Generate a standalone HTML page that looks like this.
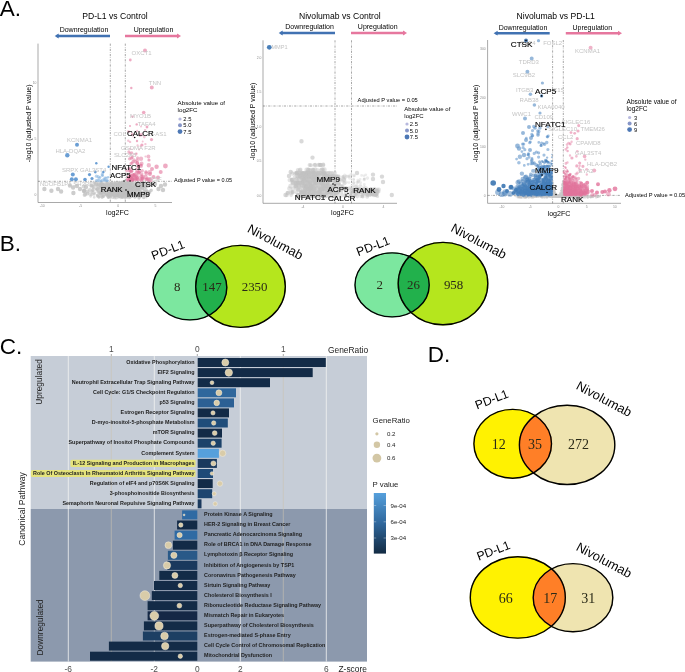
<!DOCTYPE html>
<html><head><meta charset="utf-8"><style>
html,body{margin:0;padding:0;background:#fff;}
svg{display:block;font-family:"Liberation Sans",sans-serif;}
</style></head><body>
<svg width="685" height="672" viewBox="0 0 685 672">
<rect width="685" height="672" fill="#fff"/>
<g opacity="0.999">
<text x="-0.2" y="16.0" font-size="22.5" fill="#000" text-anchor="start" font-weight="normal" font-family="Liberation Sans, sans-serif" >A.</text>
<text x="-0.2" y="251.0" font-size="22.5" fill="#000" text-anchor="start" font-weight="normal" font-family="Liberation Sans, sans-serif" >B.</text>
<text x="-0.2" y="353.6" font-size="22.5" fill="#000" text-anchor="start" font-weight="normal" font-family="Liberation Sans, sans-serif" >C.</text>
<text x="427.8" y="362.0" font-size="22.5" fill="#000" text-anchor="start" font-weight="normal" font-family="Liberation Sans, sans-serif" >D.</text>
<text x="115.0" y="19.0" font-size="8.6" fill="#000" text-anchor="middle" font-weight="normal" font-family="Liberation Sans, sans-serif" >PD-L1 vs Control</text>
<text x="84.0" y="31.9" font-size="7" fill="#000" text-anchor="middle" font-weight="normal" font-family="Liberation Sans, sans-serif" >Downregulation</text>
<text x="153.5" y="31.9" font-size="7" fill="#000" text-anchor="middle" font-weight="normal" font-family="Liberation Sans, sans-serif" >Upregulation</text>
<line x1="56.7" y1="36.0" x2="110.0" y2="36.0" stroke="#4172b2" stroke-width="2.4"/>
<polygon points="54.7,36 58.7,33.6 58.7,38.4" fill="#4172b2"/>
<line x1="125.0" y1="36.0" x2="179.0" y2="36.0" stroke="#e6779e" stroke-width="2.4"/>
<polygon points="181,36 177,33.6 177,38.4" fill="#e6779e"/>
<line x1="38.0" y1="43.6" x2="38.0" y2="202.5" stroke="#6e6e6e" stroke-width="0.6"/>
<line x1="38.0" y1="202.5" x2="172.0" y2="202.5" stroke="#6e6e6e" stroke-width="0.6"/>
<line x1="110.3" y1="43.6" x2="110.3" y2="202.5" stroke="#3c3c3c" stroke-width="0.45" stroke-dasharray="2.2 1.2 0.6 1.2"/>
<line x1="125.3" y1="43.6" x2="125.3" y2="202.5" stroke="#3c3c3c" stroke-width="0.45" stroke-dasharray="2.2 1.2 0.6 1.2"/>
<line x1="38.0" y1="181.3" x2="172.0" y2="181.3" stroke="#3c3c3c" stroke-width="0.45" stroke-dasharray="2.2 1.2 0.6 1.2"/>
<text x="117.5" y="215.0" font-size="7.1" fill="#000" text-anchor="middle" font-weight="normal" font-family="Liberation Sans, sans-serif" >log2FC</text>
<text transform="translate(30.9,123.3) rotate(-90)" font-size="7" fill="#000" text-anchor="middle" font-weight="normal" font-family="Liberation Sans, sans-serif">-log10 (adjusted P value)</text>
<text x="177.6" y="105.2" font-size="6.2" fill="#000" text-anchor="start" font-weight="normal" font-family="Liberation Sans, sans-serif" >Absolute value of</text>
<text x="177.6" y="112.4" font-size="6.2" fill="#000" text-anchor="start" font-weight="normal" font-family="Liberation Sans, sans-serif" >log2FC</text>
<path d="M180.0 119.0h0" stroke="#b7b9de" stroke-opacity="1.0" stroke-width="3.2" stroke-linecap="round" fill="none"/>
<text x="183.3" y="121.1" font-size="5.8" fill="#000" text-anchor="start" font-weight="normal" font-family="Liberation Sans, sans-serif" >2.5</text>
<path d="M180.0 125.2h0" stroke="#8796c8" stroke-opacity="1.0" stroke-width="4.0" stroke-linecap="round" fill="none"/>
<text x="183.3" y="127.3" font-size="5.8" fill="#000" text-anchor="start" font-weight="normal" font-family="Liberation Sans, sans-serif" >5.0</text>
<path d="M180.0 131.6h0" stroke="#4d78b5" stroke-opacity="1.0" stroke-width="4.8" stroke-linecap="round" fill="none"/>
<text x="183.3" y="133.7" font-size="5.8" fill="#000" text-anchor="start" font-weight="normal" font-family="Liberation Sans, sans-serif" >7.5</text>
<text x="174.0" y="182.0" font-size="5.5" fill="#000" text-anchor="start" font-weight="normal" font-family="Liberation Sans, sans-serif" >Adjusted P value = 0.05</text>
<text x="42.3" y="206.8" font-size="3.4" fill="#8c8c8c" text-anchor="middle" font-weight="normal" font-family="Liberation Sans, sans-serif" >-10</text>
<text x="80.6" y="206.8" font-size="3.4" fill="#8c8c8c" text-anchor="middle" font-weight="normal" font-family="Liberation Sans, sans-serif" >-5</text>
<text x="118.2" y="206.8" font-size="3.4" fill="#8c8c8c" text-anchor="middle" font-weight="normal" font-family="Liberation Sans, sans-serif" >0</text>
<text x="155.5" y="206.8" font-size="3.4" fill="#8c8c8c" text-anchor="middle" font-weight="normal" font-family="Liberation Sans, sans-serif" >5</text>
<text x="36.5" y="196.0" font-size="3.4" fill="#8c8c8c" text-anchor="end" font-weight="normal" font-family="Liberation Sans, sans-serif" >0</text>
<text x="36.5" y="140.4" font-size="3.4" fill="#8c8c8c" text-anchor="end" font-weight="normal" font-family="Liberation Sans, sans-serif" >5</text>
<text x="36.5" y="84.3" font-size="3.4" fill="#8c8c8c" text-anchor="end" font-weight="normal" font-family="Liberation Sans, sans-serif" >10</text>
<path d="M118.7 192.6h0M125.8 188.7h0M136.5 190.0h0M120.7 184.5h0M118.4 195.5h0M125.4 186.7h0M122.3 183.1h0M130.0 191.3h0M121.9 186.8h0M127.6 183.3h0M122.4 183.0h0M132.8 188.2h0M109.3 188.4h0M114.4 195.1h0M140.7 188.0h0M127.1 187.2h0M115.3 196.3h0M115.6 195.6h0M119.9 190.5h0M115.0 182.7h0M126.0 191.3h0M115.9 196.0h0M135.0 190.0h0M119.7 185.3h0M134.1 195.5h0M122.9 193.0h0M142.2 183.7h0M121.9 183.0h0M132.2 194.1h0M119.7 182.7h0M118.6 183.5h0M132.6 187.1h0M109.8 186.9h0M126.4 194.1h0M103.6 190.2h0M132.2 188.8h0M121.3 191.9h0M143.9 189.9h0" stroke="#c0c0c0" stroke-opacity="0.5" stroke-width="2.4" stroke-linecap="round" fill="none"/>
<path d="M128.6 190.8h0M112.4 183.4h0M107.4 182.8h0M130.1 185.0h0M141.1 194.1h0M114.4 182.8h0M99.1 188.7h0M130.3 184.1h0M132.3 190.3h0M118.1 184.9h0M122.4 184.6h0M128.0 194.0h0M136.5 189.5h0M112.8 188.3h0M132.2 187.8h0M110.5 190.6h0M116.0 191.5h0M111.3 193.0h0M150.0 192.8h0M94.2 197.3h0M112.2 191.1h0M103.9 189.5h0M128.5 193.3h0M114.1 196.2h0M111.8 194.6h0M110.6 183.1h0M139.2 192.8h0M124.7 183.1h0M132.7 195.8h0M119.6 188.9h0M126.2 188.0h0M132.6 194.0h0M127.9 189.2h0M114.0 189.5h0M115.4 183.4h0M112.3 191.2h0M122.3 189.9h0M134.2 186.6h0M113.7 195.9h0M100.7 184.1h0M135.8 195.0h0M133.4 191.8h0M137.8 196.0h0M140.2 184.7h0M142.7 184.9h0M121.6 184.0h0M106.1 193.9h0M124.0 186.2h0M137.0 186.7h0M134.1 195.9h0M102.3 184.2h0M109.2 188.5h0M139.0 196.3h0M140.7 191.4h0M144.8 191.5h0M135.2 196.1h0M124.7 186.3h0M130.6 197.2h0M109.8 184.5h0M126.5 187.2h0M117.8 193.3h0M135.3 192.9h0M117.8 184.3h0M118.2 195.3h0M122.4 189.1h0M113.2 182.9h0M134.5 185.8h0M131.9 193.0h0M147.1 191.7h0M148.3 185.3h0M114.9 195.6h0M109.6 195.8h0M124.5 188.6h0M122.3 189.8h0" stroke="#c0c0c0" stroke-opacity="0.5" stroke-width="2.8" stroke-linecap="round" fill="none"/>
<path d="M133.1 192.2h0M128.9 195.2h0M130.0 184.4h0M142.3 188.7h0M147.2 185.9h0M124.4 183.6h0M122.8 193.2h0M98.3 190.3h0M141.8 186.9h0M129.5 185.9h0M139.4 189.6h0M98.8 189.9h0M133.8 195.2h0M118.7 189.0h0M141.4 185.5h0M126.5 191.0h0M117.5 185.9h0M136.0 185.4h0M121.1 194.0h0M128.8 189.0h0M107.2 194.7h0M145.7 195.1h0M121.6 196.5h0M101.8 184.0h0M117.7 195.5h0M110.3 189.3h0M114.2 194.6h0M110.1 187.9h0M112.6 185.4h0M139.6 185.8h0M129.0 189.6h0M117.9 190.3h0M92.1 191.3h0M118.1 189.7h0M103.2 188.1h0M124.4 192.7h0M98.3 184.3h0M100.0 193.1h0M122.6 192.1h0M122.5 190.9h0M96.4 188.5h0M91.1 186.3h0M136.9 183.9h0" stroke="#c0c0c0" stroke-opacity="0.5" stroke-width="3.6" stroke-linecap="round" fill="none"/>
<path d="M126.0 187.3h0M111.4 189.0h0M138.8 189.8h0M126.9 196.1h0M130.1 195.7h0M109.5 183.8h0M132.3 189.6h0M112.9 186.8h0M131.7 183.6h0M124.0 193.9h0M143.5 196.0h0M130.9 194.1h0M104.9 192.2h0M129.8 185.8h0M102.4 197.1h0M127.2 196.3h0M126.8 197.1h0M131.4 194.0h0M120.2 188.0h0M116.6 188.1h0M122.2 196.2h0M120.6 191.0h0M127.6 190.1h0M131.3 186.3h0M107.5 183.1h0M110.2 185.1h0M141.2 186.4h0M111.8 187.9h0M121.7 195.6h0M148.2 186.2h0M111.6 195.2h0M106.5 183.9h0M121.9 189.6h0M124.8 196.1h0M114.7 192.4h0M123.5 195.4h0M127.2 190.2h0M120.2 183.0h0M145.5 186.7h0M127.8 183.1h0M120.2 184.3h0M101.7 183.8h0M129.3 188.1h0M126.4 187.6h0M125.7 183.9h0M129.9 188.1h0M110.9 195.4h0M122.5 184.4h0M139.5 191.4h0M112.8 189.2h0M132.2 187.2h0M128.2 189.6h0M115.7 193.0h0M94.1 182.6h0M116.9 188.0h0M118.7 196.4h0M98.0 192.0h0M120.0 183.0h0M125.5 187.5h0M143.5 193.9h0M117.6 194.1h0M112.1 192.4h0M108.2 185.4h0M129.4 188.2h0M146.9 195.8h0M114.1 187.1h0M120.1 186.0h0M118.4 196.3h0M118.2 191.0h0M129.3 196.0h0M131.6 187.3h0M151.3 190.2h0M143.8 184.4h0M140.2 195.8h0M128.1 193.6h0M91.8 194.4h0M143.5 195.7h0M143.6 197.4h0M121.3 186.7h0M144.2 193.5h0M113.5 193.5h0M112.7 190.8h0M139.1 192.2h0M113.1 192.8h0" stroke="#c0c0c0" stroke-opacity="0.5" stroke-width="3.2" stroke-linecap="round" fill="none"/>
<path d="M122.7 196.9h0M102.4 191.9h0M124.4 186.0h0M118.1 191.6h0M111.9 190.4h0M102.3 185.1h0M113.9 191.6h0" stroke="#c0c0c0" stroke-opacity="0.5" stroke-width="4.0" stroke-linecap="round" fill="none"/>
<path d="M84.5 190.6h0M85.2 194.2h0" stroke="#c0c0c0" stroke-opacity="0.6" stroke-width="4.0" stroke-linecap="round" fill="none"/>
<path d="M44.4 189.0h0M69.9 185.5h0M80.0 189.0h0M165.0 184.5h0" stroke="#c0c0c0" stroke-opacity="0.8" stroke-width="4.4" stroke-linecap="round" fill="none"/>
<path d="M128.9 178.4h0M130.7 177.6h0" stroke="#e2739b" stroke-opacity="0.5" stroke-width="2.4" stroke-linecap="round" fill="none"/>
<path d="M146.0 179.6h0M134.2 175.7h0M135.9 178.8h0M133.8 177.6h0M131.4 171.5h0M132.9 178.9h0M135.4 161.7h0" stroke="#e2739b" stroke-opacity="0.5" stroke-width="3.6" stroke-linecap="round" fill="none"/>
<path d="M126.9 170.8h0M138.2 177.2h0M129.5 158.8h0M134.0 159.9h0M129.7 179.9h0M130.7 174.8h0M131.7 152.9h0M142.3 170.7h0M130.9 163.7h0M130.4 168.8h0" stroke="#e2739b" stroke-opacity="0.5" stroke-width="3.2" stroke-linecap="round" fill="none"/>
<path d="M140.8 180.0h0M138.5 172.8h0M141.4 176.3h0" stroke="#e2739b" stroke-opacity="0.5" stroke-width="4.0" stroke-linecap="round" fill="none"/>
<path d="M128.4 177.3h0M131.2 180.1h0M132.2 178.6h0M130.8 178.3h0" stroke="#e2739b" stroke-opacity="0.5" stroke-width="2.8" stroke-linecap="round" fill="none"/>
<path d="M150.3 180.1h0" stroke="#e2739b" stroke-opacity="0.5" stroke-width="4.8" stroke-linecap="round" fill="none"/>
<path d="M141.0 158.7h0M148.8 165.3h0" stroke="#e2739b" stroke-opacity="0.5" stroke-width="4.4" stroke-linecap="round" fill="none"/>
<path d="M139.9 134.5h0" stroke="#e2739b" stroke-opacity="0.4" stroke-width="2.8" stroke-linecap="round" fill="none"/>
<path d="M140.5 146.3h0M132.9 155.9h0M129.9 148.8h0" stroke="#e2739b" stroke-opacity="0.4" stroke-width="2.0" stroke-linecap="round" fill="none"/>
<path d="M130.1 141.9h0M139.9 135.7h0" stroke="#e2739b" stroke-opacity="0.4" stroke-width="2.4" stroke-linecap="round" fill="none"/>
<path d="M142.1 133.2h0" stroke="#e2739b" stroke-opacity="0.4" stroke-width="1.6" stroke-linecap="round" fill="none"/>
<path d="M145.0 50.4h0M152.0 169.0h0" stroke="#e2739b" stroke-opacity="0.6" stroke-width="4.0" stroke-linecap="round" fill="none"/>
<path d="M130.3 60.0h0" stroke="#e2739b" stroke-opacity="0.6" stroke-width="2.8" stroke-linecap="round" fill="none"/>
<path d="M131.3 88.0h0" stroke="#e2739b" stroke-opacity="0.6" stroke-width="2.4" stroke-linecap="round" fill="none"/>
<path d="M143.7 112.5h0" stroke="#e2739b" stroke-opacity="0.6" stroke-width="3.6" stroke-linecap="round" fill="none"/>
<path d="M130.0 126.0h0" stroke="#e2739b" stroke-opacity="0.6" stroke-width="2.0" stroke-linecap="round" fill="none"/>
<path d="M151.5 139.6h0" stroke="#e2739b" stroke-opacity="0.6" stroke-width="3.2" stroke-linecap="round" fill="none"/>
<path d="M156.6 166.8h0" stroke="#e2739b" stroke-opacity="0.6" stroke-width="4.4" stroke-linecap="round" fill="none"/>
<path d="M165.4 166.0h0" stroke="#e2739b" stroke-opacity="0.6" stroke-width="4.8" stroke-linecap="round" fill="none"/>
<path d="M106.2 179.5h0M105.5 180.4h0M104.2 179.9h0M105.9 178.2h0" stroke="#86b4e0" stroke-opacity="0.55" stroke-width="2.8" stroke-linecap="round" fill="none"/>
<path d="M98.0 180.3h0M98.1 176.7h0" stroke="#86b4e0" stroke-opacity="0.55" stroke-width="3.2" stroke-linecap="round" fill="none"/>
<path d="M107.7 180.8h0" stroke="#86b4e0" stroke-opacity="0.55" stroke-width="2.4" stroke-linecap="round" fill="none"/>
<path d="M77.0 144.7h0" stroke="#5a94cf" stroke-opacity="0.9" stroke-width="4.0" stroke-linecap="round" fill="none"/>
<path d="M67.3 155.3h0" stroke="#5a94cf" stroke-opacity="0.9" stroke-width="4.4" stroke-linecap="round" fill="none"/>
<path d="M85.0 179.5h0" stroke="#5a94cf" stroke-opacity="0.9" stroke-width="3.6" stroke-linecap="round" fill="none"/>
<path d="M89.5 174.6h0" stroke="#5a94cf" stroke-opacity="0.9" stroke-width="3.2" stroke-linecap="round" fill="none"/>
<path d="M96.3 163.3h0" stroke="#5a94cf" stroke-opacity="0.9" stroke-width="2.4" stroke-linecap="round" fill="none"/>
<path d="M95.3 172.0h0" stroke="#5a94cf" stroke-opacity="0.9" stroke-width="2.8" stroke-linecap="round" fill="none"/>
<path d="M127.5 183.6h0M109.6 192.3h0M119.7 185.0h0M114.2 196.5h0M94.9 192.7h0M112.5 184.2h0M115.4 190.1h0M107.5 189.7h0M129.0 187.7h0M134.0 194.1h0M119.6 186.8h0M131.6 185.7h0M115.2 189.3h0M120.3 182.5h0M123.1 184.8h0M118.8 192.2h0M100.7 185.7h0M101.7 192.4h0M126.1 185.8h0M140.1 186.4h0M96.1 189.4h0M124.3 185.4h0M103.0 187.9h0M127.2 197.2h0M102.1 183.4h0M117.0 185.9h0M128.5 185.6h0M124.0 193.4h0M113.7 190.7h0M146.1 190.4h0M131.4 187.8h0M141.0 183.1h0M132.3 196.2h0M114.5 191.2h0M107.9 195.1h0M131.6 194.2h0M131.0 184.3h0" stroke="#c0c0c0" stroke-opacity="0.5" stroke-width="2.4" stroke-linecap="round" fill="none"/>
<path d="M136.5 183.1h0M109.6 189.5h0M142.7 184.5h0M127.9 187.9h0M138.8 192.7h0M122.5 194.9h0M146.5 185.0h0M125.8 193.2h0M135.7 195.2h0M119.2 187.3h0M121.2 183.7h0M125.8 193.0h0M137.1 189.5h0M139.3 188.1h0M141.0 188.6h0M104.2 185.8h0M124.9 182.7h0M141.3 183.0h0M130.3 186.8h0M101.3 182.9h0M101.6 189.4h0M135.8 192.1h0M126.2 186.9h0M135.0 185.3h0M129.2 183.5h0M147.0 192.3h0M105.0 194.6h0M100.9 190.6h0M127.8 185.7h0M119.8 194.5h0M145.3 182.9h0M118.8 186.2h0M125.5 183.0h0M133.0 186.4h0M120.3 189.0h0M106.5 195.2h0M116.3 184.7h0M110.9 184.7h0M123.2 189.2h0M121.4 189.0h0M128.5 191.4h0M121.7 195.9h0M101.4 192.9h0M132.0 189.5h0M128.3 185.1h0M125.6 193.8h0M121.2 195.1h0M114.1 186.4h0M126.9 187.1h0M122.9 191.1h0M108.9 197.4h0M107.9 185.4h0M131.0 185.4h0M127.2 184.1h0M138.5 189.5h0M124.6 185.2h0M116.5 184.5h0M112.3 188.2h0M141.3 192.8h0M129.4 183.1h0M137.8 195.0h0M93.3 187.9h0M108.5 189.8h0M130.6 196.5h0M113.8 189.0h0M108.2 191.3h0M111.7 184.4h0M111.3 183.7h0M149.7 191.9h0M136.9 184.8h0M103.4 191.5h0M101.1 193.1h0M98.9 197.5h0" stroke="#c0c0c0" stroke-opacity="0.5" stroke-width="2.8" stroke-linecap="round" fill="none"/>
<path d="M102.6 190.6h0M119.6 188.1h0M119.1 190.7h0M115.4 182.7h0M123.3 183.5h0M106.5 183.8h0M135.9 186.6h0M130.2 191.6h0M113.6 188.3h0M132.8 195.7h0M100.7 186.3h0M118.3 190.1h0M120.2 185.4h0M144.2 183.3h0M121.6 185.0h0M131.0 192.5h0M104.2 188.6h0M116.0 188.5h0M139.4 188.0h0M137.4 190.0h0M118.5 189.1h0M136.0 193.1h0M126.6 192.5h0M112.1 187.4h0M128.5 191.7h0M131.6 195.1h0M132.5 194.7h0M109.9 188.0h0M120.4 186.7h0M123.3 190.4h0M115.4 187.8h0M103.4 196.0h0M144.1 194.3h0M108.7 187.8h0M130.2 189.2h0M134.1 194.2h0M150.9 190.5h0M132.7 192.6h0M110.0 192.3h0M104.8 185.9h0M114.5 197.5h0M93.6 186.0h0" stroke="#c0c0c0" stroke-opacity="0.5" stroke-width="3.6" stroke-linecap="round" fill="none"/>
<path d="M127.1 185.3h0M130.7 183.1h0M95.6 183.4h0M121.2 195.9h0M130.9 186.0h0M109.8 185.3h0M135.3 190.7h0M118.4 190.4h0M127.9 184.9h0M97.4 188.6h0M134.7 189.9h0M103.6 196.3h0M128.4 190.3h0M134.3 195.2h0M100.9 183.3h0M116.1 184.5h0M113.0 186.4h0M131.6 187.3h0M133.6 188.9h0M122.2 189.0h0M137.5 186.1h0M134.4 185.6h0M100.5 192.1h0M125.0 191.2h0M127.5 183.8h0M97.0 184.3h0M132.6 189.2h0M127.4 191.9h0M120.6 189.7h0M137.3 193.2h0M146.6 195.1h0M122.3 185.6h0M106.0 189.3h0M102.1 193.6h0M109.7 194.5h0M135.8 194.6h0M120.9 191.2h0M113.6 189.9h0M110.0 192.0h0M138.3 188.2h0M108.7 188.5h0M123.7 187.3h0M112.7 188.5h0M132.2 189.0h0M97.7 196.2h0M117.9 197.2h0M112.4 192.0h0M132.6 187.5h0M106.9 190.2h0M122.9 192.3h0M118.7 184.4h0M118.4 185.9h0M132.4 195.7h0M122.0 184.7h0M107.8 188.7h0M128.0 190.4h0M131.2 189.3h0M119.3 196.4h0M134.9 188.1h0M116.7 195.5h0M134.9 196.9h0M137.4 186.2h0M125.9 185.4h0M140.0 191.3h0M108.7 189.3h0M115.9 183.8h0M97.9 191.0h0M108.8 196.0h0M107.4 184.2h0M92.7 185.9h0M129.3 188.6h0M105.1 186.8h0M145.7 187.4h0M110.9 184.3h0M110.5 193.9h0M111.3 194.7h0M136.6 195.0h0M135.6 184.9h0M120.2 185.4h0M114.0 188.9h0M103.8 192.1h0M113.0 188.3h0M92.7 189.7h0M94.4 194.1h0" stroke="#c0c0c0" stroke-opacity="0.5" stroke-width="3.2" stroke-linecap="round" fill="none"/>
<path d="M139.3 195.7h0M144.3 192.5h0M125.0 189.2h0M91.5 185.1h0M111.7 186.5h0M124.0 187.9h0M122.6 190.5h0" stroke="#c0c0c0" stroke-opacity="0.5" stroke-width="4.0" stroke-linecap="round" fill="none"/>
<path d="M89.8 190.1h0M87.4 193.4h0" stroke="#c0c0c0" stroke-opacity="0.6" stroke-width="4.0" stroke-linecap="round" fill="none"/>
<path d="M51.4 190.7h0M73.1 187.5h0M84.0 191.0h0M158.5 189.0h0" stroke="#c0c0c0" stroke-opacity="0.8" stroke-width="4.4" stroke-linecap="round" fill="none"/>
<path d="M129.6 179.1h0" stroke="#e2739b" stroke-opacity="0.5" stroke-width="2.4" stroke-linecap="round" fill="none"/>
<path d="M137.3 163.4h0M141.7 174.1h0M139.3 172.8h0M142.1 178.4h0M136.6 172.8h0M131.3 158.1h0" stroke="#e2739b" stroke-opacity="0.5" stroke-width="3.6" stroke-linecap="round" fill="none"/>
<path d="M133.5 177.0h0M131.0 177.6h0M138.3 165.0h0M132.5 180.2h0M136.8 179.4h0M135.3 180.0h0M135.3 178.2h0M132.9 161.7h0M131.0 171.3h0" stroke="#e2739b" stroke-opacity="0.5" stroke-width="3.2" stroke-linecap="round" fill="none"/>
<path d="M141.0 166.1h0M148.4 156.5h0M137.2 170.7h0" stroke="#e2739b" stroke-opacity="0.5" stroke-width="4.0" stroke-linecap="round" fill="none"/>
<path d="M136.1 175.9h0M133.8 174.4h0M129.3 170.6h0M130.1 153.6h0" stroke="#e2739b" stroke-opacity="0.5" stroke-width="2.8" stroke-linecap="round" fill="none"/>
<path d="M149.1 179.5h0" stroke="#e2739b" stroke-opacity="0.5" stroke-width="4.8" stroke-linecap="round" fill="none"/>
<path d="M142.6 176.9h0" stroke="#e2739b" stroke-opacity="0.5" stroke-width="4.4" stroke-linecap="round" fill="none"/>
<path d="M144.3 137.1h0" stroke="#e2739b" stroke-opacity="0.4" stroke-width="2.8" stroke-linecap="round" fill="none"/>
<path d="M141.0 126.5h0M131.9 135.0h0M142.7 141.5h0" stroke="#e2739b" stroke-opacity="0.4" stroke-width="2.0" stroke-linecap="round" fill="none"/>
<path d="M137.6 145.5h0M129.1 131.7h0" stroke="#e2739b" stroke-opacity="0.4" stroke-width="2.4" stroke-linecap="round" fill="none"/>
<path d="M136.8 153.3h0" stroke="#e2739b" stroke-opacity="0.4" stroke-width="1.6" stroke-linecap="round" fill="none"/>
<path d="M151.8 87.6h0M158.0 177.5h0" stroke="#e2739b" stroke-opacity="0.6" stroke-width="4.0" stroke-linecap="round" fill="none"/>
<path d="M147.0 127.0h0" stroke="#e2739b" stroke-opacity="0.6" stroke-width="2.8" stroke-linecap="round" fill="none"/>
<path d="M132.5 116.7h0" stroke="#e2739b" stroke-opacity="0.6" stroke-width="2.4" stroke-linecap="round" fill="none"/>
<path d="M146.0 172.0h0" stroke="#e2739b" stroke-opacity="0.6" stroke-width="3.6" stroke-linecap="round" fill="none"/>
<path d="M141.9 145.0h0" stroke="#e2739b" stroke-opacity="0.6" stroke-width="3.2" stroke-linecap="round" fill="none"/>
<path d="M100.2 177.1h0M102.7 173.0h0M102.5 175.3h0M105.0 180.1h0" stroke="#86b4e0" stroke-opacity="0.55" stroke-width="2.8" stroke-linecap="round" fill="none"/>
<path d="M99.2 178.3h0M99.8 181.0h0" stroke="#86b4e0" stroke-opacity="0.55" stroke-width="3.2" stroke-linecap="round" fill="none"/>
<path d="M108.5 177.1h0" stroke="#86b4e0" stroke-opacity="0.55" stroke-width="2.4" stroke-linecap="round" fill="none"/>
<path d="M72.8 174.6h0" stroke="#5a94cf" stroke-opacity="0.9" stroke-width="4.0" stroke-linecap="round" fill="none"/>
<path d="M92.0 178.5h0" stroke="#5a94cf" stroke-opacity="0.9" stroke-width="3.2" stroke-linecap="round" fill="none"/>
<path d="M103.4 172.0h0" stroke="#5a94cf" stroke-opacity="0.9" stroke-width="2.4" stroke-linecap="round" fill="none"/>
<path d="M113.9 191.0h0M125.7 183.3h0M146.3 197.2h0M131.3 189.0h0M125.8 193.7h0M120.6 186.4h0M101.4 192.7h0M108.8 190.0h0M123.3 191.0h0M113.8 185.1h0M122.2 183.5h0M121.7 185.7h0M128.3 184.2h0M136.5 196.4h0M101.9 186.6h0M123.0 184.7h0M115.7 192.4h0M103.6 189.7h0M121.7 185.4h0M106.2 194.7h0M137.0 185.8h0M108.0 197.4h0M109.2 184.8h0M96.8 189.4h0M110.1 186.5h0M126.2 184.7h0M131.6 188.2h0M136.1 183.2h0M117.7 190.8h0M109.1 192.4h0M119.7 189.5h0M103.9 187.9h0M106.8 195.4h0M107.6 186.3h0M111.6 186.4h0M138.2 194.5h0M137.2 188.4h0" stroke="#c0c0c0" stroke-opacity="0.5" stroke-width="2.4" stroke-linecap="round" fill="none"/>
<path d="M100.3 184.4h0M114.0 191.5h0M126.2 186.1h0M121.4 184.1h0M116.4 185.8h0M117.0 190.8h0M120.4 190.5h0M120.4 183.3h0M142.5 188.8h0M132.2 183.9h0M112.1 193.8h0M120.5 196.4h0M122.3 184.7h0M136.7 186.4h0M136.2 184.7h0M103.2 186.4h0M105.4 189.9h0M123.1 194.3h0M128.0 183.3h0M134.3 186.4h0M138.2 185.6h0M112.9 185.4h0M132.8 191.3h0M133.9 187.2h0M122.3 196.4h0M125.0 197.9h0M112.2 190.7h0M127.5 182.7h0M119.6 186.5h0M106.9 194.8h0M109.3 196.2h0M141.2 184.9h0M121.9 191.9h0M109.3 188.5h0M123.3 193.3h0M139.4 186.6h0M110.2 194.8h0M135.6 184.7h0M140.7 194.8h0M108.1 189.9h0M106.7 189.7h0M112.8 194.6h0M123.0 193.0h0M106.7 195.3h0M145.7 192.9h0M131.5 193.5h0M122.1 196.0h0M119.6 196.8h0M126.8 187.0h0M124.6 196.0h0M112.1 189.5h0M114.9 184.0h0M134.1 182.6h0M123.5 193.6h0M122.0 196.9h0M138.2 188.5h0M134.1 185.0h0M144.2 191.3h0M118.9 195.6h0M115.8 193.6h0M122.0 188.0h0M117.5 194.3h0M110.8 197.0h0M138.3 185.0h0M134.9 185.0h0M130.0 184.3h0M144.5 193.0h0M151.2 184.1h0M125.0 197.3h0M135.7 196.4h0M90.6 196.3h0M135.8 190.5h0M138.6 196.2h0" stroke="#c0c0c0" stroke-opacity="0.5" stroke-width="2.8" stroke-linecap="round" fill="none"/>
<path d="M130.0 188.6h0M107.6 183.3h0M117.6 195.1h0M108.6 197.1h0M127.6 189.0h0M104.5 183.5h0M138.1 186.3h0M125.2 184.1h0M128.6 183.3h0M125.3 193.5h0M109.6 188.3h0M102.8 184.4h0M128.3 191.5h0M119.7 183.1h0M112.7 191.5h0M142.2 187.6h0M136.0 186.6h0M142.6 193.4h0M144.7 195.3h0M112.5 193.7h0M107.9 191.8h0M119.4 183.0h0M120.2 183.1h0M149.2 183.4h0M135.5 195.3h0M129.1 197.5h0M119.3 195.6h0M120.1 190.7h0M117.8 185.2h0M124.5 182.7h0M134.6 184.2h0M111.9 183.6h0M132.2 187.8h0M130.2 186.3h0M137.6 184.8h0M118.1 187.4h0M135.5 184.4h0M133.0 188.0h0M146.3 190.1h0M118.5 192.5h0M117.9 190.2h0M141.7 184.8h0" stroke="#c0c0c0" stroke-opacity="0.5" stroke-width="3.6" stroke-linecap="round" fill="none"/>
<path d="M116.2 187.4h0M134.3 194.4h0M135.5 188.2h0M121.1 185.1h0M132.4 186.5h0M119.9 192.6h0M123.1 189.8h0M123.8 189.4h0M133.6 192.2h0M108.5 193.5h0M122.1 185.6h0M119.6 184.7h0M102.4 194.4h0M112.0 182.5h0M120.8 187.2h0M122.5 189.8h0M120.0 183.6h0M125.5 189.0h0M131.6 193.9h0M112.1 195.6h0M124.8 191.8h0M123.2 191.0h0M140.2 185.0h0M135.0 191.0h0M124.7 183.3h0M114.0 196.0h0M116.2 191.5h0M128.8 192.4h0M122.0 195.6h0M105.0 193.7h0M127.4 195.3h0M113.2 185.8h0M134.4 194.8h0M104.6 188.8h0M103.6 187.1h0M110.8 196.4h0M111.4 183.7h0M113.1 191.1h0M108.0 191.7h0M112.2 194.7h0M142.6 186.3h0M144.3 188.2h0M112.2 197.1h0M100.1 185.6h0M108.7 189.9h0M114.4 186.5h0M144.6 188.3h0M98.2 188.4h0M111.6 195.5h0M142.2 183.0h0M135.9 195.5h0M131.0 188.4h0M100.8 194.0h0M108.0 196.8h0M110.0 189.3h0M102.6 187.3h0M125.9 196.4h0M116.4 190.5h0M118.5 184.5h0M129.8 195.4h0M117.5 195.4h0M111.2 195.1h0M138.8 185.1h0M116.7 183.7h0M97.0 189.4h0M109.2 188.3h0M142.8 184.1h0M144.8 185.1h0M128.5 187.0h0M119.0 191.6h0M111.7 191.2h0M124.2 196.6h0M91.4 185.8h0M92.8 192.3h0M112.5 197.4h0M148.6 192.3h0M103.0 195.9h0M132.3 184.8h0M144.8 193.7h0M127.7 196.5h0M122.4 190.2h0M107.0 188.0h0M134.2 187.6h0" stroke="#c0c0c0" stroke-opacity="0.5" stroke-width="3.2" stroke-linecap="round" fill="none"/>
<path d="M98.4 183.6h0M118.7 183.7h0M129.8 187.7h0M146.9 193.5h0M124.0 193.2h0M90.1 193.9h0" stroke="#c0c0c0" stroke-opacity="0.5" stroke-width="4.0" stroke-linecap="round" fill="none"/>
<path d="M84.6 194.9h0M83.6 186.4h0" stroke="#c0c0c0" stroke-opacity="0.6" stroke-width="4.0" stroke-linecap="round" fill="none"/>
<path d="M58.0 189.0h0M73.4 193.0h0M86.0 187.0h0M163.0 190.0h0" stroke="#c0c0c0" stroke-opacity="0.8" stroke-width="4.4" stroke-linecap="round" fill="none"/>
<path d="M128.5 176.9h0" stroke="#e2739b" stroke-opacity="0.5" stroke-width="2.4" stroke-linecap="round" fill="none"/>
<path d="M141.8 180.0h0M131.1 177.8h0M137.4 162.9h0M133.1 174.7h0M135.9 176.8h0M130.4 175.5h0" stroke="#e2739b" stroke-opacity="0.5" stroke-width="3.6" stroke-linecap="round" fill="none"/>
<path d="M131.9 180.0h0M132.2 157.3h0M132.7 175.9h0M132.6 179.7h0M134.8 174.0h0M138.1 167.4h0M129.9 175.9h0M135.9 154.0h0M127.5 179.2h0" stroke="#e2739b" stroke-opacity="0.5" stroke-width="3.2" stroke-linecap="round" fill="none"/>
<path d="M137.2 178.6h0M142.4 178.6h0M146.3 173.6h0" stroke="#e2739b" stroke-opacity="0.5" stroke-width="4.0" stroke-linecap="round" fill="none"/>
<path d="M133.0 180.1h0M131.4 176.8h0M127.3 180.2h0M128.8 168.3h0" stroke="#e2739b" stroke-opacity="0.5" stroke-width="2.8" stroke-linecap="round" fill="none"/>
<path d="M149.8 172.3h0" stroke="#e2739b" stroke-opacity="0.5" stroke-width="4.4" stroke-linecap="round" fill="none"/>
<path d="M132.2 133.8h0" stroke="#e2739b" stroke-opacity="0.4" stroke-width="2.8" stroke-linecap="round" fill="none"/>
<path d="M128.0 131.3h0M145.3 130.1h0M144.9 130.1h0" stroke="#e2739b" stroke-opacity="0.4" stroke-width="2.0" stroke-linecap="round" fill="none"/>
<path d="M137.1 131.0h0M145.4 144.1h0" stroke="#e2739b" stroke-opacity="0.4" stroke-width="2.4" stroke-linecap="round" fill="none"/>
<path d="M133.1 136.7h0" stroke="#e2739b" stroke-opacity="0.4" stroke-width="1.6" stroke-linecap="round" fill="none"/>
<path d="M160.7 172.0h0M150.0 174.0h0" stroke="#e2739b" stroke-opacity="0.6" stroke-width="4.0" stroke-linecap="round" fill="none"/>
<path d="M136.7 124.4h0" stroke="#e2739b" stroke-opacity="0.6" stroke-width="2.4" stroke-linecap="round" fill="none"/>
<path d="M147.0 179.0h0" stroke="#e2739b" stroke-opacity="0.6" stroke-width="3.6" stroke-linecap="round" fill="none"/>
<path d="M141.0 165.0h0" stroke="#e2739b" stroke-opacity="0.6" stroke-width="3.2" stroke-linecap="round" fill="none"/>
<path d="M103.9 179.2h0M103.3 180.5h0M102.0 174.6h0M102.4 180.2h0" stroke="#86b4e0" stroke-opacity="0.55" stroke-width="2.8" stroke-linecap="round" fill="none"/>
<path d="M96.4 180.5h0" stroke="#86b4e0" stroke-opacity="0.55" stroke-width="3.2" stroke-linecap="round" fill="none"/>
<path d="M107.5 180.6h0" stroke="#86b4e0" stroke-opacity="0.55" stroke-width="2.4" stroke-linecap="round" fill="none"/>
<path d="M71.8 179.3h0" stroke="#5a94cf" stroke-opacity="0.9" stroke-width="4.0" stroke-linecap="round" fill="none"/>
<path d="M108.6 166.8h0" stroke="#5a94cf" stroke-opacity="0.9" stroke-width="2.4" stroke-linecap="round" fill="none"/>
<path d="M134.7 185.1h0M125.5 188.1h0M102.6 188.0h0M118.0 194.7h0M143.9 186.7h0M124.3 186.5h0M124.6 192.5h0M144.8 195.5h0M138.4 187.2h0M126.3 196.4h0M118.7 183.8h0M113.0 190.3h0M135.3 189.2h0M124.7 182.8h0M122.3 194.6h0M127.2 193.9h0M100.3 187.6h0M105.2 192.2h0M102.6 195.7h0M118.0 187.2h0M133.2 182.7h0M140.8 195.2h0M136.5 194.7h0M113.4 185.9h0M114.2 186.2h0M134.8 191.4h0M121.4 185.3h0M120.8 188.8h0M129.8 197.4h0M127.5 194.3h0M115.0 196.0h0M136.8 194.1h0M119.0 185.7h0M105.3 186.2h0M133.8 191.6h0M117.8 194.5h0M128.2 194.9h0" stroke="#c0c0c0" stroke-opacity="0.5" stroke-width="2.4" stroke-linecap="round" fill="none"/>
<path d="M115.9 195.8h0M97.3 195.2h0M130.4 191.6h0M123.7 185.5h0M119.4 191.6h0M132.1 183.6h0M132.7 191.1h0M117.8 194.3h0M134.6 186.9h0M116.3 188.5h0M119.7 190.2h0M117.8 182.8h0M140.4 196.5h0M101.3 192.5h0M121.7 183.9h0M107.7 194.6h0M118.9 182.8h0M139.3 198.0h0M121.5 187.8h0M132.1 183.7h0M129.5 187.6h0M117.5 184.1h0M133.1 195.2h0M110.1 192.7h0M121.6 185.7h0M112.3 194.4h0M113.1 184.1h0M114.7 187.6h0M123.2 193.6h0M122.9 190.2h0M122.6 192.5h0M114.7 185.0h0M93.6 194.1h0M120.2 193.1h0M131.2 190.7h0M135.7 193.7h0M114.7 194.0h0M123.0 195.5h0M119.0 187.4h0M146.3 191.8h0M108.1 194.5h0M131.7 183.1h0M103.6 184.1h0M138.2 186.6h0M111.4 186.5h0M110.2 186.7h0M146.0 193.3h0M138.1 190.6h0M141.5 192.0h0M126.1 183.5h0M114.1 193.7h0M121.7 185.1h0M131.5 192.9h0M110.6 185.1h0M106.1 185.9h0M128.1 195.3h0M101.9 193.7h0M130.6 186.9h0M112.7 192.2h0M125.8 183.2h0M126.5 185.6h0M133.9 186.9h0M144.1 195.5h0M127.5 183.1h0M117.0 183.8h0M120.8 188.6h0M141.3 185.5h0M108.7 185.9h0M95.8 185.7h0M110.1 196.1h0M139.1 193.2h0M101.0 187.2h0M145.4 195.6h0" stroke="#c0c0c0" stroke-opacity="0.5" stroke-width="2.8" stroke-linecap="round" fill="none"/>
<path d="M134.4 191.0h0M108.9 194.6h0M131.2 192.2h0M131.4 191.2h0M126.2 184.8h0M110.7 191.1h0M119.0 183.2h0M137.4 186.1h0M132.5 194.0h0M135.0 196.9h0M110.9 194.2h0M121.3 192.6h0M140.8 194.6h0M106.7 188.4h0M108.8 189.4h0M107.6 190.3h0M116.1 189.7h0M114.6 194.6h0M124.0 184.9h0M120.8 185.4h0M122.1 195.1h0M111.3 184.4h0M113.6 185.9h0M123.5 188.1h0M130.7 188.6h0M114.6 184.5h0M130.5 189.1h0M147.7 191.5h0M140.9 196.2h0M123.0 182.6h0M100.0 193.9h0M121.0 187.2h0M135.9 190.6h0M98.5 186.1h0M116.2 191.0h0M119.5 192.7h0M104.3 186.3h0M104.5 192.3h0M98.8 196.5h0M113.6 195.1h0M137.0 185.6h0M101.9 197.1h0" stroke="#c0c0c0" stroke-opacity="0.5" stroke-width="3.6" stroke-linecap="round" fill="none"/>
<path d="M127.5 186.3h0M130.0 193.3h0M122.3 197.3h0M134.4 190.8h0M130.0 192.6h0M134.7 196.0h0M111.2 190.5h0M93.4 190.3h0M112.9 191.3h0M128.5 183.6h0M118.8 191.6h0M99.1 193.1h0M131.5 192.9h0M121.4 196.2h0M130.1 186.5h0M127.8 190.6h0M104.7 185.6h0M100.2 196.2h0M143.4 194.5h0M117.4 188.3h0M139.3 185.7h0M113.3 186.9h0M124.3 195.6h0M110.9 186.1h0M138.8 197.9h0M131.5 183.2h0M129.2 185.7h0M132.0 196.3h0M102.0 186.6h0M141.3 192.3h0M120.6 184.0h0M122.1 194.7h0M120.4 189.2h0M107.5 193.6h0M133.0 192.4h0M126.6 193.2h0M119.9 191.9h0M115.5 188.8h0M107.6 185.8h0M133.0 189.2h0M125.1 195.8h0M103.9 184.7h0M120.8 197.6h0M109.8 186.4h0M125.2 185.3h0M116.8 193.6h0M137.7 189.4h0M131.9 190.5h0M94.9 183.3h0M104.1 186.6h0M130.6 191.3h0M113.6 187.1h0M119.6 189.9h0M116.0 198.0h0M133.9 190.7h0M107.5 190.2h0M117.8 184.3h0M119.1 188.5h0M125.6 188.9h0M121.1 195.7h0M137.3 183.2h0M113.2 189.6h0M97.5 195.4h0M120.9 185.5h0M143.9 197.6h0M112.3 190.1h0M123.0 182.7h0M109.0 187.8h0M133.5 193.2h0M110.7 183.8h0M93.7 188.2h0M112.1 194.3h0M133.7 186.6h0M120.7 191.9h0M112.7 185.6h0M105.6 187.2h0M138.3 195.6h0M150.7 184.0h0M92.7 190.6h0M127.9 188.8h0M97.6 185.7h0M143.3 186.3h0M130.2 194.9h0" stroke="#c0c0c0" stroke-opacity="0.5" stroke-width="3.2" stroke-linecap="round" fill="none"/>
<path d="M101.1 191.6h0M109.2 194.3h0M110.6 190.3h0M96.5 183.8h0M109.7 189.4h0M121.6 191.8h0" stroke="#c0c0c0" stroke-opacity="0.5" stroke-width="4.0" stroke-linecap="round" fill="none"/>
<path d="M84.2 190.9h0M87.5 191.5h0" stroke="#c0c0c0" stroke-opacity="0.6" stroke-width="4.0" stroke-linecap="round" fill="none"/>
<path d="M61.1 191.5h0M76.9 186.0h0M161.0 186.0h0M155.0 184.0h0" stroke="#c0c0c0" stroke-opacity="0.8" stroke-width="4.4" stroke-linecap="round" fill="none"/>
<path d="M128.2 180.4h0" stroke="#e2739b" stroke-opacity="0.5" stroke-width="2.4" stroke-linecap="round" fill="none"/>
<path d="M132.7 179.6h0M130.1 178.3h0M130.2 179.7h0M136.6 175.6h0M135.7 178.7h0M137.2 160.3h0" stroke="#e2739b" stroke-opacity="0.5" stroke-width="3.6" stroke-linecap="round" fill="none"/>
<path d="M133.7 175.2h0M131.1 179.9h0M130.2 177.2h0M137.6 157.9h0M132.1 163.1h0M128.9 151.8h0M129.9 171.3h0M138.3 166.4h0M131.8 179.2h0" stroke="#e2739b" stroke-opacity="0.5" stroke-width="3.2" stroke-linecap="round" fill="none"/>
<path d="M141.6 163.5h0M137.8 179.3h0M139.5 171.6h0" stroke="#e2739b" stroke-opacity="0.5" stroke-width="4.0" stroke-linecap="round" fill="none"/>
<path d="M132.2 170.9h0M132.7 179.0h0M133.1 179.7h0" stroke="#e2739b" stroke-opacity="0.5" stroke-width="2.8" stroke-linecap="round" fill="none"/>
<path d="M145.6 176.9h0" stroke="#e2739b" stroke-opacity="0.5" stroke-width="4.4" stroke-linecap="round" fill="none"/>
<path d="M141.7 135.0h0" stroke="#e2739b" stroke-opacity="0.4" stroke-width="2.8" stroke-linecap="round" fill="none"/>
<path d="M145.4 156.6h0M139.1 149.6h0" stroke="#e2739b" stroke-opacity="0.4" stroke-width="2.0" stroke-linecap="round" fill="none"/>
<path d="M128.3 140.8h0" stroke="#e2739b" stroke-opacity="0.4" stroke-width="2.4" stroke-linecap="round" fill="none"/>
<path d="M131.9 149.3h0" stroke="#e2739b" stroke-opacity="0.4" stroke-width="1.6" stroke-linecap="round" fill="none"/>
<path d="M153.5 177.0h0" stroke="#e2739b" stroke-opacity="0.6" stroke-width="4.0" stroke-linecap="round" fill="none"/>
<path d="M137.0 141.0h0" stroke="#e2739b" stroke-opacity="0.6" stroke-width="2.4" stroke-linecap="round" fill="none"/>
<path d="M149.0 160.0h0" stroke="#e2739b" stroke-opacity="0.6" stroke-width="3.2" stroke-linecap="round" fill="none"/>
<path d="M102.6 175.6h0M105.0 177.8h0M106.4 180.8h0M101.2 180.9h0" stroke="#86b4e0" stroke-opacity="0.55" stroke-width="2.8" stroke-linecap="round" fill="none"/>
<path d="M96.4 176.2h0" stroke="#86b4e0" stroke-opacity="0.55" stroke-width="3.2" stroke-linecap="round" fill="none"/>
<path d="M107.4 177.5h0" stroke="#86b4e0" stroke-opacity="0.55" stroke-width="2.4" stroke-linecap="round" fill="none"/>
<path d="M75.9 179.3h0" stroke="#5a94cf" stroke-opacity="0.9" stroke-width="4.0" stroke-linecap="round" fill="none"/>
<text x="131.6" y="55.0" font-size="6" fill="#c4c4c4" text-anchor="start" font-weight="normal" font-family="Liberation Sans, sans-serif" >OXCT1</text>
<text x="148.8" y="85.0" font-size="6" fill="#c4c4c4" text-anchor="start" font-weight="normal" font-family="Liberation Sans, sans-serif" >TNN</text>
<text x="130.0" y="117.8" font-size="6" fill="#c4c4c4" text-anchor="start" font-weight="normal" font-family="Liberation Sans, sans-serif" >MYO1B</text>
<text x="137.7" y="126.2" font-size="6" fill="#c4c4c4" text-anchor="start" font-weight="normal" font-family="Liberation Sans, sans-serif" >TAFA4</text>
<text x="113.5" y="135.6" font-size="6" fill="#c4c4c4" text-anchor="start" font-weight="normal" font-family="Liberation Sans, sans-serif" >COL</text>
<text x="150.0" y="135.6" font-size="6" fill="#c4c4c4" text-anchor="start" font-weight="normal" font-family="Liberation Sans, sans-serif" >1-AS1</text>
<text x="121.0" y="149.8" font-size="6" fill="#c4c4c4" text-anchor="start" font-weight="normal" font-family="Liberation Sans, sans-serif" >GSDMA F2R</text>
<text x="114.0" y="156.5" font-size="6" fill="#c4c4c4" text-anchor="start" font-weight="normal" font-family="Liberation Sans, sans-serif" >SLC2A5</text>
<text x="67.0" y="142.4" font-size="6" fill="#c4c4c4" text-anchor="start" font-weight="normal" font-family="Liberation Sans, sans-serif" >KCNMA1</text>
<text x="55.4" y="152.8" font-size="6" fill="#c4c4c4" text-anchor="start" font-weight="normal" font-family="Liberation Sans, sans-serif" >HLA-DQA2</text>
<text x="62.0" y="172.2" font-size="6" fill="#c4c4c4" text-anchor="start" font-weight="normal" font-family="Liberation Sans, sans-serif" >SRPX  GAL3ST4</text>
<text x="40.0" y="186.0" font-size="6" fill="#c4c4c4" text-anchor="start" font-weight="normal" font-family="Liberation Sans, sans-serif" >NDOFB1P1  SH3RF2</text>
<text x="150.0" y="181.0" font-size="6" fill="#c4c4c4" text-anchor="start" font-weight="normal" font-family="Liberation Sans, sans-serif" >PSF</text>
<text x="127.0" y="136.0" font-size="7.9" fill="#000" text-anchor="start" font-weight="normal" font-family="Liberation Sans, sans-serif" stroke="#000" stroke-width="0.15">CALCR</text>
<text x="111.5" y="169.7" font-size="7.9" fill="#000" text-anchor="start" font-weight="normal" font-family="Liberation Sans, sans-serif" stroke="#000" stroke-width="0.15">NFATC1</text>
<text x="110.0" y="178.0" font-size="7.9" fill="#000" text-anchor="start" font-weight="normal" font-family="Liberation Sans, sans-serif" stroke="#000" stroke-width="0.15">ACP5</text>
<text x="135.0" y="187.4" font-size="7.9" fill="#000" text-anchor="start" font-weight="normal" font-family="Liberation Sans, sans-serif" stroke="#000" stroke-width="0.15">CTSK</text>
<text x="100.7" y="192.4" font-size="7.9" fill="#000" text-anchor="start" font-weight="normal" font-family="Liberation Sans, sans-serif" stroke="#000" stroke-width="0.15">RANK</text>
<text x="127.0" y="196.5" font-size="7.9" fill="#000" text-anchor="start" font-weight="normal" font-family="Liberation Sans, sans-serif" stroke="#000" stroke-width="0.15">MMP9</text>
<path d="M134.7 137.5h0M128.0 191.5h0" stroke="#000" stroke-opacity="1.0" stroke-width="1.6" stroke-linecap="round" fill="none"/>
<path d="M124.0 181.0h0" stroke="#000" stroke-opacity="1.0" stroke-width="1.6" stroke-linecap="round" fill="none"/>
<path d="M130.0 181.0h0" stroke="#000" stroke-opacity="1.0" stroke-width="1.6" stroke-linecap="round" fill="none"/>
<path d="M126.0 190.0h0" stroke="#000" stroke-opacity="1.0" stroke-width="1.6" stroke-linecap="round" fill="none"/>
<text x="339.8" y="18.8" font-size="8.6" fill="#000" text-anchor="middle" font-weight="normal" font-family="Liberation Sans, sans-serif" >Nivolumab vs Control</text>
<text x="309.6" y="28.6" font-size="7" fill="#000" text-anchor="middle" font-weight="normal" font-family="Liberation Sans, sans-serif" >Downregulation</text>
<text x="377.7" y="28.6" font-size="7" fill="#000" text-anchor="middle" font-weight="normal" font-family="Liberation Sans, sans-serif" >Upregulation</text>
<line x1="280.7" y1="33.0" x2="335.0" y2="33.0" stroke="#4172b2" stroke-width="2.4"/>
<polygon points="278.7,33 282.7,30.6 282.7,35.4" fill="#4172b2"/>
<line x1="351.0" y1="33.0" x2="405.0" y2="33.0" stroke="#e6779e" stroke-width="2.4"/>
<polygon points="407,33 403,30.6 403,35.4" fill="#e6779e"/>
<line x1="263.0" y1="40.3" x2="263.0" y2="203.3" stroke="#6e6e6e" stroke-width="0.6"/>
<line x1="263.0" y1="203.3" x2="397.0" y2="203.3" stroke="#6e6e6e" stroke-width="0.6"/>
<line x1="335.0" y1="40.3" x2="335.0" y2="203.3" stroke="#3c3c3c" stroke-width="0.45" stroke-dasharray="2.2 1.2 0.6 1.2"/>
<line x1="351.5" y1="40.3" x2="351.5" y2="203.3" stroke="#3c3c3c" stroke-width="0.45" stroke-dasharray="2.2 1.2 0.6 1.2"/>
<line x1="263.0" y1="106.0" x2="397.0" y2="106.0" stroke="#3c3c3c" stroke-width="0.45" stroke-dasharray="2.2 1.2 0.6 1.2"/>
<text x="342.5" y="214.5" font-size="7.1" fill="#000" text-anchor="middle" font-weight="normal" font-family="Liberation Sans, sans-serif" >log2FC</text>
<text transform="translate(255.2,121.5) rotate(-90)" font-size="7" fill="#000" text-anchor="middle" font-weight="normal" font-family="Liberation Sans, sans-serif">-log10 (adjusted P value)</text>
<text x="404.3" y="111.1" font-size="6.0" fill="#000" text-anchor="start" font-weight="normal" font-family="Liberation Sans, sans-serif" >Absolute value of</text>
<text x="404.3" y="118.3" font-size="6.0" fill="#000" text-anchor="start" font-weight="normal" font-family="Liberation Sans, sans-serif" >log2FC</text>
<path d="M407.0 124.0h0" stroke="#b7b9de" stroke-opacity="1.0" stroke-width="3.2" stroke-linecap="round" fill="none"/>
<text x="409.8" y="126.1" font-size="5.8" fill="#000" text-anchor="start" font-weight="normal" font-family="Liberation Sans, sans-serif" >2.5</text>
<path d="M407.0 130.6h0" stroke="#8796c8" stroke-opacity="1.0" stroke-width="4.0" stroke-linecap="round" fill="none"/>
<text x="409.8" y="132.7" font-size="5.8" fill="#000" text-anchor="start" font-weight="normal" font-family="Liberation Sans, sans-serif" >5.0</text>
<path d="M407.0 137.0h0" stroke="#4d78b5" stroke-opacity="1.0" stroke-width="4.8" stroke-linecap="round" fill="none"/>
<text x="409.8" y="139.1" font-size="5.8" fill="#000" text-anchor="start" font-weight="normal" font-family="Liberation Sans, sans-serif" >7.5</text>
<text x="357.6" y="101.6" font-size="5.7" fill="#000" text-anchor="start" font-weight="normal" font-family="Liberation Sans, sans-serif" >Adjusted P value = 0.05</text>
<text x="303.0" y="207.5" font-size="3.4" fill="#8c8c8c" text-anchor="middle" font-weight="normal" font-family="Liberation Sans, sans-serif" >-4</text>
<text x="343.0" y="207.5" font-size="3.4" fill="#8c8c8c" text-anchor="middle" font-weight="normal" font-family="Liberation Sans, sans-serif" >0</text>
<text x="383.5" y="207.5" font-size="3.4" fill="#8c8c8c" text-anchor="middle" font-weight="normal" font-family="Liberation Sans, sans-serif" >4</text>
<text x="261.5" y="58.8" font-size="3.4" fill="#8c8c8c" text-anchor="end" font-weight="normal" font-family="Liberation Sans, sans-serif" >2.0</text>
<text x="261.5" y="93.3" font-size="3.4" fill="#8c8c8c" text-anchor="end" font-weight="normal" font-family="Liberation Sans, sans-serif" >1.5</text>
<text x="261.5" y="128.0" font-size="3.4" fill="#8c8c8c" text-anchor="end" font-weight="normal" font-family="Liberation Sans, sans-serif" >1.0</text>
<text x="261.5" y="162.0" font-size="3.4" fill="#8c8c8c" text-anchor="end" font-weight="normal" font-family="Liberation Sans, sans-serif" >0.5</text>
<text x="261.5" y="196.8" font-size="3.4" fill="#8c8c8c" text-anchor="end" font-weight="normal" font-family="Liberation Sans, sans-serif" >0.0</text>
<path d="M269.3 47.3h0" stroke="#3f78b5" stroke-opacity="0.95" stroke-width="4.8" stroke-linecap="round" fill="none"/>
<text x="271.4" y="49.3" font-size="5.6" fill="#c4c4c4" text-anchor="start" font-weight="normal" font-family="Liberation Sans, sans-serif" >MMP1</text>
<path d="M326.7 173.2h0M331.9 189.4h0M294.7 176.9h0M305.9 176.2h0M317.8 185.6h0M304.7 176.1h0M314.2 195.7h0M321.0 192.9h0M326.1 172.9h0M299.3 196.2h0M321.1 185.6h0M323.5 196.0h0M308.4 173.5h0M316.0 180.0h0M311.1 192.9h0M340.3 196.0h0M313.1 186.6h0M342.5 186.0h0M337.3 189.0h0M342.8 195.2h0M324.1 180.1h0M300.6 182.8h0M329.9 176.9h0M324.8 189.2h0M298.5 182.8h0M315.2 182.6h0M332.2 182.7h0M318.4 182.3h0M308.9 186.1h0M329.7 186.3h0M329.8 179.8h0M309.5 191.9h0M304.6 192.3h0M305.9 173.2h0M315.3 177.0h0M300.6 192.3h0M301.6 185.7h0M286.8 195.3h0M331.0 192.5h0M320.4 192.1h0M344.6 183.3h0M307.0 188.9h0M292.2 192.8h0M375.8 190.5h0M366.3 190.1h0M378.6 191.6h0M371.2 189.5h0M377.3 189.5h0M369.6 192.0h0M354.2 192.8h0M372.0 191.0h0M359.4 189.0h0M369.3 192.4h0M376.2 192.0h0" stroke="#c0c0c0" stroke-opacity="0.45" stroke-width="4.0" stroke-linecap="round" fill="none"/>
<path d="M295.9 186.3h0M298.9 173.5h0M313.2 170.5h0M331.1 186.4h0M315.2 182.7h0M323.5 195.2h0M309.7 172.7h0M323.3 172.7h0M300.8 176.7h0M301.3 173.2h0M324.7 186.0h0M302.5 182.2h0M314.2 176.9h0M304.6 179.6h0M324.4 180.0h0M304.5 193.0h0M331.0 189.0h0M310.6 180.1h0M327.8 183.0h0M336.4 195.5h0M299.9 176.6h0M300.9 172.8h0M307.8 180.1h0M309.3 189.0h0M313.9 188.9h0M335.5 179.7h0M309.7 179.2h0M302.4 182.6h0M330.7 176.8h0M319.8 182.7h0M308.1 173.7h0M318.2 179.2h0M297.3 172.8h0M303.1 182.5h0M324.7 185.9h0M318.3 196.0h0M334.1 176.0h0M298.6 189.6h0M304.8 189.2h0M307.0 192.6h0M329.6 176.7h0" stroke="#c0c0c0" stroke-opacity="0.45" stroke-width="4.4" stroke-linecap="round" fill="none"/>
<path d="M332.2 196.0h0M346.0 195.6h0M296.5 179.7h0M321.4 195.8h0M316.2 179.1h0M326.3 192.9h0M322.1 189.5h0M327.7 179.5h0M316.9 193.0h0M320.5 173.6h0M305.1 182.8h0M323.2 185.6h0M301.8 180.2h0M320.0 189.3h0M296.5 173.2h0M313.4 195.2h0M325.5 176.9h0M309.6 176.7h0M303.8 186.3h0M306.3 189.5h0M321.5 195.4h0M310.2 176.9h0M320.4 173.2h0M314.5 179.2h0M312.5 173.7h0M333.2 185.8h0M295.5 182.5h0M308.4 170.1h0M324.3 176.1h0M326.4 179.1h0M327.7 192.1h0M324.4 169.7h0M327.7 180.1h0M314.7 192.0h0M316.4 188.7h0M313.6 173.1h0M320.3 192.3h0M328.8 185.6h0M305.4 189.5h0M330.9 173.5h0M306.8 196.0h0M328.1 176.5h0M326.1 189.4h0M313.7 195.2h0" stroke="#c0c0c0" stroke-opacity="0.45" stroke-width="4.8" stroke-linecap="round" fill="none"/>
<path d="M323.7 172.8h0M328.3 176.4h0M306.7 176.3h0M302.5 176.3h0M306.3 189.8h0M315.6 188.7h0M310.8 173.8h0M330.6 192.9h0M309.8 195.2h0M301.4 192.5h0M301.4 179.9h0M311.1 195.6h0M316.5 176.4h0M296.4 173.0h0M343.1 176.8h0M306.6 173.0h0M297.9 182.5h0M291.1 195.2h0M310.8 182.7h0M328.0 182.5h0M308.6 195.4h0M341.5 192.5h0M287.2 192.8h0M325.3 173.4h0M377.2 193.4h0M369.5 192.9h0M369.3 194.8h0M362.9 191.0h0M374.2 191.4h0M377.0 191.3h0M370.4 194.5h0M353.8 195.8h0M356.0 193.1h0M376.7 193.9h0M350.5 194.5h0M356.6 191.3h0M355.0 191.0h0" stroke="#c0c0c0" stroke-opacity="0.45" stroke-width="3.6" stroke-linecap="round" fill="none"/>
<path d="M368.4 191.5h0M373.8 191.0h0M362.9 190.4h0M363.7 188.5h0M370.2 193.2h0M374.2 191.1h0M375.7 193.5h0M355.1 195.1h0M358.7 193.0h0M371.5 190.2h0M353.4 190.2h0M363.3 189.7h0M355.3 194.5h0M353.8 190.3h0" stroke="#c0c0c0" stroke-opacity="0.45" stroke-width="3.2" stroke-linecap="round" fill="none"/>
<path d="M357.8 180.1h0M358.7 180.9h0M337.4 176.6h0M356.6 184.9h0M336.6 179.1h0M361.6 175.4h0M364.2 179.1h0M364.3 186.8h0" stroke="#c0c0c0" stroke-opacity="0.3" stroke-width="2.8" stroke-linecap="round" fill="none"/>
<path d="M358.4 181.4h0M343.7 182.2h0M353.6 182.8h0M364.2 179.7h0M339.3 176.2h0" stroke="#c0c0c0" stroke-opacity="0.3" stroke-width="3.2" stroke-linecap="round" fill="none"/>
<path d="M344.3 177.4h0M344.7 175.4h0M365.9 187.8h0" stroke="#c0c0c0" stroke-opacity="0.3" stroke-width="3.6" stroke-linecap="round" fill="none"/>
<path d="M311.0 165.3h0M319.7 164.9h0M319.4 165.0h0M320.7 165.0h0" stroke="#c0c0c0" stroke-opacity="0.5" stroke-width="4.0" stroke-linecap="round" fill="none"/>
<path d="M301.5 141.2h0M292.0 180.0h0M382.0 176.6h0M383.0 182.0h0" stroke="#c0c0c0" stroke-opacity="0.6" stroke-width="4.4" stroke-linecap="round" fill="none"/>
<path d="M311.0 182.9h0M307.8 169.6h0M298.7 195.9h0M305.0 192.9h0M331.2 177.0h0M294.9 186.4h0M304.8 195.4h0M335.9 175.8h0M306.4 169.6h0M308.9 182.6h0M317.6 173.4h0M297.8 170.0h0M329.0 179.4h0M332.4 185.9h0M310.4 189.7h0M314.9 195.7h0M326.1 176.0h0M322.8 195.5h0M318.7 192.1h0M301.7 192.4h0M300.6 191.9h0M344.0 180.2h0M343.9 179.3h0M334.9 172.9h0M321.3 183.2h0M314.9 185.7h0M306.9 196.0h0M313.7 195.1h0M320.7 182.6h0M322.2 183.2h0M304.7 176.9h0M319.4 173.5h0M326.1 186.0h0M325.5 183.3h0M312.2 177.0h0M314.8 183.1h0M298.6 173.5h0M322.5 186.4h0M316.1 179.6h0M339.7 179.5h0M305.6 186.4h0M317.0 192.1h0M297.8 195.3h0M351.2 189.0h0M375.2 195.0h0M365.8 191.7h0M364.9 190.7h0M369.9 191.9h0M351.2 189.6h0M368.8 193.2h0M373.9 195.2h0M361.2 190.4h0M359.4 192.1h0" stroke="#c0c0c0" stroke-opacity="0.45" stroke-width="4.0" stroke-linecap="round" fill="none"/>
<path d="M308.7 195.1h0M300.1 173.3h0M335.2 182.3h0M328.6 182.3h0M302.7 195.5h0M305.7 175.8h0M303.2 192.0h0M313.8 172.6h0M330.0 177.0h0M315.6 192.8h0M327.9 173.2h0M330.1 189.4h0M298.1 185.6h0M335.0 186.5h0M298.9 186.4h0M319.6 192.3h0M331.1 192.5h0M299.9 170.2h0M327.2 193.0h0M345.4 188.8h0M339.4 189.6h0M328.0 176.4h0M330.8 188.8h0M297.9 189.6h0M320.7 189.4h0M308.4 169.8h0M321.9 189.2h0M307.9 189.3h0M335.1 193.0h0M305.9 192.5h0M311.3 186.1h0M307.2 192.2h0M298.3 195.5h0M331.9 176.1h0M306.4 179.0h0M308.8 189.7h0M308.8 196.2h0M325.6 173.7h0M322.0 189.6h0M310.3 196.1h0" stroke="#c0c0c0" stroke-opacity="0.45" stroke-width="4.4" stroke-linecap="round" fill="none"/>
<path d="M306.4 186.2h0M304.1 175.8h0M322.4 182.4h0M306.3 172.6h0M320.4 195.9h0M319.5 179.6h0M311.3 189.1h0M309.9 186.0h0M306.3 195.6h0M324.7 192.2h0M300.7 175.9h0M327.1 176.3h0M329.2 186.4h0M301.7 176.7h0M309.0 172.9h0M303.1 180.0h0M319.7 192.4h0M335.5 186.3h0M323.3 188.9h0M339.1 185.5h0M327.4 185.9h0M311.9 195.1h0M328.4 189.1h0M313.6 192.1h0M301.9 192.2h0M311.2 188.7h0M313.7 179.4h0M303.0 182.5h0M340.9 186.6h0M318.8 176.0h0M304.9 186.3h0M298.9 185.4h0M324.3 175.9h0M304.4 182.2h0M307.6 182.6h0M317.3 176.5h0M332.7 179.5h0M322.1 169.6h0M329.9 192.1h0M327.5 185.6h0M337.2 186.1h0M314.2 195.2h0M321.5 173.5h0M320.0 192.3h0" stroke="#c0c0c0" stroke-opacity="0.45" stroke-width="4.8" stroke-linecap="round" fill="none"/>
<path d="M334.6 192.3h0M327.2 192.9h0M307.8 172.7h0M302.3 192.1h0M313.7 175.9h0M312.9 185.7h0M307.2 188.8h0M338.2 192.6h0M336.9 176.3h0M322.3 169.6h0M331.6 195.7h0M325.1 173.4h0M346.4 188.6h0M312.0 172.7h0M306.8 195.5h0M291.6 179.5h0M297.5 195.4h0M332.4 172.9h0M336.0 179.9h0M320.4 192.5h0M313.1 189.0h0M310.5 176.5h0M306.7 176.5h0M330.3 192.3h0M362.8 193.0h0M374.5 188.6h0M356.0 192.9h0M372.4 194.5h0M369.3 190.1h0M375.8 190.2h0M350.5 196.2h0M357.7 190.5h0M372.5 189.9h0M366.6 189.6h0M363.0 193.4h0M367.6 189.4h0M354.5 190.7h0" stroke="#c0c0c0" stroke-opacity="0.45" stroke-width="3.6" stroke-linecap="round" fill="none"/>
<path d="M360.2 192.0h0M366.0 193.9h0M352.9 191.3h0M371.1 190.1h0M377.5 196.4h0M376.1 190.8h0M376.8 195.9h0M368.1 195.6h0M377.5 196.4h0M350.1 192.0h0M360.8 196.6h0M377.0 193.6h0M377.4 196.4h0" stroke="#c0c0c0" stroke-opacity="0.45" stroke-width="3.2" stroke-linecap="round" fill="none"/>
<path d="M340.3 188.2h0M353.6 179.2h0M360.1 179.5h0M337.4 183.8h0M355.3 186.5h0M354.3 175.9h0M360.4 185.1h0M365.8 174.8h0" stroke="#c0c0c0" stroke-opacity="0.3" stroke-width="2.8" stroke-linecap="round" fill="none"/>
<path d="M361.3 186.6h0M345.4 187.6h0M360.5 182.6h0M348.9 187.8h0M356.5 186.9h0" stroke="#c0c0c0" stroke-opacity="0.3" stroke-width="3.2" stroke-linecap="round" fill="none"/>
<path d="M349.8 177.9h0M342.0 181.0h0M347.0 176.5h0" stroke="#c0c0c0" stroke-opacity="0.3" stroke-width="3.6" stroke-linecap="round" fill="none"/>
<path d="M309.6 165.0h0M315.1 164.8h0M320.6 164.9h0M323.3 164.5h0" stroke="#c0c0c0" stroke-opacity="0.5" stroke-width="4.0" stroke-linecap="round" fill="none"/>
<path d="M312.5 157.6h0M285.5 195.0h0M373.0 174.6h0" stroke="#c0c0c0" stroke-opacity="0.6" stroke-width="4.4" stroke-linecap="round" fill="none"/>
<path d="M312.9 179.2h0M313.9 185.6h0M295.2 185.7h0M315.7 173.6h0M323.8 173.5h0M299.1 195.6h0M309.1 188.6h0M307.2 196.0h0M341.5 179.4h0M306.3 192.7h0M292.9 188.9h0M302.2 173.5h0M309.5 179.1h0M326.9 192.8h0M307.7 179.9h0M313.4 172.6h0M311.4 185.8h0M311.9 179.8h0M306.7 180.0h0M336.7 176.7h0M329.3 196.1h0M316.3 179.0h0M316.4 180.1h0M308.9 176.6h0M309.5 193.0h0M322.9 189.2h0M331.1 192.3h0M344.0 179.6h0M321.1 182.7h0M334.6 182.2h0M324.9 192.2h0M312.3 189.7h0M326.8 179.9h0M320.8 169.9h0M306.8 173.2h0M334.1 196.1h0M330.9 180.0h0M316.0 176.3h0M305.6 185.9h0M308.7 172.8h0M312.7 169.8h0M298.7 183.1h0M364.3 192.2h0M370.0 191.7h0M358.7 190.4h0M359.1 190.2h0M377.2 190.9h0M373.3 192.4h0M353.8 191.9h0M364.8 192.8h0M367.1 192.6h0M367.2 196.7h0M367.0 190.8h0" stroke="#c0c0c0" stroke-opacity="0.45" stroke-width="4.0" stroke-linecap="round" fill="none"/>
<path d="M300.4 183.0h0M323.2 196.2h0M300.0 176.3h0M307.7 188.8h0M298.2 183.4h0M304.1 177.0h0M298.3 195.5h0M315.9 176.4h0M301.9 191.8h0M315.0 172.9h0M305.0 189.0h0M317.9 175.8h0M308.2 188.7h0M317.3 170.3h0M313.9 180.1h0M306.1 176.3h0M292.5 179.6h0M299.2 172.8h0M308.3 188.9h0M321.9 188.9h0M311.9 195.4h0M304.6 189.6h0M337.7 192.0h0M335.4 192.8h0M310.1 189.0h0M298.1 173.0h0M303.6 173.4h0M326.8 185.7h0M322.7 183.1h0M302.9 185.6h0M313.4 173.0h0M306.9 172.7h0M331.9 175.9h0M320.9 173.2h0M292.2 173.5h0M321.0 195.9h0M307.8 182.7h0M325.8 185.8h0M331.7 192.1h0M319.9 189.7h0" stroke="#c0c0c0" stroke-opacity="0.45" stroke-width="4.4" stroke-linecap="round" fill="none"/>
<path d="M325.1 196.1h0M324.3 180.0h0M318.3 172.9h0M289.5 188.6h0M321.8 192.3h0M338.1 183.0h0M298.2 195.4h0M296.3 179.6h0M321.0 179.1h0M302.8 176.5h0M317.8 182.7h0M304.0 180.2h0M323.5 176.8h0M314.7 182.6h0M299.5 176.7h0M334.6 195.4h0M304.0 179.4h0M314.6 192.9h0M307.6 186.2h0M312.2 176.7h0M318.4 179.5h0M298.7 175.9h0M313.7 173.6h0M304.6 195.7h0M309.7 185.8h0M309.8 186.5h0M303.6 173.4h0M307.3 179.9h0M304.9 179.1h0M308.0 179.4h0M306.1 189.1h0M291.0 192.3h0M303.5 195.3h0M331.9 192.6h0M308.7 173.4h0M297.2 180.1h0M305.4 191.9h0M315.1 176.9h0M313.6 179.4h0M314.7 179.7h0M292.7 182.9h0M322.8 185.5h0M307.9 172.9h0M311.4 176.8h0" stroke="#c0c0c0" stroke-opacity="0.45" stroke-width="4.8" stroke-linecap="round" fill="none"/>
<path d="M319.9 189.1h0M319.2 186.4h0M328.1 188.9h0M309.9 183.0h0M328.1 192.1h0M313.3 185.8h0M300.2 176.9h0M292.4 192.1h0M296.4 192.6h0M328.2 176.1h0M302.5 179.8h0M310.2 176.8h0M316.8 179.7h0M295.5 182.6h0M301.6 192.7h0M305.5 185.9h0M300.5 182.9h0M323.8 172.9h0M323.5 169.9h0M303.4 183.1h0M302.5 173.1h0M332.8 176.7h0M313.3 192.0h0M352.0 192.8h0M355.3 195.3h0M358.7 194.5h0M359.9 189.3h0M376.6 195.1h0M353.4 189.7h0M372.5 194.7h0M376.0 194.0h0M359.1 189.5h0M371.0 194.7h0M362.2 192.1h0M377.2 190.9h0M368.1 193.8h0M361.5 194.8h0" stroke="#c0c0c0" stroke-opacity="0.45" stroke-width="3.6" stroke-linecap="round" fill="none"/>
<path d="M362.3 190.6h0M351.3 192.5h0M350.3 195.8h0M371.2 193.3h0M359.6 191.2h0M353.4 191.5h0M362.3 196.7h0M352.9 196.5h0M367.3 195.3h0M374.4 194.6h0M374.3 190.5h0M367.1 192.0h0M376.1 192.8h0" stroke="#c0c0c0" stroke-opacity="0.45" stroke-width="3.2" stroke-linecap="round" fill="none"/>
<path d="M342.6 176.8h0M345.3 178.5h0M339.8 184.4h0M357.0 182.2h0M346.2 176.1h0M339.1 188.0h0M350.7 187.0h0" stroke="#c0c0c0" stroke-opacity="0.3" stroke-width="2.8" stroke-linecap="round" fill="none"/>
<path d="M352.9 187.2h0M339.5 185.0h0M358.6 186.7h0M337.3 187.0h0" stroke="#c0c0c0" stroke-opacity="0.3" stroke-width="3.2" stroke-linecap="round" fill="none"/>
<path d="M367.4 178.1h0M353.7 185.6h0M338.7 177.1h0" stroke="#c0c0c0" stroke-opacity="0.3" stroke-width="3.6" stroke-linecap="round" fill="none"/>
<path d="M320.1 164.7h0M323.3 165.3h0M322.0 165.2h0M322.3 165.2h0" stroke="#c0c0c0" stroke-opacity="0.5" stroke-width="4.0" stroke-linecap="round" fill="none"/>
<path d="M290.7 172.0h0M288.0 193.0h0M357.0 173.0h0" stroke="#c0c0c0" stroke-opacity="0.6" stroke-width="4.4" stroke-linecap="round" fill="none"/>
<path d="M312.3 176.6h0M323.9 173.2h0M331.0 191.9h0M326.2 175.9h0M309.9 182.3h0M296.8 182.6h0M333.6 176.1h0M302.8 188.9h0M302.4 188.6h0M294.9 173.4h0M303.9 179.8h0M328.7 179.3h0M346.0 192.8h0M309.0 175.9h0M316.2 183.0h0M323.5 188.9h0M304.5 172.8h0M309.0 195.7h0M312.2 179.3h0M304.3 185.7h0M322.0 185.9h0M329.4 172.8h0M314.6 195.7h0M311.0 189.1h0M342.0 189.3h0M324.5 182.6h0M312.4 179.7h0M331.8 180.1h0M327.3 183.2h0M316.5 186.4h0M309.3 189.4h0M298.5 179.6h0M296.1 186.2h0M338.0 176.2h0M313.5 169.6h0M330.5 192.6h0M310.3 170.4h0M313.8 180.1h0M323.0 195.0h0M304.4 196.0h0M322.7 173.1h0M312.1 195.6h0M354.6 191.4h0M370.7 191.4h0M372.1 193.3h0M362.9 194.6h0M377.8 191.4h0M364.2 189.2h0M378.9 189.4h0M375.5 194.3h0M356.9 188.6h0M371.2 189.1h0M363.8 191.8h0" stroke="#c0c0c0" stroke-opacity="0.45" stroke-width="4.0" stroke-linecap="round" fill="none"/>
<path d="M307.0 176.7h0M300.4 169.7h0M321.5 188.9h0M296.8 173.4h0M301.9 183.0h0M318.0 186.1h0M292.8 182.3h0M297.3 175.8h0M306.1 182.9h0M303.3 173.7h0M317.4 179.8h0M301.9 173.3h0M310.6 182.5h0M296.3 188.8h0M318.0 183.1h0M314.7 176.4h0M309.8 192.2h0M315.6 188.6h0M325.8 186.5h0M309.9 186.3h0M289.7 180.1h0M320.4 182.6h0M300.1 189.4h0M314.6 182.7h0M319.4 175.8h0M314.8 176.6h0M306.1 185.6h0M312.7 196.0h0M315.4 173.7h0M317.3 185.8h0M324.1 176.6h0M316.8 179.0h0M317.8 188.9h0M310.7 182.6h0M323.1 186.3h0M319.2 192.1h0M295.3 183.2h0M341.9 189.4h0M327.3 189.5h0M307.9 182.5h0" stroke="#c0c0c0" stroke-opacity="0.45" stroke-width="4.4" stroke-linecap="round" fill="none"/>
<path d="M309.5 173.4h0M310.3 170.4h0M304.9 179.9h0M304.0 182.3h0M337.6 193.0h0M297.8 176.1h0M292.9 192.1h0M316.6 172.9h0M315.0 170.0h0M338.3 182.2h0M317.8 192.9h0M311.7 173.3h0M306.1 182.8h0M326.3 179.5h0M307.2 183.1h0M335.5 183.0h0M298.0 183.2h0M315.1 173.3h0M302.9 173.7h0M310.5 173.6h0M324.1 183.4h0M312.4 188.9h0M293.3 182.8h0M326.3 186.0h0M330.1 189.4h0M346.9 188.8h0M296.5 183.4h0M309.6 179.4h0M314.0 189.7h0M299.5 195.3h0M330.7 179.5h0M301.8 176.1h0M314.9 182.2h0M315.9 182.8h0M312.4 183.1h0M290.6 186.2h0M311.4 192.1h0M326.6 195.6h0M314.6 176.1h0M299.4 186.4h0M308.5 186.5h0M314.8 173.6h0M313.4 196.1h0M311.5 186.5h0" stroke="#c0c0c0" stroke-opacity="0.45" stroke-width="4.8" stroke-linecap="round" fill="none"/>
<path d="M319.8 188.6h0M335.8 192.7h0M317.1 175.9h0M324.0 175.9h0M337.5 192.0h0M325.2 189.1h0M320.7 180.0h0M322.5 173.7h0M318.0 172.8h0M318.2 195.0h0M328.0 192.4h0M305.5 195.1h0M305.4 192.1h0M321.3 183.0h0M310.4 188.6h0M316.3 180.0h0M296.2 173.3h0M328.4 176.7h0M307.6 176.6h0M310.1 196.1h0M303.8 179.0h0M310.9 186.5h0M309.3 192.0h0M363.0 196.7h0M367.3 193.9h0M366.0 194.8h0M355.2 190.6h0M370.3 190.5h0M356.3 194.8h0M351.3 196.2h0M370.2 192.6h0M351.0 196.1h0M372.6 192.8h0M360.5 191.7h0M370.2 195.1h0M351.0 189.5h0M357.3 196.6h0" stroke="#c0c0c0" stroke-opacity="0.45" stroke-width="3.6" stroke-linecap="round" fill="none"/>
<path d="M366.3 190.2h0M371.4 193.7h0M351.1 194.9h0M354.3 189.3h0M362.5 196.0h0M363.8 191.2h0M370.6 188.8h0M372.7 194.5h0M350.8 196.2h0M356.2 188.6h0M375.0 195.6h0M376.9 194.6h0M376.3 189.9h0" stroke="#c0c0c0" stroke-opacity="0.45" stroke-width="3.2" stroke-linecap="round" fill="none"/>
<path d="M357.8 182.7h0M364.3 184.5h0M364.4 178.8h0M364.0 175.8h0M348.9 176.0h0M349.0 182.6h0M353.8 179.8h0" stroke="#c0c0c0" stroke-opacity="0.3" stroke-width="2.8" stroke-linecap="round" fill="none"/>
<path d="M343.9 176.6h0M349.1 176.5h0M346.3 182.2h0M353.7 182.6h0" stroke="#c0c0c0" stroke-opacity="0.3" stroke-width="3.2" stroke-linecap="round" fill="none"/>
<path d="M342.4 186.9h0M351.0 174.7h0M353.8 175.4h0" stroke="#c0c0c0" stroke-opacity="0.3" stroke-width="3.6" stroke-linecap="round" fill="none"/>
<path d="M316.0 165.4h0M318.6 164.8h0M314.7 165.1h0M315.3 165.3h0" stroke="#c0c0c0" stroke-opacity="0.5" stroke-width="4.0" stroke-linecap="round" fill="none"/>
<path d="M289.0 176.0h0M391.8 195.0h0M373.0 179.0h0" stroke="#c0c0c0" stroke-opacity="0.6" stroke-width="4.4" stroke-linecap="round" fill="none"/>
<text x="316.6" y="182.0" font-size="8.1" fill="#000" text-anchor="start" font-weight="normal" font-family="Liberation Sans, sans-serif" stroke="#000" stroke-width="0.15">MMP9</text>
<text x="327.4" y="191.7" font-size="8.1" fill="#000" text-anchor="start" font-weight="normal" font-family="Liberation Sans, sans-serif" stroke="#000" stroke-width="0.15">ACP5</text>
<text x="353.2" y="193.0" font-size="8.1" fill="#000" text-anchor="start" font-weight="normal" font-family="Liberation Sans, sans-serif" stroke="#000" stroke-width="0.15">RANK</text>
<text x="294.8" y="200.2" font-size="8.1" fill="#000" text-anchor="start" font-weight="normal" font-family="Liberation Sans, sans-serif" stroke="#000" stroke-width="0.15">NFATC1</text>
<text x="328.0" y="201.4" font-size="8.1" fill="#000" text-anchor="start" font-weight="normal" font-family="Liberation Sans, sans-serif" stroke="#000" stroke-width="0.15">CALCR</text>
<path d="M333.0 184.0h0M325.0 196.0h0" stroke="#000" stroke-opacity="1.0" stroke-width="1.6" stroke-linecap="round" fill="none"/>
<path d="M335.0 185.0h0" stroke="#000" stroke-opacity="1.0" stroke-width="1.6" stroke-linecap="round" fill="none"/>
<path d="M348.0 193.5h0" stroke="#000" stroke-opacity="1.0" stroke-width="1.6" stroke-linecap="round" fill="none"/>
<path d="M346.0 195.0h0" stroke="#000" stroke-opacity="1.0" stroke-width="1.6" stroke-linecap="round" fill="none"/>
<text x="555.7" y="18.8" font-size="8.6" fill="#000" text-anchor="middle" font-weight="normal" font-family="Liberation Sans, sans-serif" >Nivolumab vs PD-L1</text>
<text x="523.0" y="29.6" font-size="7" fill="#000" text-anchor="middle" font-weight="normal" font-family="Liberation Sans, sans-serif" >Downregulation</text>
<text x="592.3" y="29.6" font-size="7" fill="#000" text-anchor="middle" font-weight="normal" font-family="Liberation Sans, sans-serif" >Upregulation</text>
<line x1="495.6" y1="33.2" x2="549.7" y2="33.2" stroke="#4172b2" stroke-width="2.4"/>
<polygon points="493.6,33.2 497.6,30.800000000000004 497.6,35.6" fill="#4172b2"/>
<line x1="565.8" y1="33.2" x2="620.0" y2="33.2" stroke="#e6779e" stroke-width="2.4"/>
<polygon points="622,33.2 618,30.800000000000004 618,35.6" fill="#e6779e"/>
<line x1="487.6" y1="40.0" x2="487.6" y2="203.3" stroke="#6e6e6e" stroke-width="0.6"/>
<line x1="487.6" y1="203.3" x2="621.0" y2="203.3" stroke="#6e6e6e" stroke-width="0.6"/>
<line x1="552.6" y1="40.0" x2="552.6" y2="203.3" stroke="#3c3c3c" stroke-width="0.45" stroke-dasharray="2.2 1.2 0.6 1.2"/>
<line x1="563.3" y1="40.0" x2="563.3" y2="203.3" stroke="#3c3c3c" stroke-width="0.45" stroke-dasharray="2.2 1.2 0.6 1.2"/>
<line x1="487.6" y1="195.4" x2="621.0" y2="195.4" stroke="#3c3c3c" stroke-width="0.45" stroke-dasharray="2.2 1.2 0.6 1.2"/>
<text x="559.0" y="216.0" font-size="7.1" fill="#000" text-anchor="middle" font-weight="normal" font-family="Liberation Sans, sans-serif" >log2FC</text>
<text transform="translate(478.1,123.4) rotate(-90)" font-size="7" fill="#000" text-anchor="middle" font-weight="normal" font-family="Liberation Sans, sans-serif">-log10 (adjusted P value)</text>
<text x="626.6" y="103.8" font-size="6.5" fill="#000" text-anchor="start" font-weight="normal" font-family="Liberation Sans, sans-serif" >Absolute value of</text>
<text x="626.6" y="111.0" font-size="6.5" fill="#000" text-anchor="start" font-weight="normal" font-family="Liberation Sans, sans-serif" >log2FC</text>
<path d="M629.6 117.5h0" stroke="#b7b9de" stroke-opacity="1.0" stroke-width="3.2" stroke-linecap="round" fill="none"/>
<text x="634.0" y="119.6" font-size="5.8" fill="#000" text-anchor="start" font-weight="normal" font-family="Liberation Sans, sans-serif" >3</text>
<path d="M629.6 123.6h0" stroke="#8796c8" stroke-opacity="1.0" stroke-width="4.0" stroke-linecap="round" fill="none"/>
<text x="634.0" y="125.7" font-size="5.8" fill="#000" text-anchor="start" font-weight="normal" font-family="Liberation Sans, sans-serif" >6</text>
<path d="M629.6 129.6h0" stroke="#4d78b5" stroke-opacity="1.0" stroke-width="4.8" stroke-linecap="round" fill="none"/>
<text x="634.0" y="131.7" font-size="5.8" fill="#000" text-anchor="start" font-weight="normal" font-family="Liberation Sans, sans-serif" >9</text>
<text x="625.0" y="197.0" font-size="5.7" fill="#000" text-anchor="start" font-weight="normal" font-family="Liberation Sans, sans-serif" >Adjusted P value = 0.05</text>
<text x="502.0" y="207.5" font-size="3.4" fill="#8c8c8c" text-anchor="middle" font-weight="normal" font-family="Liberation Sans, sans-serif" >-10</text>
<text x="530.2" y="207.5" font-size="3.4" fill="#8c8c8c" text-anchor="middle" font-weight="normal" font-family="Liberation Sans, sans-serif" >-5</text>
<text x="558.4" y="207.5" font-size="3.4" fill="#8c8c8c" text-anchor="middle" font-weight="normal" font-family="Liberation Sans, sans-serif" >0</text>
<text x="586.6" y="207.5" font-size="3.4" fill="#8c8c8c" text-anchor="middle" font-weight="normal" font-family="Liberation Sans, sans-serif" >5</text>
<text x="614.8" y="207.5" font-size="3.4" fill="#8c8c8c" text-anchor="middle" font-weight="normal" font-family="Liberation Sans, sans-serif" >10</text>
<text x="485.7" y="50.0" font-size="3.4" fill="#8c8c8c" text-anchor="end" font-weight="normal" font-family="Liberation Sans, sans-serif" >300</text>
<text x="485.7" y="99.4" font-size="3.4" fill="#8c8c8c" text-anchor="end" font-weight="normal" font-family="Liberation Sans, sans-serif" >200</text>
<text x="485.7" y="148.0" font-size="3.4" fill="#8c8c8c" text-anchor="end" font-weight="normal" font-family="Liberation Sans, sans-serif" >100</text>
<text x="485.7" y="196.8" font-size="3.4" fill="#8c8c8c" text-anchor="end" font-weight="normal" font-family="Liberation Sans, sans-serif" >0</text>
<path d="M554.2 195.1h0M556.3 194.4h0M553.0 192.1h0M554.5 189.9h0M558.6 196.6h0M558.3 196.7h0M552.9 190.6h0M557.2 196.8h0M554.6 194.6h0M563.3 191.9h0M561.8 194.2h0M557.1 196.4h0M556.3 196.9h0M556.1 197.0h0M557.9 196.1h0M553.9 196.9h0M552.6 180.7h0M554.7 191.7h0M558.2 195.8h0M558.3 196.7h0M562.9 181.6h0M558.8 195.3h0M561.1 196.7h0M559.0 197.0h0M555.3 193.9h0M560.6 195.4h0M553.2 194.9h0M559.1 195.9h0M559.1 196.0h0M556.5 196.3h0M556.4 196.6h0M562.4 192.4h0M553.5 196.9h0M554.1 189.8h0M561.9 192.5h0M563.0 194.3h0M555.6 194.0h0M555.4 196.4h0M556.5 196.6h0M558.2 195.8h0M563.0 184.2h0M561.7 193.0h0M555.4 195.6h0M558.3 196.7h0M559.8 196.0h0M554.0 187.8h0M554.8 193.6h0M554.6 190.6h0M559.2 194.9h0M562.8 194.2h0M556.8 195.5h0M558.5 195.5h0M554.6 192.2h0M554.8 196.5h0M554.6 192.7h0" stroke="#c8c8c8" stroke-opacity="0.6" stroke-width="2.0" stroke-linecap="round" fill="none"/>
<path d="M559.5 197.0h0M553.9 194.8h0M557.6 196.5h0M562.3 194.3h0M557.1 195.3h0M563.3 183.1h0M559.0 196.5h0M556.0 195.8h0M559.9 195.3h0M558.2 196.2h0M560.1 196.8h0M555.1 192.7h0M560.8 195.7h0M559.4 194.8h0M554.0 196.6h0M555.4 196.4h0M561.4 190.2h0M560.8 196.5h0M555.2 196.6h0M555.1 193.1h0M557.6 196.4h0M563.0 194.1h0M556.7 195.0h0M562.2 195.6h0M562.1 192.8h0M554.4 195.9h0M552.7 189.0h0M560.0 196.8h0M559.6 196.9h0M555.0 193.1h0M557.3 196.0h0M562.3 191.6h0M556.2 196.8h0M555.0 196.6h0M560.1 195.0h0M558.5 197.0h0M559.9 195.6h0M557.7 195.5h0M562.8 193.3h0M557.3 196.5h0M559.6 196.2h0M559.6 196.1h0M562.7 185.2h0M558.2 195.9h0M558.8 196.6h0M554.9 193.4h0M552.7 191.6h0M556.8 196.4h0M558.1 197.0h0M553.3 193.2h0M561.6 196.3h0" stroke="#c8c8c8" stroke-opacity="0.6" stroke-width="1.6" stroke-linecap="round" fill="none"/>
<path d="M550.2 195.9h0M521.3 197.5h0M522.6 196.2h0M517.7 197.3h0M532.2 197.4h0M517.8 197.3h0M526.7 196.8h0M534.9 196.9h0M519.5 196.0h0M522.8 197.4h0M525.9 197.6h0M526.8 196.1h0M520.4 197.5h0M520.2 196.5h0M563.3 197.3h0M590.9 196.0h0M565.9 196.7h0M565.8 196.8h0M589.3 196.2h0M564.3 197.2h0M573.3 196.1h0M592.2 196.7h0M599.8 196.4h0M590.9 196.7h0M575.5 196.0h0" stroke="#c4c4c4" stroke-opacity="0.5" stroke-width="2.4" stroke-linecap="round" fill="none"/>
<path d="M521.0 197.2h0M536.2 197.3h0M549.5 196.9h0M547.6 197.0h0M545.3 195.9h0M540.4 196.4h0M525.6 197.5h0M591.4 196.7h0M586.1 196.8h0M582.5 196.7h0M591.7 196.1h0M581.0 196.6h0M595.4 195.9h0M564.8 196.7h0" stroke="#c4c4c4" stroke-opacity="0.5" stroke-width="1.6" stroke-linecap="round" fill="none"/>
<path d="M523.8 197.1h0M551.8 197.5h0M531.4 197.5h0M519.1 195.8h0M535.8 196.0h0M517.3 196.7h0M546.2 197.0h0M522.9 195.8h0M526.6 196.4h0M539.2 196.5h0M543.3 196.2h0M590.6 197.4h0M587.7 196.3h0M591.8 196.0h0M587.9 196.6h0M583.3 196.0h0M576.0 196.7h0M597.4 195.8h0M570.1 196.9h0M565.9 197.1h0" stroke="#c4c4c4" stroke-opacity="0.5" stroke-width="2.0" stroke-linecap="round" fill="none"/>
<path d="M549.0 175.4h0M544.2 192.7h0M547.0 184.3h0M549.2 191.3h0M547.3 191.4h0M547.0 191.1h0M546.9 182.9h0M540.1 193.7h0M549.7 191.0h0M545.6 193.1h0M543.7 186.9h0M548.2 191.1h0M550.3 172.5h0M549.2 191.3h0M549.2 184.1h0M542.2 194.7h0M548.9 183.0h0M540.8 184.2h0M547.0 165.7h0M544.1 183.0h0M549.7 192.0h0M546.5 191.2h0M543.4 182.4h0M543.7 193.8h0M550.6 190.0h0M543.5 189.8h0M543.8 191.1h0M547.3 172.5h0M547.8 185.2h0M548.9 186.0h0M545.5 170.1h0M546.5 186.8h0M542.7 190.1h0M548.6 191.0h0M545.7 180.9h0M548.7 182.3h0M546.6 161.2h0M545.5 193.9h0M544.0 195.0h0M548.6 188.5h0M549.1 188.9h0M547.8 189.3h0M550.4 190.0h0M544.8 192.1h0M548.4 184.9h0M541.0 186.4h0M544.0 193.5h0M544.9 188.6h0M541.5 191.8h0M546.7 189.6h0M546.0 180.3h0M550.3 185.5h0M549.2 192.8h0M549.9 188.5h0M548.7 173.7h0M545.4 190.4h0M549.8 194.4h0M547.8 193.3h0M547.4 187.8h0M545.6 187.2h0M547.1 193.2h0M547.7 194.0h0M541.4 189.0h0M544.8 188.1h0M543.6 190.5h0M547.6 189.2h0M542.1 190.6h0M542.4 192.8h0M545.5 193.0h0M548.0 193.9h0M549.6 181.5h0M545.2 191.8h0M550.8 185.9h0M551.3 193.5h0M549.2 194.5h0M546.4 178.8h0M547.0 192.6h0M544.9 182.8h0M548.6 195.0h0M543.0 194.7h0M541.1 192.3h0M548.3 191.2h0M544.2 193.4h0M549.7 180.6h0M548.0 186.0h0M549.7 162.7h0M547.6 191.6h0M551.0 191.1h0M543.9 192.1h0M546.2 194.0h0M543.6 183.7h0M547.9 191.7h0M546.9 184.7h0M549.9 171.1h0M544.9 178.9h0M543.0 193.6h0" stroke="#437db9" stroke-opacity="0.5" stroke-width="2.4" stroke-linecap="round" fill="none"/>
<path d="M537.1 179.1h0M538.9 178.5h0M535.1 187.4h0M533.9 189.6h0M538.2 187.2h0M536.8 183.3h0M539.4 187.2h0M533.3 188.0h0M536.2 188.1h0M540.2 193.8h0M531.3 187.3h0M537.4 181.1h0M535.5 190.3h0M537.1 180.4h0M541.1 167.0h0M540.1 194.9h0M539.8 176.3h0M532.0 191.4h0M534.4 183.4h0M532.5 193.6h0M531.4 193.5h0M532.3 184.9h0M539.6 193.6h0M540.0 189.6h0M538.0 188.2h0M535.8 194.3h0M532.5 189.5h0M531.6 195.0h0M538.3 187.2h0M537.2 166.1h0M540.7 195.0h0M539.2 193.8h0M539.5 170.7h0" stroke="#437db9" stroke-opacity="0.5" stroke-width="3.2" stroke-linecap="round" fill="none"/>
<path d="M538.6 192.9h0M541.0 168.3h0M537.0 185.9h0M541.7 195.0h0M542.1 194.9h0M542.8 184.2h0M545.0 194.7h0M538.3 188.7h0M539.4 189.8h0M537.7 189.9h0M542.0 194.4h0M541.0 193.1h0M539.7 194.4h0M537.1 188.5h0M535.8 189.0h0M539.3 178.7h0M542.4 189.2h0M541.3 188.4h0M539.2 190.5h0M543.6 170.9h0M545.1 183.3h0M539.8 192.0h0M543.5 190.3h0M542.9 194.2h0M540.3 194.6h0M540.2 189.6h0M540.4 186.6h0M542.3 190.5h0M539.0 188.1h0M545.7 174.5h0M539.8 193.9h0M539.7 190.8h0M537.5 179.6h0M544.1 194.9h0M545.0 189.5h0M544.9 194.6h0M543.7 165.9h0M544.7 182.4h0M543.0 180.2h0M540.0 193.0h0M542.6 190.3h0M541.2 173.9h0M537.3 193.0h0M543.6 174.2h0M540.1 193.6h0M541.8 188.2h0M544.2 185.8h0M540.7 193.2h0M545.1 191.4h0M538.5 189.9h0M542.4 195.0h0M543.0 188.0h0M540.7 188.3h0M541.4 193.2h0M547.0 194.6h0M542.5 192.2h0M542.5 194.8h0M543.7 186.6h0M539.2 191.3h0M537.8 190.7h0M539.4 192.4h0M538.4 167.3h0M539.2 189.8h0M539.0 194.7h0M540.1 191.8h0M545.8 175.7h0M544.4 187.1h0M541.3 190.3h0" stroke="#437db9" stroke-opacity="0.5" stroke-width="2.8" stroke-linecap="round" fill="none"/>
<path d="M550.6 172.1h0M552.3 194.9h0M548.5 187.0h0M548.3 169.7h0M547.3 190.0h0M550.1 187.8h0M551.1 192.2h0M547.7 189.8h0M550.9 194.2h0M547.0 192.4h0M550.9 185.4h0M546.1 195.2h0M550.9 191.3h0M548.9 173.0h0M550.7 186.6h0M549.0 190.3h0M551.0 185.5h0M547.0 189.3h0M546.8 185.5h0M552.2 178.1h0M552.2 190.3h0M549.3 189.7h0M549.4 182.9h0M546.8 182.0h0M551.5 192.7h0M549.0 189.0h0M549.8 193.8h0M548.2 192.5h0M549.6 189.3h0M549.9 183.7h0M548.3 195.2h0M552.3 190.5h0M546.4 187.1h0M551.6 188.6h0M552.0 193.0h0M550.6 185.8h0M547.4 185.0h0M547.0 192.1h0M551.4 192.9h0M549.5 183.6h0M551.5 185.6h0M547.9 187.0h0M550.3 166.2h0M552.0 193.5h0M547.6 188.6h0M548.9 183.4h0M550.8 186.9h0M550.2 182.1h0M550.1 174.2h0M549.0 180.1h0M550.0 186.7h0M550.9 190.0h0M551.1 164.3h0M550.3 194.0h0M547.7 188.5h0M545.7 195.2h0M546.3 193.4h0M550.4 193.7h0M551.0 193.7h0M547.7 167.5h0M549.8 193.5h0M548.6 189.4h0M548.0 191.1h0M551.1 185.6h0M550.8 190.9h0M550.2 189.2h0M549.5 173.7h0M548.0 179.4h0M552.0 191.5h0M549.5 192.4h0M549.7 182.3h0M550.2 193.3h0M551.2 177.7h0M551.6 189.9h0M551.0 184.1h0M549.9 181.8h0M551.6 177.0h0M549.3 190.6h0M548.3 194.5h0M546.2 185.4h0M550.4 187.8h0M550.3 190.1h0M550.1 194.9h0M552.0 191.4h0M549.9 185.4h0M547.1 191.9h0M548.4 186.9h0M549.9 192.1h0M549.2 194.9h0M550.2 193.6h0M549.7 167.0h0M549.8 175.2h0M549.0 167.0h0M549.0 189.1h0M549.7 193.3h0M551.2 194.4h0M548.6 192.8h0M552.1 179.4h0" stroke="#437db9" stroke-opacity="0.5" stroke-width="2.0" stroke-linecap="round" fill="none"/>
<path d="M528.4 194.5h0M532.5 189.9h0M531.8 194.2h0M529.6 193.3h0M524.0 193.1h0M524.3 188.0h0M524.4 192.7h0M528.2 182.2h0M528.6 183.8h0M525.1 186.7h0M528.0 181.4h0M529.9 193.4h0M522.6 189.9h0M525.9 188.3h0M529.7 182.2h0" stroke="#437db9" stroke-opacity="0.5" stroke-width="4.0" stroke-linecap="round" fill="none"/>
<path d="M525.2 194.0h0M526.2 195.1h0M526.2 189.2h0M523.8 183.7h0M527.6 188.3h0M523.9 183.6h0M526.0 176.7h0M524.1 187.8h0M522.0 193.3h0M523.3 194.7h0M525.0 185.8h0M524.9 188.2h0" stroke="#437db9" stroke-opacity="0.5" stroke-width="4.4" stroke-linecap="round" fill="none"/>
<path d="M521.9 191.1h0M517.8 182.4h0M518.7 193.8h0M520.5 187.5h0" stroke="#437db9" stroke-opacity="0.5" stroke-width="4.8" stroke-linecap="round" fill="none"/>
<path d="M549.4 185.2h0M551.7 191.3h0M551.5 187.7h0M551.4 160.9h0M552.0 179.6h0M552.0 183.0h0M551.9 154.6h0M551.1 189.1h0M551.9 169.8h0M552.3 191.2h0M550.2 185.0h0M551.6 192.6h0M552.0 176.7h0M549.5 194.7h0M550.2 189.8h0M552.1 189.3h0M551.9 193.8h0M550.8 190.7h0M550.4 171.4h0M550.6 194.6h0M550.5 194.1h0M551.9 193.5h0M551.0 169.9h0M549.5 190.8h0M550.4 194.4h0M552.0 187.7h0M551.8 193.0h0M552.0 195.1h0" stroke="#437db9" stroke-opacity="0.5" stroke-width="1.6" stroke-linecap="round" fill="none"/>
<path d="M533.1 189.6h0M532.8 193.9h0M534.4 179.3h0M534.1 192.4h0M535.9 194.9h0M536.1 187.1h0M533.4 188.5h0M530.4 192.1h0M529.6 194.6h0M530.5 181.1h0M535.4 189.5h0M531.7 195.0h0M533.9 190.6h0M532.8 193.0h0M531.9 160.1h0M529.7 188.8h0M533.4 194.6h0M532.3 193.2h0M530.7 193.8h0M537.7 191.2h0M533.3 175.4h0M531.7 191.9h0M531.5 184.0h0" stroke="#437db9" stroke-opacity="0.5" stroke-width="3.6" stroke-linecap="round" fill="none"/>
<path d="M517.9 186.9h0" stroke="#437db9" stroke-opacity="0.5" stroke-width="5.2" stroke-linecap="round" fill="none"/>
<path d="M510.0 193.9h0M497.9 192.2h0" stroke="#437db9" stroke-opacity="0.5" stroke-width="5.6" stroke-linecap="round" fill="none"/>
<path d="M493.2 183.0h0" stroke="#3b75b1" stroke-opacity="0.9" stroke-width="5.6" stroke-linecap="round" fill="none"/>
<path d="M499.0 189.5h0" stroke="#3b75b1" stroke-opacity="0.9" stroke-width="4.8" stroke-linecap="round" fill="none"/>
<path d="M503.5 186.0h0" stroke="#3b75b1" stroke-opacity="0.9" stroke-width="4.4" stroke-linecap="round" fill="none"/>
<path d="M507.0 191.0h0" stroke="#3b75b1" stroke-opacity="0.9" stroke-width="4.0" stroke-linecap="round" fill="none"/>
<path d="M531.7 58.4h0M523.0 133.0h0" stroke="#6b9acb" stroke-opacity="0.7" stroke-width="4.0" stroke-linecap="round" fill="none"/>
<path d="M542.4 83.0h0" stroke="#6b9acb" stroke-opacity="0.7" stroke-width="3.2" stroke-linecap="round" fill="none"/>
<path d="M534.4 105.0h0" stroke="#6b9acb" stroke-opacity="0.7" stroke-width="3.6" stroke-linecap="round" fill="none"/>
<path d="M517.5 146.0h0" stroke="#6b9acb" stroke-opacity="0.7" stroke-width="4.8" stroke-linecap="round" fill="none"/>
<path d="M519.0 148.5h0" stroke="#6b9acb" stroke-opacity="0.7" stroke-width="4.4" stroke-linecap="round" fill="none"/>
<path d="M527.9 154.9h0M530.4 141.9h0M547.8 126.9h0M545.4 160.2h0M547.5 137.1h0" stroke="#4a86c4" stroke-opacity="0.5" stroke-width="2.8" stroke-linecap="round" fill="none"/>
<path d="M532.5 130.6h0M527.0 158.7h0M536.4 152.1h0M541.1 145.5h0M524.8 149.7h0M532.6 135.7h0" stroke="#4a86c4" stroke-opacity="0.5" stroke-width="3.2" stroke-linecap="round" fill="none"/>
<path d="M532.7 163.4h0M546.7 142.6h0M538.1 133.2h0" stroke="#4a86c4" stroke-opacity="0.5" stroke-width="3.6" stroke-linecap="round" fill="none"/>
<path d="M566.2 195.1h0M570.4 184.4h0M566.2 194.1h0M567.6 185.2h0M567.5 187.7h0M571.0 187.9h0M564.4 192.3h0M566.4 189.6h0M568.7 190.5h0M565.5 183.1h0M569.9 186.1h0M569.6 190.8h0M570.2 194.8h0M567.1 194.7h0M567.8 191.7h0M567.4 191.4h0M565.6 188.0h0M565.7 195.2h0M569.6 191.0h0M574.4 192.6h0M569.1 188.7h0M574.6 192.8h0M567.2 182.4h0M564.5 190.4h0M571.6 192.8h0M567.6 194.2h0M567.5 191.5h0M571.6 194.3h0M569.6 179.0h0M570.2 193.4h0M570.1 190.8h0M570.8 191.7h0M571.7 194.1h0M575.3 189.9h0M566.6 194.7h0M566.5 194.7h0M566.1 176.7h0M567.8 188.0h0M569.1 193.7h0M565.7 188.6h0M571.6 190.5h0M569.6 191.2h0M567.7 192.9h0M564.0 181.6h0M568.2 194.1h0M570.3 190.7h0M568.6 188.9h0M566.3 190.1h0M566.9 193.9h0M566.3 186.7h0M570.7 192.3h0M568.7 193.2h0M569.0 187.7h0M569.6 194.5h0M568.9 190.8h0M568.1 190.4h0M566.6 193.9h0M567.9 177.4h0M567.0 192.9h0M567.8 185.8h0M573.2 191.2h0M566.4 188.3h0M574.3 185.7h0M574.0 195.0h0M565.5 193.9h0M567.6 190.6h0M574.3 188.0h0M565.7 189.8h0M567.6 193.0h0M570.4 189.0h0M570.8 187.1h0M572.0 192.9h0M571.5 194.4h0M566.6 192.5h0M566.5 190.8h0M570.3 192.6h0" stroke="#e2739b" stroke-opacity="0.5" stroke-width="2.4" stroke-linecap="round" fill="none"/>
<path d="M580.6 191.8h0M584.0 190.8h0M581.1 192.6h0M582.9 191.6h0M584.1 184.9h0M587.3 193.4h0M580.9 186.1h0M583.1 194.8h0M583.7 191.8h0M585.1 194.7h0M582.4 191.6h0" stroke="#e2739b" stroke-opacity="0.5" stroke-width="3.6" stroke-linecap="round" fill="none"/>
<path d="M570.2 177.8h0M575.2 195.0h0M572.8 187.3h0M573.8 194.1h0M571.9 179.3h0M578.0 194.7h0M571.7 184.1h0M575.6 195.1h0M574.0 192.7h0M572.4 191.5h0M572.0 187.5h0M570.5 181.7h0M576.3 192.6h0M568.5 193.4h0M570.7 194.9h0M574.8 186.9h0M574.4 193.1h0M577.6 186.5h0M570.4 194.2h0M579.6 194.6h0M573.0 189.8h0M573.6 194.5h0M577.1 195.0h0M573.5 193.5h0M571.2 192.6h0M575.7 190.6h0M579.6 187.6h0M572.3 184.3h0M573.8 182.6h0M572.6 176.6h0M570.5 193.6h0M575.4 191.5h0M572.6 187.8h0M569.0 194.7h0M577.2 193.7h0M575.9 186.8h0M580.0 185.0h0M572.8 193.5h0M580.0 186.3h0M570.9 192.3h0M570.7 190.3h0M572.9 194.7h0" stroke="#e2739b" stroke-opacity="0.5" stroke-width="2.8" stroke-linecap="round" fill="none"/>
<path d="M566.8 193.1h0M567.0 183.5h0M566.9 192.5h0M565.3 182.2h0M568.1 188.9h0M569.7 194.2h0M567.0 189.4h0M563.9 187.2h0M566.9 193.2h0M566.4 191.4h0M565.2 192.2h0M566.2 192.2h0M564.9 194.0h0M566.7 188.2h0M564.0 191.7h0M571.7 190.6h0M564.3 192.0h0M568.9 185.6h0M564.1 194.1h0M568.6 193.3h0M566.9 189.6h0M566.1 188.3h0M564.6 194.5h0M568.3 195.1h0M565.8 178.4h0M565.9 186.1h0M567.4 188.9h0M566.8 193.6h0M564.1 195.0h0M571.4 189.7h0M563.7 183.1h0M565.3 192.0h0M564.7 191.6h0M568.5 183.2h0M564.7 193.8h0M567.6 187.8h0M564.5 193.7h0M564.9 189.5h0M569.0 181.3h0M563.6 190.3h0M567.0 182.9h0M569.2 194.6h0M565.4 194.3h0M564.0 191.4h0M564.3 178.9h0M566.2 194.2h0M563.9 193.0h0M566.5 191.6h0M568.8 194.0h0M568.9 175.6h0M569.6 192.7h0M565.0 191.3h0M564.9 186.6h0M569.2 190.4h0M564.1 181.4h0M566.6 194.7h0M567.8 181.7h0M567.2 188.5h0M567.5 171.6h0M567.0 191.3h0M568.5 193.9h0M564.2 185.4h0M567.3 193.4h0M566.1 190.4h0M568.0 194.3h0M567.3 181.3h0M570.0 191.4h0M568.9 190.1h0M566.3 190.1h0M566.7 193.6h0M567.8 184.9h0M566.4 184.5h0M567.1 170.1h0M564.5 194.3h0M566.5 190.3h0M565.9 194.8h0M566.5 185.2h0M567.8 192.4h0M567.3 187.2h0M563.6 171.9h0M564.4 186.8h0" stroke="#e2739b" stroke-opacity="0.5" stroke-width="2.0" stroke-linecap="round" fill="none"/>
<path d="M564.9 191.2h0M565.1 191.4h0M564.6 191.6h0M565.2 191.7h0M564.9 190.2h0M565.5 171.2h0M564.3 179.2h0M564.0 190.2h0M564.4 183.9h0M565.0 192.7h0M563.7 191.5h0M564.6 193.2h0M566.1 192.0h0M564.1 190.5h0M564.4 193.9h0M563.7 192.4h0M565.2 184.6h0M564.9 193.9h0M566.1 191.3h0" stroke="#e2739b" stroke-opacity="0.5" stroke-width="1.6" stroke-linecap="round" fill="none"/>
<path d="M584.2 192.5h0M575.4 191.1h0M579.1 186.6h0M579.3 193.5h0M574.5 185.5h0M575.0 194.5h0M578.1 190.7h0M577.0 192.2h0M578.9 191.5h0M579.2 189.0h0M580.1 182.4h0M579.0 192.4h0M580.7 190.1h0M583.3 193.5h0M579.7 193.5h0M577.5 193.5h0M577.3 189.9h0M583.6 192.6h0M579.8 186.0h0" stroke="#e2739b" stroke-opacity="0.5" stroke-width="3.2" stroke-linecap="round" fill="none"/>
<path d="M587.1 186.3h0M587.1 192.2h0M588.5 191.8h0M584.5 189.4h0" stroke="#e2739b" stroke-opacity="0.5" stroke-width="4.0" stroke-linecap="round" fill="none"/>
<path d="M594.8 195.1h0" stroke="#e2739b" stroke-opacity="0.5" stroke-width="4.4" stroke-linecap="round" fill="none"/>
<path d="M608.4 194.2h0" stroke="#e2739b" stroke-opacity="0.5" stroke-width="4.8" stroke-linecap="round" fill="none"/>
<path d="M568.6 143.1h0M565.8 149.3h0" stroke="#e2739b" stroke-opacity="0.45" stroke-width="2.8" stroke-linecap="round" fill="none"/>
<path d="M586.8 174.5h0M570.7 174.3h0M579.7 165.7h0" stroke="#e2739b" stroke-opacity="0.45" stroke-width="2.4" stroke-linecap="round" fill="none"/>
<path d="M576.1 174.0h0" stroke="#e2739b" stroke-opacity="0.45" stroke-width="3.2" stroke-linecap="round" fill="none"/>
<path d="M590.6 47.7h0" stroke="#e2739b" stroke-opacity="0.55" stroke-width="4.0" stroke-linecap="round" fill="none"/>
<path d="M578.7 125.6h0M579.7 163.0h0" stroke="#e2739b" stroke-opacity="0.55" stroke-width="3.2" stroke-linecap="round" fill="none"/>
<path d="M571.0 132.6h0" stroke="#e2739b" stroke-opacity="0.55" stroke-width="2.8" stroke-linecap="round" fill="none"/>
<path d="M567.3 147.5h0" stroke="#e2739b" stroke-opacity="0.55" stroke-width="2.4" stroke-linecap="round" fill="none"/>
<path d="M584.6 156.4h0" stroke="#e2739b" stroke-opacity="0.55" stroke-width="3.6" stroke-linecap="round" fill="none"/>
<path d="M598.0 184.3h0M597.0 192.5h0" stroke="#e2739b" stroke-opacity="0.8" stroke-width="4.0" stroke-linecap="round" fill="none"/>
<path d="M581.5 183.0h0" stroke="#e2739b" stroke-opacity="0.8" stroke-width="3.2" stroke-linecap="round" fill="none"/>
<path d="M609.4 190.3h0" stroke="#e2739b" stroke-opacity="0.8" stroke-width="4.4" stroke-linecap="round" fill="none"/>
<path d="M615.0 188.8h0" stroke="#e2739b" stroke-opacity="0.8" stroke-width="4.8" stroke-linecap="round" fill="none"/>
<path d="M561.4 194.9h0M557.1 195.3h0M554.6 191.3h0M561.4 196.8h0M562.6 183.7h0M563.1 185.6h0M554.6 195.0h0M559.3 196.2h0M562.2 185.1h0M557.3 196.1h0M556.4 195.7h0M562.4 185.1h0M557.1 196.9h0M557.0 195.7h0M560.6 193.9h0M560.3 193.7h0M552.8 184.9h0M561.5 194.8h0M556.3 194.8h0M556.8 196.4h0M560.2 194.5h0M553.0 183.3h0M554.4 190.4h0M557.6 196.9h0M554.1 193.5h0M560.3 197.0h0M563.0 181.0h0M552.7 197.0h0M555.3 193.5h0M560.2 197.0h0M556.5 195.3h0M555.6 195.6h0M559.0 195.9h0M552.7 196.7h0M557.9 197.0h0M561.7 192.7h0M561.5 193.3h0M556.2 194.5h0M553.2 186.3h0M556.1 197.0h0M562.7 187.4h0M557.3 196.4h0M558.2 196.7h0M557.5 196.3h0M559.4 196.9h0M557.1 196.9h0M554.6 195.7h0M556.6 195.9h0M558.2 197.0h0M556.9 195.3h0M561.6 196.7h0M560.0 196.8h0M556.2 195.9h0M559.0 196.9h0M557.6 195.7h0" stroke="#c8c8c8" stroke-opacity="0.6" stroke-width="2.0" stroke-linecap="round" fill="none"/>
<path d="M553.4 191.5h0M562.9 195.1h0M561.7 189.7h0M558.3 195.6h0M556.5 195.9h0M554.2 189.2h0M563.1 195.0h0M556.9 195.8h0M553.3 194.6h0M555.4 193.8h0M558.3 197.0h0M562.5 183.8h0M553.4 196.5h0M555.4 195.3h0M559.6 196.8h0M557.0 196.6h0M558.0 196.3h0M555.1 195.6h0M558.3 197.0h0M560.2 195.5h0M553.7 193.1h0M556.0 194.9h0M559.0 195.5h0M557.8 195.5h0M554.2 193.8h0M558.1 196.3h0M555.0 192.2h0M553.9 195.8h0M563.2 187.3h0M562.3 185.7h0M558.9 196.9h0M559.5 195.1h0M562.3 188.3h0M559.6 196.9h0M559.7 195.8h0M559.1 195.7h0M553.7 194.4h0M559.8 196.7h0M555.6 195.3h0M556.4 195.3h0M553.8 196.3h0M556.5 194.8h0M559.2 195.9h0M555.1 194.1h0M554.3 193.4h0M560.8 194.2h0M558.4 196.5h0M557.8 196.1h0M558.1 196.9h0M560.6 193.5h0M561.7 187.8h0" stroke="#c8c8c8" stroke-opacity="0.6" stroke-width="1.6" stroke-linecap="round" fill="none"/>
<path d="M522.4 195.9h0M537.7 196.4h0M528.5 197.4h0M526.3 197.1h0M524.7 197.3h0M519.7 196.4h0M537.8 196.5h0M519.2 197.3h0M547.5 195.9h0M536.8 196.7h0M528.7 197.1h0M541.9 197.4h0M536.9 195.9h0M570.8 197.3h0M576.4 196.7h0M566.4 197.1h0M567.3 197.4h0M576.2 197.6h0M595.4 196.0h0M582.4 196.9h0M596.2 197.4h0M597.1 196.9h0M579.8 197.5h0M574.6 197.0h0M565.4 197.5h0" stroke="#c4c4c4" stroke-opacity="0.5" stroke-width="2.4" stroke-linecap="round" fill="none"/>
<path d="M519.6 196.4h0M541.7 196.9h0M536.2 197.0h0M525.4 196.3h0M542.9 195.9h0M530.7 197.6h0M544.5 196.4h0M587.2 196.4h0M575.7 196.2h0M600.0 195.9h0M580.3 196.0h0M581.5 197.3h0M580.7 197.6h0" stroke="#c4c4c4" stroke-opacity="0.5" stroke-width="1.6" stroke-linecap="round" fill="none"/>
<path d="M527.2 196.7h0M542.2 197.0h0M532.3 195.9h0M518.9 197.3h0M524.6 197.5h0M537.5 196.5h0M539.9 196.2h0M547.2 197.1h0M530.4 196.4h0M535.3 195.9h0M597.3 197.0h0M594.3 196.0h0M592.9 196.0h0M585.4 196.3h0M576.4 197.4h0M577.1 196.0h0M593.0 197.2h0M592.8 195.9h0M582.2 197.2h0M567.6 196.8h0" stroke="#c4c4c4" stroke-opacity="0.5" stroke-width="2.0" stroke-linecap="round" fill="none"/>
<path d="M545.7 189.8h0M548.1 171.1h0M547.2 188.1h0M544.7 190.8h0M546.2 189.7h0M550.9 176.9h0M547.7 190.2h0M542.8 183.0h0M542.8 181.1h0M545.3 180.3h0M541.2 192.8h0M547.3 191.9h0M545.6 193.8h0M544.2 181.9h0M546.8 180.0h0M548.6 175.0h0M542.9 185.9h0M544.0 191.2h0M548.0 189.1h0M547.1 183.8h0M550.0 187.8h0M544.4 182.3h0M546.6 181.5h0M542.0 190.1h0M543.9 187.6h0M547.2 195.0h0M547.3 194.0h0M543.0 191.6h0M546.4 160.3h0M551.1 192.2h0M544.8 184.8h0M549.0 193.9h0M548.4 189.2h0M551.1 172.5h0M548.8 179.4h0M550.5 193.2h0M545.5 190.4h0M545.4 191.6h0M550.6 194.8h0M544.8 191.7h0M547.3 173.5h0M549.1 190.8h0M544.6 177.8h0M545.9 177.7h0M541.2 187.6h0M541.2 194.9h0M548.5 187.3h0M550.7 187.9h0M541.3 193.4h0M543.9 189.4h0M549.0 173.8h0M543.9 193.0h0M549.3 186.5h0M545.9 184.1h0M542.2 191.5h0M548.2 170.4h0M547.9 162.1h0M542.1 174.8h0M544.5 176.8h0M541.7 192.3h0M543.7 193.2h0M541.3 194.6h0M548.0 194.0h0M543.7 188.1h0M541.1 186.0h0M548.9 174.7h0M547.1 191.9h0M544.0 191.9h0M547.7 192.5h0M548.9 168.2h0M549.0 182.5h0M540.3 185.1h0M542.5 192.5h0M544.1 187.5h0M548.9 189.5h0M545.4 161.8h0M544.4 179.1h0M542.6 186.1h0M547.1 179.0h0M546.1 194.3h0M548.3 180.1h0M546.3 187.7h0M547.7 195.1h0M545.1 195.0h0M547.4 192.8h0M548.6 191.1h0M543.8 188.8h0M546.6 186.0h0M548.7 194.0h0M548.7 193.1h0M548.2 194.4h0M542.4 186.0h0M546.5 190.6h0M546.8 185.1h0M545.4 183.3h0M546.0 182.5h0" stroke="#437db9" stroke-opacity="0.5" stroke-width="2.4" stroke-linecap="round" fill="none"/>
<path d="M535.7 174.7h0M537.7 191.3h0M537.4 182.0h0M537.5 185.9h0M537.2 189.6h0M535.5 190.8h0M536.5 188.1h0M538.9 193.5h0M538.4 194.8h0M539.8 192.9h0M536.8 189.5h0M536.2 178.5h0M540.1 190.0h0M537.8 186.3h0M531.6 190.6h0M535.0 195.1h0M535.7 177.9h0M536.6 187.8h0M540.1 176.3h0M538.6 152.8h0M539.1 176.6h0M533.8 181.8h0M540.3 190.5h0M539.8 192.4h0M539.1 187.8h0M537.1 179.5h0M532.4 184.7h0M539.3 189.6h0M532.7 181.8h0M537.7 190.9h0M539.9 192.8h0M536.4 195.1h0M534.9 192.8h0" stroke="#437db9" stroke-opacity="0.5" stroke-width="3.2" stroke-linecap="round" fill="none"/>
<path d="M539.6 181.0h0M543.8 187.2h0M539.3 185.8h0M534.9 191.5h0M538.3 181.9h0M541.6 190.2h0M544.4 179.9h0M537.7 175.4h0M543.3 167.9h0M546.2 186.3h0M545.3 178.7h0M545.5 188.0h0M540.1 186.7h0M543.6 190.2h0M546.8 191.2h0M541.7 193.8h0M542.0 191.0h0M540.9 194.1h0M538.9 194.5h0M541.9 190.2h0M542.4 184.5h0M543.7 190.1h0M537.2 190.8h0M538.7 193.1h0M544.9 184.9h0M537.8 191.3h0M544.3 191.0h0M542.2 191.2h0M539.2 190.6h0M540.5 192.0h0M544.5 194.8h0M536.4 190.1h0M540.6 185.7h0M535.7 191.7h0M541.7 187.6h0M541.2 184.1h0M538.6 170.2h0M539.3 190.8h0M545.9 188.2h0M545.6 166.5h0M546.1 173.5h0M546.2 194.0h0M543.3 188.4h0M539.4 191.7h0M541.1 189.4h0M543.4 182.6h0M540.5 185.1h0M545.8 177.0h0M539.3 185.6h0M545.2 192.5h0M541.1 145.4h0M543.8 179.0h0M537.0 188.6h0M543.5 194.0h0M543.2 167.7h0M542.9 187.0h0M540.8 175.7h0M545.7 193.7h0M543.7 194.9h0M537.0 175.9h0M541.4 184.2h0M538.6 192.0h0M542.1 168.6h0M538.3 165.1h0M542.7 193.2h0M541.5 190.3h0M541.7 179.3h0" stroke="#437db9" stroke-opacity="0.5" stroke-width="2.8" stroke-linecap="round" fill="none"/>
<path d="M548.8 190.7h0M546.8 185.2h0M550.2 189.6h0M547.1 184.6h0M547.0 188.6h0M549.0 182.4h0M547.2 185.5h0M550.0 189.0h0M550.7 193.4h0M546.3 161.0h0M551.8 194.0h0M545.7 194.7h0M550.2 191.1h0M550.6 193.4h0M548.7 191.4h0M547.6 187.2h0M544.9 189.6h0M550.2 184.7h0M546.4 176.8h0M545.9 194.9h0M550.8 188.5h0M550.7 194.7h0M546.5 189.2h0M549.4 179.3h0M547.3 186.7h0M548.5 169.3h0M547.2 187.3h0M549.0 185.7h0M551.8 194.0h0M552.3 194.8h0M548.7 169.0h0M551.2 188.3h0M550.9 187.6h0M550.1 190.1h0M546.8 189.0h0M547.0 188.5h0M549.5 188.9h0M551.7 188.7h0M548.5 193.5h0M548.3 192.2h0M547.0 184.8h0M549.7 187.5h0M549.6 186.6h0M550.2 192.1h0M547.5 188.5h0M551.6 173.9h0M549.0 165.2h0M550.0 194.3h0M547.3 180.2h0M545.9 184.3h0M552.2 195.0h0M549.8 189.0h0M549.2 181.3h0M548.8 192.7h0M552.1 194.6h0M546.9 194.7h0M551.3 195.2h0M549.8 188.4h0M548.8 191.2h0M547.2 191.3h0M550.9 190.9h0M552.2 189.3h0M548.2 166.3h0M550.8 169.3h0M548.1 192.0h0M546.7 188.0h0M550.0 187.0h0M551.2 194.7h0M551.0 186.8h0M549.3 175.0h0M548.2 161.7h0M551.3 190.6h0M548.6 193.7h0M545.5 190.0h0M551.7 193.5h0M549.8 187.9h0M551.0 193.8h0M545.6 193.8h0M550.1 185.8h0M551.0 184.8h0M551.5 178.0h0M547.9 192.7h0M545.2 185.2h0M549.8 178.8h0M544.3 190.4h0M551.1 193.2h0M548.4 193.6h0M551.3 176.7h0M552.2 188.2h0M546.5 194.9h0M547.5 182.8h0M551.7 193.5h0M547.2 182.6h0M546.5 188.5h0M546.5 183.3h0M547.5 195.2h0M548.3 193.3h0M552.3 192.8h0" stroke="#437db9" stroke-opacity="0.5" stroke-width="2.0" stroke-linecap="round" fill="none"/>
<path d="M523.7 184.1h0M531.6 190.1h0M526.3 194.3h0M524.6 190.7h0M525.6 192.4h0M522.7 180.9h0M524.9 183.1h0M530.8 190.0h0M527.0 179.4h0M529.6 184.2h0M529.2 193.1h0M529.8 194.6h0M530.1 185.3h0M524.6 183.3h0M529.9 187.8h0" stroke="#437db9" stroke-opacity="0.5" stroke-width="4.0" stroke-linecap="round" fill="none"/>
<path d="M519.9 156.7h0M521.4 193.4h0M527.4 191.4h0M526.9 178.2h0M517.8 194.3h0M526.4 179.9h0M521.7 191.3h0M521.4 191.1h0M520.9 183.7h0M520.9 191.9h0M525.1 177.2h0M519.4 194.4h0" stroke="#437db9" stroke-opacity="0.5" stroke-width="4.4" stroke-linecap="round" fill="none"/>
<path d="M518.6 188.0h0M517.5 192.6h0M519.0 187.9h0M521.9 189.1h0" stroke="#437db9" stroke-opacity="0.5" stroke-width="4.8" stroke-linecap="round" fill="none"/>
<path d="M552.0 194.1h0M550.3 189.3h0M551.2 182.9h0M552.1 190.3h0M549.3 182.7h0M552.2 187.6h0M551.3 192.9h0M550.2 183.6h0M551.1 187.3h0M550.8 185.7h0M550.8 193.1h0M551.5 186.9h0M550.2 192.5h0M550.5 192.3h0M551.5 187.6h0M551.1 191.7h0M552.2 192.9h0M551.4 187.9h0M551.2 194.5h0M552.2 193.7h0M551.6 188.8h0M551.7 188.9h0M550.6 194.0h0M551.6 192.5h0M552.1 189.3h0M549.0 172.9h0M551.5 182.9h0M549.7 175.9h0" stroke="#437db9" stroke-opacity="0.5" stroke-width="1.6" stroke-linecap="round" fill="none"/>
<path d="M531.1 190.3h0M529.5 180.3h0M533.3 193.9h0M527.3 190.2h0M535.9 193.3h0M529.2 190.8h0M534.1 163.0h0M526.6 192.3h0M533.5 191.9h0M531.6 192.0h0M530.3 176.3h0M534.4 193.9h0M531.6 195.2h0M534.9 193.9h0M536.4 182.6h0M530.5 192.2h0M535.4 187.7h0M535.8 180.9h0M531.0 192.6h0M528.8 195.0h0M531.9 189.2h0M528.7 194.3h0" stroke="#437db9" stroke-opacity="0.5" stroke-width="3.6" stroke-linecap="round" fill="none"/>
<path d="M511.0 187.5h0" stroke="#437db9" stroke-opacity="0.5" stroke-width="5.2" stroke-linecap="round" fill="none"/>
<path d="M505.2 192.1h0" stroke="#437db9" stroke-opacity="0.5" stroke-width="5.6" stroke-linecap="round" fill="none"/>
<path d="M511.0 187.0h0" stroke="#3b75b1" stroke-opacity="0.9" stroke-width="4.4" stroke-linecap="round" fill="none"/>
<path d="M516.0 190.0h0" stroke="#3b75b1" stroke-opacity="0.9" stroke-width="4.0" stroke-linecap="round" fill="none"/>
<path d="M527.4 71.8h0M531.0 138.0h0" stroke="#6b9acb" stroke-opacity="0.7" stroke-width="4.0" stroke-linecap="round" fill="none"/>
<path d="M538.5 40.7h0" stroke="#6b9acb" stroke-opacity="0.7" stroke-width="3.2" stroke-linecap="round" fill="none"/>
<path d="M530.4 94.3h0" stroke="#6b9acb" stroke-opacity="0.7" stroke-width="3.6" stroke-linecap="round" fill="none"/>
<path d="M524.0 155.0h0" stroke="#6b9acb" stroke-opacity="0.7" stroke-width="4.4" stroke-linecap="round" fill="none"/>
<path d="M526.3 138.2h0M528.5 153.6h0M532.0 158.5h0M548.3 136.0h0M531.5 161.3h0" stroke="#4a86c4" stroke-opacity="0.5" stroke-width="2.8" stroke-linecap="round" fill="none"/>
<path d="M540.4 163.8h0M523.7 144.1h0M532.1 135.6h0M538.6 157.1h0M547.9 162.4h0M531.8 134.3h0" stroke="#4a86c4" stroke-opacity="0.5" stroke-width="3.2" stroke-linecap="round" fill="none"/>
<path d="M518.9 162.7h0M539.9 127.9h0" stroke="#4a86c4" stroke-opacity="0.5" stroke-width="3.6" stroke-linecap="round" fill="none"/>
<path d="M567.9 184.9h0M573.2 193.9h0M570.0 174.0h0M575.2 182.9h0M571.7 182.4h0M570.7 194.4h0M574.0 193.1h0M565.9 193.9h0M565.9 189.2h0M566.8 184.8h0M572.0 184.4h0M570.4 193.9h0M566.8 193.8h0M570.1 190.7h0M575.0 194.0h0M568.2 190.1h0M567.2 193.5h0M566.8 183.9h0M568.3 190.1h0M570.1 194.9h0M567.8 180.4h0M569.2 180.8h0M565.6 185.1h0M573.6 188.8h0M572.1 193.1h0M570.7 181.7h0M572.9 192.4h0M569.1 191.2h0M567.9 189.8h0M569.4 186.3h0M564.5 191.1h0M568.9 183.2h0M572.7 195.0h0M569.4 179.9h0M566.9 194.4h0M568.6 191.6h0M567.2 191.9h0M572.0 192.9h0M570.8 186.1h0M574.3 187.1h0M568.9 192.1h0M570.4 191.9h0M572.4 185.0h0M570.3 194.8h0M566.7 193.8h0M569.7 195.1h0M570.5 185.2h0M565.6 191.0h0M575.1 189.6h0M565.5 195.0h0M566.6 173.7h0M564.8 194.9h0M570.6 193.0h0M570.5 183.7h0M566.0 188.3h0M568.5 192.8h0M574.2 190.4h0M568.3 193.4h0M569.8 195.0h0M569.1 178.4h0M570.8 193.6h0M566.5 184.9h0M565.3 183.3h0M571.6 188.5h0M571.6 194.7h0M564.2 189.3h0M567.3 190.8h0M571.7 181.6h0M568.0 194.6h0M569.1 192.1h0M568.9 187.5h0M572.7 193.8h0M575.2 190.8h0M566.1 187.3h0M570.7 191.2h0M570.6 178.5h0" stroke="#e2739b" stroke-opacity="0.5" stroke-width="2.4" stroke-linecap="round" fill="none"/>
<path d="M585.7 186.6h0M581.5 191.8h0M580.5 192.7h0M587.3 189.4h0M580.9 194.2h0M583.0 194.1h0M581.6 194.0h0M582.5 194.5h0M582.7 194.1h0M582.2 194.7h0M585.1 192.2h0" stroke="#e2739b" stroke-opacity="0.5" stroke-width="3.6" stroke-linecap="round" fill="none"/>
<path d="M574.5 194.8h0M572.3 185.0h0M576.6 195.0h0M572.1 193.4h0M574.3 191.0h0M575.7 194.9h0M575.4 194.3h0M570.9 194.8h0M577.5 193.4h0M574.7 186.2h0M571.9 192.5h0M576.7 191.3h0M576.2 191.6h0M572.3 189.9h0M570.6 192.1h0M570.1 193.1h0M569.9 192.7h0M572.2 190.5h0M577.0 183.6h0M576.7 189.4h0M573.4 195.2h0M572.6 186.7h0M574.0 189.4h0M576.3 185.1h0M575.5 189.9h0M575.7 187.3h0M572.2 194.3h0M576.3 185.1h0M577.6 191.5h0M575.5 187.8h0M574.2 190.8h0M578.6 194.3h0M572.9 187.7h0M570.6 186.8h0M573.8 195.1h0M573.6 194.0h0M577.5 192.0h0M573.6 192.1h0M575.5 194.4h0M570.0 192.1h0M573.1 192.5h0M576.8 190.9h0" stroke="#e2739b" stroke-opacity="0.5" stroke-width="2.8" stroke-linecap="round" fill="none"/>
<path d="M563.8 192.0h0M565.9 194.0h0M566.5 190.4h0M568.6 187.2h0M569.7 192.1h0M564.4 191.2h0M566.5 194.8h0M563.7 195.0h0M566.7 192.7h0M568.3 193.9h0M564.1 192.8h0M565.7 190.6h0M565.3 189.0h0M564.5 193.9h0M564.0 194.2h0M567.4 192.2h0M564.8 184.8h0M564.7 187.9h0M565.4 190.9h0M566.6 193.6h0M564.5 195.0h0M567.0 184.1h0M565.9 177.9h0M563.7 193.5h0M563.9 183.3h0M564.4 188.7h0M565.9 179.3h0M565.7 181.1h0M564.8 193.0h0M567.6 193.2h0M563.7 189.8h0M564.3 190.7h0M564.7 190.0h0M568.3 189.1h0M566.8 183.4h0M566.8 191.7h0M565.3 183.3h0M564.9 173.2h0M565.3 188.7h0M564.9 189.6h0M564.4 193.3h0M564.0 193.0h0M568.2 175.2h0M565.3 194.1h0M564.6 193.7h0M569.9 185.7h0M566.7 187.4h0M568.7 191.1h0M568.6 194.1h0M569.2 182.3h0M566.2 191.9h0M567.5 192.2h0M565.5 192.6h0M564.1 192.5h0M565.7 190.5h0M567.2 171.3h0M565.1 189.8h0M563.7 192.1h0M566.0 184.3h0M563.8 194.4h0M565.4 180.8h0M567.3 187.1h0M565.8 188.4h0M567.7 192.7h0M569.6 189.0h0M564.3 190.8h0M566.1 187.7h0M566.7 193.3h0M569.5 193.3h0M567.7 192.3h0M570.4 192.8h0M563.7 190.9h0M564.4 181.9h0M565.6 195.0h0M567.7 192.9h0M565.3 183.1h0M565.6 188.6h0M567.7 186.5h0M563.8 181.0h0M567.8 190.0h0M564.5 186.9h0" stroke="#e2739b" stroke-opacity="0.5" stroke-width="2.0" stroke-linecap="round" fill="none"/>
<path d="M564.6 183.7h0M563.9 188.6h0M564.5 182.3h0M563.8 194.5h0M564.1 188.4h0M563.9 177.3h0M565.5 195.0h0M566.1 190.0h0M564.7 186.4h0M564.0 190.5h0M564.9 187.2h0M565.4 194.0h0M565.3 190.8h0M565.6 190.4h0M564.4 194.8h0M564.1 184.1h0M566.3 186.8h0M564.1 193.8h0M565.1 194.9h0" stroke="#e2739b" stroke-opacity="0.5" stroke-width="1.6" stroke-linecap="round" fill="none"/>
<path d="M578.6 178.4h0M575.6 186.3h0M576.8 191.6h0M581.5 185.0h0M577.1 189.2h0M577.1 194.5h0M575.4 193.1h0M575.0 194.1h0M577.3 189.9h0M580.6 193.2h0M576.2 194.1h0M576.6 190.8h0M577.2 179.0h0M574.5 191.6h0M582.6 192.9h0M576.7 193.2h0M577.6 191.3h0M578.1 188.4h0M581.5 187.4h0" stroke="#e2739b" stroke-opacity="0.5" stroke-width="3.2" stroke-linecap="round" fill="none"/>
<path d="M583.6 192.7h0M584.1 191.9h0M585.1 192.4h0" stroke="#e2739b" stroke-opacity="0.5" stroke-width="4.0" stroke-linecap="round" fill="none"/>
<path d="M565.9 163.5h0M577.5 173.0h0" stroke="#e2739b" stroke-opacity="0.45" stroke-width="2.8" stroke-linecap="round" fill="none"/>
<path d="M585.3 159.6h0M569.8 175.2h0M567.5 162.5h0" stroke="#e2739b" stroke-opacity="0.45" stroke-width="2.4" stroke-linecap="round" fill="none"/>
<path d="M580.1 170.2h0" stroke="#e2739b" stroke-opacity="0.45" stroke-width="3.2" stroke-linecap="round" fill="none"/>
<path d="M594.2 170.5h0" stroke="#e2739b" stroke-opacity="0.55" stroke-width="4.0" stroke-linecap="round" fill="none"/>
<path d="M578.0 131.0h0M576.8 165.9h0" stroke="#e2739b" stroke-opacity="0.55" stroke-width="3.2" stroke-linecap="round" fill="none"/>
<path d="M574.7 133.3h0" stroke="#e2739b" stroke-opacity="0.55" stroke-width="2.8" stroke-linecap="round" fill="none"/>
<path d="M567.6 151.0h0" stroke="#e2739b" stroke-opacity="0.55" stroke-width="2.4" stroke-linecap="round" fill="none"/>
<path d="M587.2 182.8h0M592.0 191.0h0" stroke="#e2739b" stroke-opacity="0.8" stroke-width="4.0" stroke-linecap="round" fill="none"/>
<path d="M562.3 187.0h0M558.3 196.7h0M554.5 195.8h0M560.4 192.4h0M562.4 196.7h0M561.6 194.4h0M561.2 190.9h0M553.7 189.9h0M556.1 196.6h0M554.8 195.5h0M555.3 196.0h0M561.5 192.1h0M561.3 191.6h0M558.8 195.2h0M555.9 194.3h0M555.5 196.7h0M556.0 195.4h0M555.4 194.9h0M553.5 195.6h0M561.6 188.2h0M559.8 195.9h0M558.8 197.0h0M562.5 188.4h0M558.4 196.7h0M557.5 196.4h0M558.4 196.9h0M553.9 190.0h0M555.4 196.3h0M556.4 194.6h0M556.0 195.4h0M555.3 197.0h0M554.7 193.6h0M553.0 192.2h0M562.8 189.0h0M554.5 189.6h0M553.0 182.8h0M556.5 196.9h0M563.0 194.2h0M553.3 185.3h0M559.4 197.0h0M561.4 190.9h0M554.1 196.4h0M554.6 196.6h0M554.6 196.5h0M554.0 191.4h0M555.5 196.8h0M553.8 193.4h0M554.7 196.9h0M556.9 196.9h0M562.3 184.8h0M555.0 196.7h0M562.5 187.4h0M557.4 196.7h0M559.5 196.9h0" stroke="#c8c8c8" stroke-opacity="0.6" stroke-width="2.0" stroke-linecap="round" fill="none"/>
<path d="M555.4 195.5h0M552.9 194.5h0M563.1 196.2h0M552.9 183.0h0M560.2 194.8h0M557.2 197.0h0M560.0 196.8h0M561.1 196.3h0M559.8 197.0h0M558.0 197.0h0M562.3 187.7h0M560.6 196.3h0M560.4 194.6h0M555.8 195.5h0M557.9 197.0h0M557.9 197.0h0M559.3 195.8h0M561.1 196.3h0M558.7 196.2h0M563.3 183.1h0M554.4 194.6h0M561.1 197.0h0M556.6 195.8h0M554.9 192.5h0M561.8 196.3h0M553.3 193.6h0M553.1 196.6h0M558.6 196.2h0M558.8 196.6h0M553.4 190.5h0M557.8 197.0h0M557.6 195.8h0M562.3 192.4h0M555.9 196.9h0M560.0 196.8h0M561.6 195.7h0M559.5 195.5h0M555.7 193.2h0M561.1 194.8h0M555.8 195.9h0M554.6 193.0h0M561.8 194.4h0M558.7 195.6h0M553.5 189.7h0M557.8 195.8h0M561.6 190.4h0M556.4 196.9h0M559.7 195.9h0M562.3 193.0h0M559.2 196.4h0" stroke="#c8c8c8" stroke-opacity="0.6" stroke-width="1.6" stroke-linecap="round" fill="none"/>
<path d="M532.4 196.4h0M546.3 196.7h0M534.2 196.7h0M547.6 195.9h0M545.5 195.9h0M531.6 196.0h0M530.6 196.4h0M519.7 196.4h0M550.3 196.2h0M532.0 196.7h0M520.9 196.9h0M546.0 197.2h0M542.6 197.3h0M580.3 196.3h0M569.2 197.5h0M591.4 197.0h0M571.1 196.6h0M566.3 196.6h0M598.1 196.9h0M569.6 196.8h0M583.1 197.6h0M565.3 196.1h0M587.9 197.4h0M590.6 196.6h0M587.5 197.5h0" stroke="#c4c4c4" stroke-opacity="0.5" stroke-width="2.4" stroke-linecap="round" fill="none"/>
<path d="M535.9 196.7h0M526.1 197.2h0M550.4 197.0h0M532.5 197.0h0M540.6 196.9h0M521.6 196.2h0M568.7 197.1h0M584.5 196.9h0M578.8 197.0h0M563.6 196.1h0M574.5 197.3h0M578.0 196.7h0M574.5 197.3h0" stroke="#c4c4c4" stroke-opacity="0.5" stroke-width="1.6" stroke-linecap="round" fill="none"/>
<path d="M542.7 195.9h0M533.5 196.7h0M544.5 197.4h0M541.3 196.4h0M551.6 197.1h0M526.2 195.9h0M547.8 197.2h0M533.8 196.9h0M543.4 196.1h0M518.6 197.2h0M583.2 196.5h0M590.5 197.2h0M567.1 197.0h0M582.5 196.5h0M579.6 196.2h0M565.2 196.9h0M571.3 195.8h0M571.1 196.0h0M587.8 197.5h0" stroke="#c4c4c4" stroke-opacity="0.5" stroke-width="2.0" stroke-linecap="round" fill="none"/>
<path d="M548.0 181.6h0M544.1 180.7h0M546.5 194.9h0M540.0 174.6h0M547.4 180.7h0M544.4 190.9h0M548.4 181.5h0M547.5 175.2h0M545.0 193.2h0M548.0 187.9h0M544.0 192.4h0M547.1 184.0h0M543.5 186.1h0M546.6 187.5h0M547.0 190.3h0M544.6 192.6h0M547.5 189.6h0M547.3 166.2h0M544.8 189.1h0M546.5 167.2h0M545.9 175.2h0M551.1 187.3h0M542.0 185.3h0M548.9 193.5h0M548.8 192.5h0M543.7 181.1h0M547.8 187.6h0M543.3 195.0h0M546.1 180.2h0M542.6 190.4h0M548.3 188.7h0M548.7 183.5h0M547.5 166.1h0M549.3 175.5h0M545.4 186.7h0M545.5 179.8h0M543.2 194.0h0M547.9 178.3h0M545.8 192.3h0M546.4 193.7h0M544.3 193.3h0M540.8 188.8h0M547.8 179.0h0M546.5 193.2h0M549.9 191.3h0M546.3 183.0h0M548.9 173.8h0M546.3 190.3h0M546.7 183.8h0M547.1 157.6h0M548.4 174.8h0M547.9 194.2h0M550.1 192.2h0M543.5 192.7h0M546.3 185.2h0M547.8 192.6h0M547.7 193.1h0M542.8 190.2h0M545.5 192.5h0M549.7 180.5h0M544.1 168.5h0M544.1 186.4h0M549.0 187.3h0M544.0 194.4h0M545.2 173.6h0M541.9 186.2h0M546.7 195.1h0M547.4 194.1h0M544.4 185.3h0M546.7 194.6h0M548.1 187.6h0M541.8 191.4h0M543.5 195.0h0M546.1 183.1h0M543.4 193.2h0M548.3 193.8h0M545.6 173.5h0M549.5 192.4h0M545.9 184.9h0M546.8 191.9h0M545.3 194.7h0M547.2 179.4h0M544.8 193.7h0M549.3 193.0h0M548.6 176.4h0M548.2 191.6h0M545.3 193.7h0M549.4 194.8h0M549.0 183.2h0M549.5 189.8h0M548.3 192.8h0M547.0 193.9h0M550.6 181.3h0M547.0 166.3h0M549.1 179.4h0M548.1 181.6h0" stroke="#437db9" stroke-opacity="0.5" stroke-width="2.4" stroke-linecap="round" fill="none"/>
<path d="M532.2 192.2h0M538.2 192.9h0M541.8 190.2h0M535.2 186.6h0M532.9 181.7h0M540.0 175.7h0M539.8 177.8h0M538.1 182.5h0M536.2 189.3h0M536.5 189.7h0M533.8 187.5h0M535.6 189.9h0M534.0 184.4h0M538.2 192.8h0M537.2 192.5h0M536.3 184.6h0M535.6 181.0h0M535.0 184.9h0M536.5 195.1h0M534.9 193.3h0M535.2 194.0h0M538.8 187.1h0M534.8 192.6h0M538.5 169.5h0M539.2 190.8h0M536.3 186.9h0M541.6 181.8h0M537.8 191.2h0M534.9 188.2h0M536.3 191.3h0M539.3 182.0h0M534.9 183.7h0" stroke="#437db9" stroke-opacity="0.5" stroke-width="3.2" stroke-linecap="round" fill="none"/>
<path d="M541.3 183.2h0M543.0 194.3h0M541.9 174.8h0M543.2 179.7h0M542.3 187.3h0M546.6 184.4h0M537.3 192.3h0M540.8 181.8h0M540.6 195.0h0M540.3 184.2h0M539.2 194.4h0M543.2 182.2h0M545.9 183.3h0M539.3 191.8h0M545.4 190.9h0M541.1 185.3h0M541.3 186.4h0M541.4 190.0h0M544.5 162.8h0M546.1 193.6h0M539.3 187.2h0M539.8 184.5h0M541.9 182.6h0M536.4 190.5h0M539.5 189.7h0M544.6 190.4h0M541.5 191.2h0M540.0 191.4h0M545.7 161.2h0M542.3 192.3h0M542.8 192.5h0M540.6 182.6h0M543.1 188.4h0M538.6 172.8h0M544.2 192.8h0M544.4 193.1h0M540.3 192.6h0M545.3 177.4h0M535.9 191.2h0M540.2 186.4h0M542.2 192.8h0M544.8 190.5h0M541.8 191.1h0M543.3 192.8h0M542.4 171.5h0M540.6 189.6h0M544.9 189.5h0M537.7 176.6h0M544.4 193.7h0M543.9 186.6h0M540.9 185.7h0M545.4 193.6h0M541.3 182.2h0M539.6 186.9h0M542.5 192.0h0M542.6 190.3h0M539.3 193.8h0M540.9 194.0h0M543.1 194.0h0M540.1 191.8h0M538.4 178.9h0M540.2 192.4h0M538.3 194.8h0M544.3 186.8h0M542.4 192.8h0M541.2 183.8h0M538.3 178.4h0" stroke="#437db9" stroke-opacity="0.5" stroke-width="2.8" stroke-linecap="round" fill="none"/>
<path d="M546.7 176.7h0M550.2 188.9h0M550.7 189.8h0M550.2 181.2h0M545.8 185.5h0M551.9 177.6h0M546.5 194.7h0M549.9 177.5h0M545.6 189.3h0M548.7 188.9h0M549.9 181.9h0M548.1 194.4h0M551.2 186.5h0M551.8 187.2h0M549.9 179.2h0M549.8 175.2h0M549.5 182.1h0M549.5 192.1h0M547.3 184.4h0M549.5 185.3h0M545.4 183.3h0M551.4 183.2h0M550.4 195.0h0M547.3 191.5h0M549.6 182.7h0M550.8 185.2h0M546.3 189.7h0M550.8 187.2h0M550.5 187.7h0M546.0 189.6h0M550.1 192.3h0M548.7 191.8h0M549.1 169.8h0M551.9 189.1h0M551.9 187.2h0M550.3 192.4h0M552.2 192.5h0M548.2 194.2h0M549.7 195.1h0M552.0 190.7h0M551.6 190.8h0M552.2 194.2h0M547.2 182.6h0M551.5 176.0h0M550.6 195.1h0M551.9 195.0h0M551.6 182.3h0M549.7 165.9h0M549.0 183.0h0M551.1 185.2h0M547.9 193.7h0M549.0 181.1h0M548.8 193.8h0M550.2 191.8h0M550.8 187.5h0M549.3 193.7h0M551.7 189.0h0M545.8 192.9h0M550.0 190.6h0M551.5 193.2h0M548.9 195.2h0M552.1 193.6h0M548.1 174.0h0M548.0 194.9h0M548.5 194.6h0M548.9 183.6h0M548.7 193.6h0M547.0 176.9h0M551.7 191.8h0M547.4 192.3h0M546.8 181.9h0M551.9 163.7h0M551.4 192.8h0M550.0 188.0h0M550.3 178.4h0M547.1 192.1h0M552.1 182.7h0M549.9 193.2h0M549.5 184.7h0M546.7 186.1h0M549.2 173.3h0M548.1 194.7h0M548.4 191.8h0M548.7 173.1h0M551.4 192.7h0M551.6 191.9h0M550.0 186.9h0M551.3 193.6h0M550.6 189.7h0M550.6 193.9h0M546.6 182.4h0M549.4 183.6h0M552.3 187.8h0M547.2 176.4h0M551.8 192.8h0M552.1 172.0h0M548.0 165.9h0M551.3 192.3h0" stroke="#437db9" stroke-opacity="0.5" stroke-width="2.0" stroke-linecap="round" fill="none"/>
<path d="M531.1 187.5h0M528.6 182.1h0M525.5 190.1h0M529.4 178.7h0M524.8 192.9h0M525.3 190.9h0M527.5 193.7h0M527.1 181.8h0M530.6 193.6h0M531.6 192.5h0M528.0 194.3h0M529.1 187.4h0M529.6 184.3h0M527.8 191.8h0" stroke="#437db9" stroke-opacity="0.5" stroke-width="4.0" stroke-linecap="round" fill="none"/>
<path d="M523.3 194.6h0M519.2 194.3h0M522.7 179.0h0M525.0 191.1h0M525.4 191.1h0M526.1 195.2h0M519.9 193.0h0M522.8 194.2h0M524.6 185.0h0M525.2 189.2h0M521.9 173.6h0M516.6 192.8h0" stroke="#437db9" stroke-opacity="0.5" stroke-width="4.4" stroke-linecap="round" fill="none"/>
<path d="M521.3 191.8h0M522.4 186.2h0M519.0 188.6h0M514.5 189.0h0" stroke="#437db9" stroke-opacity="0.5" stroke-width="4.8" stroke-linecap="round" fill="none"/>
<path d="M552.2 188.1h0M551.5 163.3h0M550.8 173.4h0M552.3 173.7h0M552.1 176.2h0M551.1 187.5h0M552.3 192.0h0M550.0 194.7h0M550.7 193.0h0M550.1 192.1h0M550.6 175.1h0M550.6 193.4h0M551.5 189.1h0M551.9 180.6h0M550.3 188.7h0M552.0 192.7h0M552.2 189.7h0M551.8 161.3h0M551.4 187.9h0M550.6 185.1h0M549.5 180.0h0M551.6 194.7h0M551.6 190.1h0M550.2 184.0h0M550.3 190.6h0M550.8 189.4h0M551.0 190.3h0" stroke="#437db9" stroke-opacity="0.5" stroke-width="1.6" stroke-linecap="round" fill="none"/>
<path d="M532.7 181.6h0M533.5 192.4h0M532.0 189.4h0M535.3 192.5h0M536.1 194.0h0M532.2 191.4h0M534.5 186.4h0M534.0 194.1h0M536.6 187.5h0M532.0 193.3h0M527.9 191.1h0M532.7 191.5h0M534.8 190.2h0M533.3 195.1h0M535.5 191.5h0M529.7 182.5h0M530.8 174.3h0M535.4 189.5h0M531.4 195.1h0M534.9 186.6h0M533.1 190.6h0M530.0 185.5h0" stroke="#437db9" stroke-opacity="0.5" stroke-width="3.6" stroke-linecap="round" fill="none"/>
<path d="M516.2 190.6h0" stroke="#437db9" stroke-opacity="0.5" stroke-width="5.2" stroke-linecap="round" fill="none"/>
<path d="M501.6 194.3h0" stroke="#437db9" stroke-opacity="0.5" stroke-width="5.6" stroke-linecap="round" fill="none"/>
<path d="M513.5 193.0h0" stroke="#3b75b1" stroke-opacity="0.9" stroke-width="4.0" stroke-linecap="round" fill="none"/>
<path d="M525.0 118.5h0M526.0 140.0h0" stroke="#6b9acb" stroke-opacity="0.7" stroke-width="4.0" stroke-linecap="round" fill="none"/>
<path d="M540.0 113.0h0" stroke="#6b9acb" stroke-opacity="0.7" stroke-width="3.2" stroke-linecap="round" fill="none"/>
<path d="M535.0 128.0h0" stroke="#6b9acb" stroke-opacity="0.7" stroke-width="3.6" stroke-linecap="round" fill="none"/>
<path d="M529.2 157.3h0M538.8 142.4h0M528.1 164.3h0M521.9 151.6h0" stroke="#4a86c4" stroke-opacity="0.5" stroke-width="2.8" stroke-linecap="round" fill="none"/>
<path d="M523.1 147.5h0M537.7 130.8h0M522.6 144.1h0M541.6 143.2h0M544.5 144.4h0M529.7 142.7h0" stroke="#4a86c4" stroke-opacity="0.5" stroke-width="3.2" stroke-linecap="round" fill="none"/>
<path d="M539.1 167.1h0M536.0 164.7h0" stroke="#4a86c4" stroke-opacity="0.5" stroke-width="3.6" stroke-linecap="round" fill="none"/>
<path d="M566.5 176.9h0M568.2 188.7h0M566.0 194.4h0M574.0 193.0h0M573.8 193.0h0M574.9 191.5h0M570.4 192.8h0M569.5 193.5h0M571.5 191.8h0M570.1 179.9h0M565.6 185.1h0M565.7 195.1h0M567.5 185.4h0M565.8 189.5h0M569.0 195.1h0M575.4 188.0h0M571.1 179.7h0M569.9 175.2h0M571.1 189.5h0M567.7 193.4h0M566.5 184.0h0M572.5 193.2h0M569.4 193.1h0M572.7 185.8h0M572.1 188.3h0M569.2 188.8h0M572.1 182.4h0M570.9 194.0h0M571.6 184.0h0M572.9 191.2h0M573.4 191.2h0M570.6 186.0h0M565.9 191.5h0M565.7 190.9h0M568.2 192.0h0M571.1 183.0h0M574.5 177.0h0M569.3 194.3h0M565.7 192.9h0M568.6 193.0h0M566.7 194.4h0M568.7 193.5h0M567.9 192.9h0M569.9 191.8h0M568.1 195.1h0M567.0 194.8h0M565.7 191.2h0M570.2 189.4h0M572.7 194.6h0M566.0 182.0h0M567.8 194.0h0M566.0 190.2h0M571.9 194.5h0M567.6 193.6h0M569.1 192.7h0M567.5 194.4h0M571.1 194.8h0M567.0 186.5h0M564.4 182.0h0M564.7 187.9h0M566.0 178.2h0M567.0 190.8h0M571.1 194.0h0M572.7 191.3h0M569.1 195.0h0M571.0 193.4h0M571.5 191.3h0M571.1 194.4h0M566.0 184.6h0M565.3 179.6h0M565.1 181.9h0M570.5 187.7h0M569.4 187.8h0M571.3 193.5h0M572.2 191.3h0M571.2 194.1h0" stroke="#e2739b" stroke-opacity="0.5" stroke-width="2.4" stroke-linecap="round" fill="none"/>
<path d="M581.0 191.3h0M585.2 184.2h0M581.8 186.5h0M582.8 185.5h0M585.0 186.8h0M581.7 192.9h0M580.9 192.9h0M580.9 190.6h0M584.9 193.6h0M581.2 194.9h0M584.5 193.5h0" stroke="#e2739b" stroke-opacity="0.5" stroke-width="3.6" stroke-linecap="round" fill="none"/>
<path d="M576.2 191.7h0M573.1 184.1h0M576.4 190.6h0M578.7 192.2h0M575.1 192.4h0M573.7 194.9h0M570.4 189.9h0M568.7 181.6h0M574.3 189.4h0M577.4 194.8h0M576.1 189.5h0M577.5 186.4h0M573.3 191.0h0M573.4 183.6h0M573.0 194.3h0M572.6 193.6h0M574.4 193.6h0M574.5 192.1h0M572.2 191.8h0M572.8 188.8h0M574.2 184.6h0M569.8 193.6h0M569.4 192.4h0M571.4 195.0h0M576.2 188.5h0M569.6 175.5h0M569.0 186.7h0M574.4 191.7h0M572.4 188.0h0M570.9 195.0h0M577.6 194.1h0M570.1 194.6h0M574.8 189.9h0M577.3 190.0h0M577.0 186.0h0M576.2 190.8h0M573.0 177.1h0M575.6 192.3h0M572.3 186.7h0M571.6 190.0h0M579.2 194.1h0M571.1 192.9h0" stroke="#e2739b" stroke-opacity="0.5" stroke-width="2.8" stroke-linecap="round" fill="none"/>
<path d="M568.5 193.3h0M564.4 192.8h0M565.4 182.2h0M567.6 190.1h0M567.5 189.9h0M565.2 193.5h0M564.4 193.4h0M566.3 172.1h0M564.5 195.2h0M569.8 193.2h0M571.0 193.2h0M563.9 190.1h0M564.1 194.2h0M566.2 194.3h0M566.7 184.2h0M564.5 176.2h0M571.4 191.9h0M566.8 193.4h0M569.0 187.0h0M566.6 192.6h0M565.0 192.6h0M565.5 190.9h0M564.9 190.5h0M568.3 194.6h0M566.1 192.4h0M568.9 192.5h0M567.8 194.8h0M570.5 194.1h0M565.4 189.6h0M566.2 176.4h0M565.5 191.5h0M567.2 195.0h0M565.6 185.8h0M565.8 168.1h0M570.1 192.0h0M564.9 193.7h0M563.8 191.1h0M566.5 193.0h0M565.1 193.1h0M564.5 170.5h0M567.9 185.3h0M565.6 193.5h0M566.4 194.6h0M567.1 192.6h0M565.8 193.8h0M565.4 185.0h0M566.8 194.0h0M568.8 177.6h0M566.3 187.5h0M566.9 186.8h0M563.8 184.9h0M568.4 188.3h0M568.6 189.2h0M567.8 193.2h0M565.6 176.7h0M565.4 193.6h0M569.9 190.5h0M566.1 179.7h0M565.8 182.7h0M566.8 188.6h0M567.9 189.7h0M566.5 194.4h0M569.5 194.7h0M566.2 188.1h0M564.0 190.1h0M566.6 191.6h0M570.2 189.6h0M567.1 193.1h0M566.2 182.6h0M565.8 194.1h0M569.9 195.0h0M565.3 193.0h0M565.6 185.7h0M563.9 186.0h0M567.4 193.8h0M566.2 192.3h0M564.0 185.1h0M567.5 194.2h0M566.8 185.2h0M563.8 195.0h0" stroke="#e2739b" stroke-opacity="0.5" stroke-width="2.0" stroke-linecap="round" fill="none"/>
<path d="M563.8 182.6h0M565.7 192.5h0M563.9 188.9h0M563.7 189.2h0M564.0 191.6h0M563.6 190.4h0M564.2 187.2h0M564.0 193.0h0M564.9 184.4h0M563.7 189.7h0M565.6 191.8h0M564.2 182.8h0M564.1 190.5h0M563.7 183.2h0M564.3 193.1h0M564.0 176.6h0M564.3 193.9h0M565.1 194.7h0M564.0 184.7h0" stroke="#e2739b" stroke-opacity="0.5" stroke-width="1.6" stroke-linecap="round" fill="none"/>
<path d="M578.4 193.4h0M581.7 189.0h0M576.1 182.2h0M573.8 195.2h0M580.4 193.2h0M578.4 185.0h0M577.6 194.9h0M582.6 187.1h0M581.6 193.9h0M579.5 185.8h0M580.0 190.0h0M576.2 191.9h0M580.9 194.5h0M581.6 193.9h0M577.6 186.7h0M579.7 189.4h0M575.7 183.8h0M575.7 193.6h0" stroke="#e2739b" stroke-opacity="0.5" stroke-width="3.2" stroke-linecap="round" fill="none"/>
<path d="M584.4 191.1h0M586.8 190.0h0M592.2 195.0h0" stroke="#e2739b" stroke-opacity="0.5" stroke-width="4.0" stroke-linecap="round" fill="none"/>
<path d="M586.7 169.3h0M577.3 151.4h0" stroke="#e2739b" stroke-opacity="0.45" stroke-width="2.8" stroke-linecap="round" fill="none"/>
<path d="M570.0 155.5h0M565.3 167.3h0" stroke="#e2739b" stroke-opacity="0.45" stroke-width="2.4" stroke-linecap="round" fill="none"/>
<path d="M577.2 138.7h0M582.9 166.3h0" stroke="#e2739b" stroke-opacity="0.55" stroke-width="3.2" stroke-linecap="round" fill="none"/>
<path d="M570.2 144.0h0" stroke="#e2739b" stroke-opacity="0.55" stroke-width="2.8" stroke-linecap="round" fill="none"/>
<path d="M602.3 192.0h0" stroke="#e2739b" stroke-opacity="0.8" stroke-width="4.0" stroke-linecap="round" fill="none"/>
<path d="M557.4 196.7h0M560.5 194.2h0M556.4 196.4h0M553.7 194.3h0M561.1 190.4h0M561.7 196.0h0M554.5 197.0h0M556.6 196.9h0M560.5 196.3h0M560.6 194.3h0M560.9 195.3h0M555.9 196.5h0M561.6 190.0h0M557.3 196.9h0M558.7 196.5h0M562.3 191.1h0M553.3 197.0h0M555.6 194.8h0M560.9 196.2h0M558.4 196.0h0M554.0 197.0h0M557.0 195.7h0M559.1 195.3h0M562.6 183.9h0M554.6 195.8h0M557.4 196.7h0M557.7 195.5h0M553.8 189.5h0M555.2 194.6h0M555.3 195.2h0M558.7 195.5h0M557.7 195.6h0M560.2 193.5h0M553.1 189.3h0M555.5 195.8h0M559.6 196.8h0M559.9 195.7h0M558.0 195.6h0M556.8 196.4h0M560.5 196.6h0M556.1 194.5h0M562.6 196.1h0M559.8 196.2h0M558.8 196.7h0M562.8 181.9h0M558.8 196.7h0M558.0 197.0h0M552.8 195.8h0M560.0 195.2h0M556.2 194.8h0M559.9 196.1h0M558.4 195.7h0M562.9 194.1h0M555.9 194.8h0" stroke="#c8c8c8" stroke-opacity="0.6" stroke-width="2.0" stroke-linecap="round" fill="none"/>
<path d="M560.4 193.5h0M558.6 196.2h0M553.8 188.9h0M555.3 193.4h0M556.3 196.8h0M560.2 196.8h0M557.3 195.4h0M560.7 195.1h0M553.0 192.5h0M559.1 195.5h0M553.9 197.0h0M556.3 194.3h0M555.0 194.5h0M558.9 195.7h0M556.7 196.8h0M562.2 192.9h0M561.9 188.1h0M554.8 194.4h0M554.9 194.3h0M557.4 196.6h0M558.0 196.4h0M554.8 195.4h0M562.4 193.7h0M556.4 195.1h0M557.6 196.9h0M562.1 193.2h0M556.8 195.0h0M558.1 196.9h0M557.6 196.2h0M561.8 191.3h0M559.0 197.0h0M553.7 192.1h0M559.7 195.2h0M561.9 189.6h0M560.2 195.5h0M562.0 196.7h0M553.4 186.5h0M553.3 194.3h0M553.1 189.4h0M557.0 195.8h0M562.3 195.3h0M558.1 196.8h0M556.1 196.9h0M556.8 196.1h0M561.5 193.9h0M558.4 195.7h0M557.7 195.8h0M562.9 195.2h0M562.3 190.6h0M558.3 196.1h0" stroke="#c8c8c8" stroke-opacity="0.6" stroke-width="1.6" stroke-linecap="round" fill="none"/>
<path d="M533.2 197.5h0M538.4 196.8h0M525.7 197.4h0M524.2 197.2h0M550.2 196.8h0M519.8 197.1h0M544.1 197.2h0M547.0 197.6h0M538.9 196.1h0M547.6 196.7h0M528.9 197.4h0M525.9 196.3h0M521.4 197.5h0M564.6 197.0h0M584.1 196.5h0M578.5 197.0h0M597.7 196.8h0M577.8 196.7h0M597.8 196.6h0M572.4 197.3h0M576.2 197.5h0M571.0 196.9h0M573.6 195.9h0M585.0 197.6h0" stroke="#c4c4c4" stroke-opacity="0.5" stroke-width="2.4" stroke-linecap="round" fill="none"/>
<path d="M526.9 196.2h0M524.9 196.8h0M532.6 195.8h0M519.6 196.4h0M521.6 196.7h0M535.4 195.9h0M589.6 197.0h0M566.3 197.2h0M578.5 195.8h0M576.0 197.1h0M582.5 196.8h0M590.9 196.7h0M590.2 196.8h0" stroke="#c4c4c4" stroke-opacity="0.5" stroke-width="1.6" stroke-linecap="round" fill="none"/>
<path d="M524.6 196.9h0M540.8 197.0h0M549.5 196.5h0M536.5 197.0h0M546.4 196.0h0M533.6 195.8h0M534.7 196.3h0M540.2 196.0h0M515.3 196.2h0M518.7 197.1h0M577.6 196.2h0M587.5 197.2h0M566.4 196.7h0M593.1 197.1h0M586.6 196.4h0M563.5 197.1h0M572.9 197.2h0M599.2 196.2h0M590.6 196.9h0" stroke="#c4c4c4" stroke-opacity="0.5" stroke-width="2.0" stroke-linecap="round" fill="none"/>
<path d="M544.1 191.9h0M547.7 186.3h0M542.6 189.4h0M550.6 193.5h0M540.0 188.8h0M548.7 195.2h0M549.1 177.0h0M544.4 185.1h0M548.3 191.4h0M545.7 179.0h0M549.8 193.8h0M546.9 178.8h0M545.2 178.0h0M550.1 189.3h0M551.3 195.0h0M546.9 187.4h0M547.4 179.1h0M547.7 187.6h0M543.9 191.4h0M544.8 188.8h0M543.8 185.3h0M544.1 192.5h0M547.1 184.0h0M543.3 180.9h0M548.3 186.4h0M544.2 181.1h0M546.2 178.2h0M541.7 187.8h0M546.5 189.8h0M546.0 191.3h0M546.1 192.4h0M546.7 174.5h0M546.1 171.3h0M544.0 191.2h0M548.6 191.7h0M549.7 193.0h0M547.7 192.6h0M549.5 192.5h0M545.6 187.6h0M544.1 166.6h0M543.9 172.9h0M546.9 193.8h0M545.1 193.3h0M542.8 161.9h0M547.6 194.5h0M540.3 190.3h0M547.6 183.7h0M546.2 178.6h0M548.6 187.1h0M546.7 185.4h0M545.1 172.8h0M551.3 193.3h0M547.4 192.7h0M542.9 188.6h0M548.6 184.3h0M545.8 177.1h0M544.7 193.0h0M544.8 191.9h0M550.3 184.7h0M542.8 192.3h0M547.6 194.9h0M549.4 191.2h0M547.6 185.2h0M547.6 168.9h0M549.0 182.9h0M545.6 183.5h0M543.7 143.5h0M546.0 195.1h0M545.3 187.7h0M543.0 179.5h0M550.5 177.5h0M548.9 187.4h0M549.8 180.1h0M550.4 192.0h0M545.4 185.2h0M549.5 184.4h0M548.4 177.6h0M542.7 181.9h0M547.9 193.1h0M549.1 188.6h0M542.8 185.6h0M545.1 184.6h0M547.9 194.1h0M551.5 179.6h0M542.2 193.9h0M547.2 177.0h0M546.8 161.1h0M540.2 190.6h0M547.3 193.2h0M549.3 195.2h0M545.8 189.0h0M546.9 194.8h0M543.6 167.8h0M547.1 181.0h0M549.2 190.0h0" stroke="#437db9" stroke-opacity="0.5" stroke-width="2.4" stroke-linecap="round" fill="none"/>
<path d="M540.5 188.9h0M535.5 188.7h0M536.9 185.6h0M541.0 191.7h0M537.6 180.7h0M536.9 190.5h0M537.3 179.2h0M533.0 188.5h0M538.5 192.1h0M535.3 175.7h0M538.3 176.6h0M540.0 186.9h0M541.5 195.2h0M537.6 186.5h0M536.8 194.5h0M534.2 192.7h0M538.2 188.2h0M539.9 187.6h0M536.7 191.1h0M539.6 161.8h0M538.2 180.0h0M541.7 175.1h0M538.6 190.4h0M537.1 194.8h0M537.3 191.5h0M534.2 193.0h0M533.0 185.2h0M537.6 194.5h0M538.6 189.1h0M538.4 181.0h0M540.2 194.9h0M535.7 194.3h0" stroke="#437db9" stroke-opacity="0.5" stroke-width="3.2" stroke-linecap="round" fill="none"/>
<path d="M544.5 187.9h0M543.1 184.1h0M539.2 181.5h0M545.2 188.9h0M544.1 185.3h0M539.8 192.8h0M542.3 194.7h0M546.0 188.4h0M536.5 193.2h0M540.2 194.3h0M538.9 190.9h0M542.6 179.7h0M538.7 192.0h0M543.9 194.7h0M543.7 192.2h0M540.1 189.8h0M540.0 178.1h0M543.4 182.9h0M542.7 190.0h0M541.5 174.6h0M542.2 161.3h0M538.4 191.1h0M542.6 184.8h0M538.8 194.3h0M544.9 178.1h0M540.8 167.9h0M545.3 192.6h0M538.2 188.9h0M543.7 167.2h0M542.1 194.3h0M538.4 192.5h0M543.5 186.0h0M541.3 171.9h0M543.0 191.2h0M541.9 193.4h0M538.7 173.1h0M541.8 191.7h0M545.4 189.9h0M542.6 186.1h0M540.5 168.8h0M538.7 195.1h0M539.5 191.6h0M538.7 181.3h0M539.0 180.2h0M543.1 169.4h0M544.0 185.6h0M544.5 193.6h0M535.7 191.8h0M539.4 194.2h0M538.3 189.1h0M538.6 194.5h0M539.9 190.3h0M536.2 183.3h0M543.7 171.4h0M546.5 186.5h0M541.7 185.4h0M542.1 187.6h0M541.2 193.7h0M544.4 194.0h0M539.2 185.3h0M536.6 183.8h0M545.5 188.7h0M541.8 191.0h0M540.0 190.3h0M540.9 191.0h0M546.4 193.4h0M544.2 190.5h0" stroke="#437db9" stroke-opacity="0.5" stroke-width="2.8" stroke-linecap="round" fill="none"/>
<path d="M550.8 195.0h0M548.8 169.7h0M546.3 185.4h0M548.4 184.4h0M552.3 191.0h0M548.2 192.5h0M546.7 178.0h0M551.4 187.5h0M551.7 193.6h0M551.8 192.8h0M551.7 189.0h0M551.8 193.8h0M550.5 181.5h0M552.1 193.5h0M549.5 195.1h0M550.4 191.2h0M550.5 187.0h0M544.9 173.0h0M551.8 174.3h0M552.0 186.8h0M550.6 193.9h0M551.6 183.6h0M549.0 190.3h0M549.2 181.0h0M549.2 188.8h0M547.2 183.4h0M549.0 175.8h0M551.1 183.5h0M546.8 174.9h0M548.8 175.5h0M550.3 192.8h0M547.5 193.3h0M551.7 192.9h0M551.8 194.7h0M551.5 176.1h0M550.8 192.6h0M548.4 182.4h0M550.5 189.1h0M551.3 176.0h0M551.3 188.6h0M551.4 192.0h0M551.4 190.4h0M551.5 171.9h0M550.2 194.2h0M551.7 189.5h0M546.4 190.7h0M549.8 174.2h0M551.9 157.3h0M552.2 191.1h0M551.3 194.1h0M549.5 188.1h0M549.2 194.0h0M549.5 193.9h0M547.0 189.3h0M547.7 179.5h0M549.5 190.1h0M546.2 191.5h0M549.3 189.2h0M547.1 193.7h0M551.2 188.9h0M545.9 190.2h0M545.2 191.8h0M550.9 182.1h0M550.6 193.0h0M551.4 189.4h0M549.8 185.6h0M548.7 184.3h0M548.4 188.1h0M546.2 187.2h0M551.1 191.8h0M551.3 175.8h0M549.8 194.4h0M545.0 191.3h0M545.5 168.8h0M550.5 192.7h0M550.3 179.9h0M546.6 191.5h0M550.4 169.3h0M547.5 179.8h0M549.9 193.5h0M547.0 183.0h0M552.0 183.6h0M551.7 192.4h0M546.4 182.3h0M550.0 192.0h0M549.3 177.1h0M550.4 191.6h0M548.2 183.7h0M550.5 193.1h0M551.2 184.7h0M549.0 175.1h0M549.3 191.4h0M548.6 190.1h0M550.5 188.2h0M550.6 186.2h0M549.9 190.6h0M547.7 186.2h0" stroke="#437db9" stroke-opacity="0.5" stroke-width="2.0" stroke-linecap="round" fill="none"/>
<path d="M527.9 193.7h0M527.1 192.9h0M528.8 179.6h0M525.2 192.7h0M527.4 179.8h0M529.5 190.7h0M526.2 186.2h0M531.6 185.0h0M528.2 189.8h0M526.0 181.0h0M528.7 191.3h0M528.6 182.1h0M526.9 185.6h0M528.4 194.5h0" stroke="#437db9" stroke-opacity="0.5" stroke-width="4.0" stroke-linecap="round" fill="none"/>
<path d="M528.0 190.6h0M522.1 194.1h0M525.9 189.8h0M523.1 186.7h0M526.6 192.2h0M520.6 192.1h0M526.8 187.7h0M523.8 194.7h0M526.3 187.9h0M525.3 188.9h0M519.3 190.1h0" stroke="#437db9" stroke-opacity="0.5" stroke-width="4.4" stroke-linecap="round" fill="none"/>
<path d="M519.1 181.6h0M519.9 189.2h0M519.1 191.6h0" stroke="#437db9" stroke-opacity="0.5" stroke-width="4.8" stroke-linecap="round" fill="none"/>
<path d="M551.8 184.7h0M551.8 173.4h0M550.1 175.4h0M551.1 192.0h0M550.5 192.7h0M551.3 192.0h0M551.2 186.8h0M551.7 182.1h0M551.5 173.2h0M551.4 183.6h0M551.8 191.8h0M551.6 192.8h0M552.1 194.7h0M551.6 195.1h0M551.9 165.5h0M550.7 174.9h0M550.5 193.0h0M550.9 183.7h0M551.2 188.6h0M552.1 172.2h0M550.8 190.3h0M551.8 185.6h0M551.9 185.0h0M550.6 189.4h0M551.7 183.4h0M550.6 195.1h0M551.2 179.6h0" stroke="#437db9" stroke-opacity="0.5" stroke-width="1.6" stroke-linecap="round" fill="none"/>
<path d="M527.5 186.6h0M527.8 191.5h0M528.7 191.5h0M537.5 187.7h0M530.0 194.3h0M533.8 188.2h0M534.2 193.8h0M535.7 177.5h0M534.2 189.5h0M532.9 170.9h0M532.6 180.6h0M533.2 179.7h0M536.9 179.8h0M529.1 191.6h0M534.1 170.9h0M533.7 194.2h0M534.5 188.1h0M536.0 194.8h0M534.8 194.2h0M536.5 192.9h0M535.9 183.0h0M531.0 194.4h0" stroke="#437db9" stroke-opacity="0.5" stroke-width="3.6" stroke-linecap="round" fill="none"/>
<path d="M504.6 193.7h0" stroke="#437db9" stroke-opacity="0.5" stroke-width="5.6" stroke-linecap="round" fill="none"/>
<path d="M529.0 127.0h0M530.0 150.0h0" stroke="#6b9acb" stroke-opacity="0.7" stroke-width="4.0" stroke-linecap="round" fill="none"/>
<path d="M538.0 135.0h0" stroke="#6b9acb" stroke-opacity="0.7" stroke-width="3.6" stroke-linecap="round" fill="none"/>
<path d="M547.1 136.7h0M541.9 166.5h0M524.3 165.4h0M516.6 159.1h0" stroke="#4a86c4" stroke-opacity="0.5" stroke-width="2.8" stroke-linecap="round" fill="none"/>
<path d="M531.1 163.7h0M547.9 149.5h0M528.6 154.7h0M544.0 155.1h0M539.0 131.3h0M534.2 153.4h0" stroke="#4a86c4" stroke-opacity="0.5" stroke-width="3.2" stroke-linecap="round" fill="none"/>
<path d="M545.0 166.9h0M533.8 126.5h0" stroke="#4a86c4" stroke-opacity="0.5" stroke-width="3.6" stroke-linecap="round" fill="none"/>
<path d="M573.0 194.3h0M571.4 191.6h0M573.7 189.7h0M567.1 185.4h0M568.6 194.3h0M564.9 194.1h0M567.8 176.2h0M568.1 193.2h0M570.8 194.1h0M572.0 177.2h0M566.5 192.2h0M570.2 192.3h0M565.8 194.3h0M569.1 192.7h0M568.2 187.3h0M567.9 171.4h0M569.3 191.3h0M570.3 186.5h0M567.0 192.8h0M571.7 185.8h0M569.7 190.2h0M573.3 176.3h0M566.2 194.6h0M571.8 187.9h0M568.1 183.0h0M571.5 194.5h0M570.0 194.4h0M570.5 193.8h0M570.7 192.0h0M567.7 193.7h0M569.0 189.7h0M565.6 194.3h0M572.3 193.4h0M567.6 193.7h0M569.4 191.1h0M568.2 192.9h0M567.9 179.0h0M571.2 190.1h0M568.7 178.7h0M572.4 189.2h0M568.5 188.4h0M570.0 188.1h0M570.0 188.5h0M571.6 195.1h0M564.6 182.1h0M569.0 192.3h0M569.1 195.2h0M569.7 186.2h0M566.6 191.9h0M567.1 192.0h0M570.1 181.7h0M566.4 188.1h0M574.3 183.4h0M567.2 192.4h0M566.9 183.4h0M566.5 192.1h0M569.1 189.1h0M568.4 177.8h0M568.8 190.5h0M565.6 175.2h0M565.6 193.6h0M565.9 188.3h0M567.9 192.2h0M566.3 195.2h0M568.6 175.0h0M568.1 194.5h0M572.1 192.8h0M568.6 192.6h0M568.1 176.5h0M573.2 180.2h0M571.0 187.2h0M567.4 194.9h0M573.1 193.5h0M568.9 193.4h0M571.7 189.9h0" stroke="#e2739b" stroke-opacity="0.5" stroke-width="2.4" stroke-linecap="round" fill="none"/>
<path d="M580.9 190.9h0M580.2 195.2h0M585.1 194.2h0M581.1 192.9h0M585.0 188.4h0M579.0 194.0h0M586.8 192.1h0M587.3 190.9h0M583.8 185.3h0M583.7 187.4h0" stroke="#e2739b" stroke-opacity="0.5" stroke-width="3.6" stroke-linecap="round" fill="none"/>
<path d="M573.6 191.5h0M575.8 187.9h0M574.8 190.6h0M574.0 192.8h0M571.8 194.6h0M573.2 182.2h0M575.2 183.9h0M572.9 186.0h0M578.9 188.8h0M574.6 183.5h0M573.0 193.9h0M576.1 187.5h0M573.5 178.6h0M575.7 187.5h0M576.4 193.7h0M574.7 180.3h0M571.7 194.5h0M575.2 179.1h0M578.5 195.0h0M574.0 184.2h0M577.3 181.1h0M576.1 186.8h0M573.5 192.7h0M576.6 193.3h0M570.8 187.7h0M577.4 192.8h0M573.3 183.7h0M571.7 193.8h0M576.8 186.7h0M569.5 184.2h0M574.0 184.9h0M577.4 192.8h0M573.1 194.6h0M575.0 185.4h0M573.8 191.3h0M571.2 191.5h0M570.2 192.4h0M570.0 188.4h0M573.1 183.9h0M574.2 184.3h0M573.4 192.7h0" stroke="#e2739b" stroke-opacity="0.5" stroke-width="2.8" stroke-linecap="round" fill="none"/>
<path d="M565.9 192.7h0M565.8 192.9h0M567.7 185.4h0M569.2 183.4h0M566.0 193.1h0M565.9 192.9h0M564.3 193.5h0M564.0 187.7h0M566.0 193.8h0M568.1 194.0h0M570.4 194.1h0M565.8 188.7h0M563.6 192.5h0M563.8 194.6h0M564.7 193.8h0M566.0 189.2h0M566.7 187.3h0M564.4 193.9h0M569.5 183.0h0M564.2 184.5h0M567.1 189.1h0M563.8 181.4h0M564.5 179.0h0M566.2 184.8h0M566.9 187.2h0M566.0 183.6h0M564.6 188.1h0M566.7 192.2h0M565.6 187.8h0M566.9 193.1h0M565.0 192.4h0M565.7 192.9h0M570.2 190.8h0M564.1 194.9h0M564.0 194.0h0M565.7 188.4h0M564.7 192.2h0M566.3 193.8h0M564.7 194.5h0M564.5 195.1h0M563.7 192.4h0M563.9 192.7h0M565.9 194.4h0M564.2 188.5h0M564.7 187.7h0M566.8 186.1h0M563.8 172.5h0M563.7 192.8h0M565.0 173.9h0M569.2 194.3h0M566.4 192.5h0M566.9 182.4h0M564.1 190.8h0M566.6 194.8h0M565.8 190.1h0M569.1 193.4h0M563.9 190.7h0M565.1 181.9h0M565.9 186.3h0M563.8 195.0h0M565.1 193.8h0M567.1 190.2h0M565.7 194.9h0M567.6 185.7h0M564.4 192.0h0M565.6 193.1h0M564.4 191.5h0M564.3 192.9h0M565.2 187.4h0M566.3 193.1h0M564.8 190.5h0M567.2 191.2h0M568.2 183.2h0M566.2 176.8h0M568.2 193.7h0M563.8 183.6h0M566.5 185.2h0M564.5 191.2h0M569.8 194.3h0M569.6 187.8h0" stroke="#e2739b" stroke-opacity="0.5" stroke-width="2.0" stroke-linecap="round" fill="none"/>
<path d="M564.4 191.6h0M564.0 166.7h0M563.9 193.1h0M563.8 191.9h0M564.5 192.1h0M564.1 194.0h0M565.0 193.1h0M566.5 191.6h0M565.1 190.3h0M563.9 192.5h0M564.2 193.5h0M566.8 180.7h0M566.6 188.9h0M566.0 193.5h0M565.4 178.0h0M563.8 184.0h0M564.4 187.6h0M563.9 172.9h0M565.1 192.1h0" stroke="#e2739b" stroke-opacity="0.5" stroke-width="1.6" stroke-linecap="round" fill="none"/>
<path d="M575.0 189.1h0M579.9 189.5h0M577.3 189.8h0M574.4 191.5h0M575.9 178.0h0M575.0 194.6h0M575.6 192.1h0M575.9 183.7h0M581.3 194.6h0M577.6 185.0h0M576.5 188.2h0M580.9 188.6h0M577.8 189.4h0M579.9 187.6h0M580.5 191.3h0M578.0 192.9h0M579.5 188.2h0M576.7 184.3h0" stroke="#e2739b" stroke-opacity="0.5" stroke-width="3.2" stroke-linecap="round" fill="none"/>
<path d="M585.7 192.7h0M586.8 192.5h0M587.2 188.4h0" stroke="#e2739b" stroke-opacity="0.5" stroke-width="4.0" stroke-linecap="round" fill="none"/>
<path d="M576.4 156.3h0M567.1 144.6h0" stroke="#e2739b" stroke-opacity="0.45" stroke-width="2.8" stroke-linecap="round" fill="none"/>
<path d="M571.6 141.8h0M579.0 168.3h0" stroke="#e2739b" stroke-opacity="0.45" stroke-width="2.4" stroke-linecap="round" fill="none"/>
<path d="M571.9 158.0h0" stroke="#e2739b" stroke-opacity="0.55" stroke-width="3.2" stroke-linecap="round" fill="none"/>
<path d="M605.0 191.5h0" stroke="#e2739b" stroke-opacity="0.8" stroke-width="4.0" stroke-linecap="round" fill="none"/>
<text x="520.0" y="44.8" font-size="6" fill="#c4c4c4" text-anchor="start" font-weight="normal" font-family="Liberation Sans, sans-serif" >CYP4</text>
<text x="543.2" y="44.8" font-size="6" fill="#c4c4c4" text-anchor="start" font-weight="normal" font-family="Liberation Sans, sans-serif" >FOSL2</text>
<text x="575.0" y="52.8" font-size="6" fill="#c4c4c4" text-anchor="start" font-weight="normal" font-family="Liberation Sans, sans-serif" >KCNMA1</text>
<text x="518.8" y="63.8" font-size="6" fill="#c4c4c4" text-anchor="start" font-weight="normal" font-family="Liberation Sans, sans-serif" >TDRD3</text>
<text x="512.7" y="77.2" font-size="6" fill="#c4c4c4" text-anchor="start" font-weight="normal" font-family="Liberation Sans, sans-serif" >SLC9B2</text>
<text x="516.0" y="91.7" font-size="6" fill="#c4c4c4" text-anchor="start" font-weight="normal" font-family="Liberation Sans, sans-serif" >ITGB3</text>
<text x="553.0" y="91.7" font-size="6" fill="#c4c4c4" text-anchor="start" font-weight="normal" font-family="Liberation Sans, sans-serif" >C15</text>
<text x="519.6" y="101.8" font-size="6" fill="#c4c4c4" text-anchor="start" font-weight="normal" font-family="Liberation Sans, sans-serif" >RAB38</text>
<text x="537.6" y="108.5" font-size="6" fill="#c4c4c4" text-anchor="start" font-weight="normal" font-family="Liberation Sans, sans-serif" >KIAA0040</text>
<text x="512.0" y="116.0" font-size="6" fill="#c4c4c4" text-anchor="start" font-weight="normal" font-family="Liberation Sans, sans-serif" >WWC1</text>
<text x="534.4" y="118.7" font-size="6" fill="#c4c4c4" text-anchor="start" font-weight="normal" font-family="Liberation Sans, sans-serif" >CD109</text>
<text x="561.7" y="123.8" font-size="6" fill="#c4c4c4" text-anchor="start" font-weight="normal" font-family="Liberation Sans, sans-serif" >SIGLEC16</text>
<text x="548.3" y="130.8" font-size="6" fill="#c4c4c4" text-anchor="start" font-weight="normal" font-family="Liberation Sans, sans-serif" >SIGLEC10</text>
<text x="580.5" y="130.8" font-size="6" fill="#c4c4c4" text-anchor="start" font-weight="normal" font-family="Liberation Sans, sans-serif" >TMEM26</text>
<text x="558.0" y="138.8" font-size="6" fill="#c4c4c4" text-anchor="start" font-weight="normal" font-family="Liberation Sans, sans-serif" >CCL2</text>
<text x="576.0" y="144.7" font-size="6" fill="#c4c4c4" text-anchor="start" font-weight="normal" font-family="Liberation Sans, sans-serif" >CPAMD8</text>
<text x="575.0" y="154.6" font-size="6" fill="#c4c4c4" text-anchor="start" font-weight="normal" font-family="Liberation Sans, sans-serif" >GAL3ST4</text>
<text x="587.0" y="166.2" font-size="6" fill="#c4c4c4" text-anchor="start" font-weight="normal" font-family="Liberation Sans, sans-serif" >HLA-DQB2</text>
<text x="578.6" y="173.2" font-size="6" fill="#c4c4c4" text-anchor="start" font-weight="normal" font-family="Liberation Sans, sans-serif" >EYA2</text>
<text x="510.8" y="47.0" font-size="8.1" fill="#000" text-anchor="start" font-weight="normal" font-family="Liberation Sans, sans-serif" stroke="#000" stroke-width="0.15">CTSK</text>
<text x="535.0" y="93.8" font-size="8.1" fill="#000" text-anchor="start" font-weight="normal" font-family="Liberation Sans, sans-serif" stroke="#000" stroke-width="0.15">ACP5</text>
<text x="535.0" y="127.0" font-size="8.1" fill="#000" text-anchor="start" font-weight="normal" font-family="Liberation Sans, sans-serif" stroke="#000" stroke-width="0.15">NFATC1</text>
<text x="535.0" y="172.6" font-size="8.1" fill="#000" text-anchor="start" font-weight="normal" font-family="Liberation Sans, sans-serif" stroke="#000" stroke-width="0.15">MMP9</text>
<text x="529.6" y="189.5" font-size="8.1" fill="#000" text-anchor="start" font-weight="normal" font-family="Liberation Sans, sans-serif" stroke="#000" stroke-width="0.15">CALCR</text>
<text x="561.0" y="201.6" font-size="8.1" fill="#000" text-anchor="start" font-weight="normal" font-family="Liberation Sans, sans-serif" stroke="#000" stroke-width="0.15">RANK</text>
<clipPath id="cl189_287"><ellipse cx="189.9" cy="287.6" rx="37.5" ry="32.9"/></clipPath>
<ellipse cx="189.9" cy="287.6" rx="37.5" ry="32.9" fill="#7ce79f"/>
<ellipse cx="240.5" cy="286.4" rx="45.4" ry="41.6" fill="#b5e61d"/>
<ellipse cx="240.5" cy="286.4" rx="45.4" ry="41.6" fill="#22b14c" clip-path="url(#cl189_287)"/>
<ellipse cx="189.9" cy="287.6" rx="36.9" ry="32.3" fill="none" stroke="#000" stroke-width="1.4"/>
<ellipse cx="240.5" cy="286.4" rx="44.8" ry="41.0" fill="none" stroke="#000" stroke-width="1.4"/>
<path d="M526.0 40.5h0" stroke="#3b6fa8" stroke-opacity="0.9" stroke-width="4.0" stroke-linecap="round" fill="none"/>
<path d="M541.6 95.9h0" stroke="#3b75b1" stroke-opacity="0.8" stroke-width="3.2" stroke-linecap="round" fill="none"/>
<path d="M526.0 40.5h0M547.0 192.5h0" stroke="#000" stroke-opacity="1.0" stroke-width="1.6" stroke-linecap="round" fill="none"/>
<path d="M541.6 95.9h0M556.0 194.5h0" stroke="#000" stroke-opacity="1.0" stroke-width="1.6" stroke-linecap="round" fill="none"/>
<path d="M545.9 129.4h0" stroke="#000" stroke-opacity="1.0" stroke-width="1.6" stroke-linecap="round" fill="none"/>
<path d="M542.0 175.0h0" stroke="#000" stroke-opacity="1.0" stroke-width="1.6" stroke-linecap="round" fill="none"/>
<text x="177.2" y="291.4" font-size="12.9" fill="#2a2a18" text-anchor="middle" font-weight="normal" font-family="Liberation Serif, sans-serif" >8</text>
<text x="212.0" y="291.4" font-size="12.9" fill="#2a2a18" text-anchor="middle" font-weight="normal" font-family="Liberation Serif, sans-serif" >147</text>
<text x="254.6" y="291.4" font-size="12.9" fill="#2a2a18" text-anchor="middle" font-weight="normal" font-family="Liberation Serif, sans-serif" >2350</text>
<text transform="translate(167.9,249.6) rotate(-21)" y="4.39" font-size="12.2" fill="#000" text-anchor="middle" font-family="Liberation Sans, sans-serif">PD-L1</text>
<text transform="translate(275.5,241.7) rotate(28)" y="4.64" font-size="12.9" fill="#000" text-anchor="middle" font-family="Liberation Sans, sans-serif">Nivolumab</text>
<clipPath id="cl392_284"><ellipse cx="392.1" cy="284.9" rx="37.7" ry="32.6"/></clipPath>
<ellipse cx="392.1" cy="284.9" rx="37.7" ry="32.6" fill="#7ce79f"/>
<ellipse cx="443" cy="283.6" rx="45.4" ry="41.8" fill="#b5e61d"/>
<ellipse cx="443" cy="283.6" rx="45.4" ry="41.8" fill="#22b14c" clip-path="url(#cl392_284)"/>
<ellipse cx="392.1" cy="284.9" rx="37.1" ry="32.0" fill="none" stroke="#000" stroke-width="1.4"/>
<ellipse cx="443" cy="283.6" rx="44.8" ry="41.199999999999996" fill="none" stroke="#000" stroke-width="1.4"/>
<text x="379.7" y="288.9" font-size="12.9" fill="#2a2a18" text-anchor="middle" font-weight="normal" font-family="Liberation Serif, sans-serif" >2</text>
<text x="413.4" y="288.9" font-size="12.9" fill="#2a2a18" text-anchor="middle" font-weight="normal" font-family="Liberation Serif, sans-serif" >26</text>
<text x="453.6" y="288.9" font-size="12.9" fill="#2a2a18" text-anchor="middle" font-weight="normal" font-family="Liberation Serif, sans-serif" >958</text>
<text transform="translate(372.9,246.0) rotate(-21)" y="4.39" font-size="12.2" fill="#000" text-anchor="middle" font-family="Liberation Sans, sans-serif">PD-L1</text>
<text transform="translate(479.0,241.0) rotate(28)" y="4.64" font-size="12.9" fill="#000" text-anchor="middle" font-family="Liberation Sans, sans-serif">Nivolumab</text>
<clipPath id="cl512_443"><ellipse cx="512.7" cy="443.8" rx="39.4" ry="35"/></clipPath>
<ellipse cx="512.7" cy="443.8" rx="39.4" ry="35" fill="#fff200"/>
<ellipse cx="567.1" cy="444.9" rx="48.3" ry="40.2" fill="#efe4b0"/>
<ellipse cx="567.1" cy="444.9" rx="48.3" ry="40.2" fill="#ff7f27" clip-path="url(#cl512_443)"/>
<ellipse cx="512.7" cy="443.8" rx="38.8" ry="34.4" fill="none" stroke="#000" stroke-width="1.4"/>
<ellipse cx="567.1" cy="444.9" rx="47.699999999999996" ry="39.6" fill="none" stroke="#000" stroke-width="1.4"/>
<text x="498.8" y="449.1" font-size="14" fill="#2a2a18" text-anchor="middle" font-weight="normal" font-family="Liberation Serif, sans-serif" >12</text>
<text x="534.9" y="449.1" font-size="14" fill="#2a2a18" text-anchor="middle" font-weight="normal" font-family="Liberation Serif, sans-serif" >35</text>
<text x="578.4" y="449.1" font-size="14" fill="#2a2a18" text-anchor="middle" font-weight="normal" font-family="Liberation Serif, sans-serif" >272</text>
<text transform="translate(491.6,399.1) rotate(-21)" y="4.39" font-size="12.2" fill="#000" text-anchor="middle" font-family="Liberation Sans, sans-serif">PD-L1</text>
<text transform="translate(604.2,398.8) rotate(28)" y="4.64" font-size="12.9" fill="#000" text-anchor="middle" font-family="Liberation Sans, sans-serif">Nivolumab</text>
<clipPath id="cl517_597"><ellipse cx="517.8" cy="597.4" rx="48.1" ry="41.3"/></clipPath>
<ellipse cx="517.8" cy="597.4" rx="48.1" ry="41.3" fill="#fff200"/>
<ellipse cx="573" cy="597.7" rx="40.4" ry="34.7" fill="#efe4b0"/>
<ellipse cx="573" cy="597.7" rx="40.4" ry="34.7" fill="#ff7f27" clip-path="url(#cl517_597)"/>
<ellipse cx="517.8" cy="597.4" rx="47.5" ry="40.699999999999996" fill="none" stroke="#000" stroke-width="1.4"/>
<ellipse cx="573" cy="597.7" rx="39.8" ry="34.1" fill="none" stroke="#000" stroke-width="1.4"/>
<text x="505.8" y="603.0" font-size="14" fill="#2a2a18" text-anchor="middle" font-weight="normal" font-family="Liberation Serif, sans-serif" >66</text>
<text x="550.2" y="603.0" font-size="14" fill="#2a2a18" text-anchor="middle" font-weight="normal" font-family="Liberation Serif, sans-serif" >17</text>
<text x="588.2" y="603.0" font-size="14" fill="#2a2a18" text-anchor="middle" font-weight="normal" font-family="Liberation Serif, sans-serif" >31</text>
<text transform="translate(493.3,550.5) rotate(-21)" y="4.39" font-size="12.2" fill="#000" text-anchor="middle" font-family="Liberation Sans, sans-serif">PD-L1</text>
<text transform="translate(604.2,559.9) rotate(28)" y="4.64" font-size="12.9" fill="#000" text-anchor="middle" font-family="Liberation Sans, sans-serif">Nivolumab</text>
<rect x="30.7" y="356" width="336.3" height="153.0" fill="#c6cdd7"/>
<rect x="30.7" y="509.0" width="336.3" height="152.60000000000002" fill="#8c99ad"/>
<line x1="68.3" y1="356.0" x2="68.3" y2="661.6" stroke="#f2f2f2" stroke-width="0.8"/>
<line x1="154.3" y1="356.0" x2="154.3" y2="661.6" stroke="#f2f2f2" stroke-width="0.8"/>
<line x1="240.3" y1="356.0" x2="240.3" y2="661.6" stroke="#f2f2f2" stroke-width="0.8"/>
<line x1="326.3" y1="356.0" x2="326.3" y2="661.6" stroke="#f2f2f2" stroke-width="0.8"/>
<line x1="111.3" y1="356.0" x2="111.3" y2="661.6" stroke="#c9c2b0" stroke-width="0.6"/>
<line x1="283.3" y1="356.0" x2="283.3" y2="661.6" stroke="#c9c2b0" stroke-width="0.6"/>
<line x1="111.3" y1="354.0" x2="111.3" y2="356.0" stroke="#555" stroke-width="0.5"/>
<line x1="197.3" y1="354.0" x2="197.3" y2="356.0" stroke="#555" stroke-width="0.5"/>
<line x1="283.3" y1="354.0" x2="283.3" y2="356.0" stroke="#555" stroke-width="0.5"/>
<text x="111.3" y="351.8" font-size="8.4" fill="#4d4d4d" text-anchor="middle" font-weight="normal" font-family="Liberation Sans, sans-serif" >1</text>
<text x="197.3" y="351.8" font-size="8.4" fill="#4d4d4d" text-anchor="middle" font-weight="normal" font-family="Liberation Sans, sans-serif" >0</text>
<text x="283.3" y="351.8" font-size="8.4" fill="#4d4d4d" text-anchor="middle" font-weight="normal" font-family="Liberation Sans, sans-serif" >1</text>
<text x="328.0" y="353.0" font-size="8.4" fill="#222" text-anchor="start" font-weight="normal" font-family="Liberation Sans, sans-serif" >GeneRatio</text>
<text x="68.3" y="671.8" font-size="8.4" fill="#4d4d4d" text-anchor="middle" font-weight="normal" font-family="Liberation Sans, sans-serif" >-6</text>
<text x="154.3" y="671.8" font-size="8.4" fill="#4d4d4d" text-anchor="middle" font-weight="normal" font-family="Liberation Sans, sans-serif" >-2</text>
<text x="197.3" y="671.8" font-size="8.4" fill="#4d4d4d" text-anchor="middle" font-weight="normal" font-family="Liberation Sans, sans-serif" >0</text>
<text x="240.3" y="671.8" font-size="8.4" fill="#4d4d4d" text-anchor="middle" font-weight="normal" font-family="Liberation Sans, sans-serif" >2</text>
<text x="326.3" y="671.8" font-size="8.4" fill="#4d4d4d" text-anchor="middle" font-weight="normal" font-family="Liberation Sans, sans-serif" >6</text>
<text x="338.5" y="671.8" font-size="8.4" fill="#222" text-anchor="start" font-weight="normal" font-family="Liberation Sans, sans-serif" >Z-score</text>
<text transform="translate(25.0,509.0) rotate(-90)" font-size="8.6" fill="#222" text-anchor="middle" font-weight="normal" font-family="Liberation Sans, sans-serif">Canonical Pathway</text>
<text transform="translate(42.0,382.0) rotate(-90)" font-size="8.4" fill="#222" text-anchor="middle" font-weight="normal" font-family="Liberation Sans, sans-serif">Upregulated</text>
<text transform="translate(42.5,627.4) rotate(-90)" font-size="8.4" fill="#222" text-anchor="middle" font-weight="normal" font-family="Liberation Sans, sans-serif">Downregulated</text>
<rect x="197.70000000000002" y="358.0" width="128.1" height="9" fill="#132b47"/>
<text x="194.6" y="363.7" font-size="5.4" fill="#222" text-anchor="end" font-weight="bold" font-family="Liberation Sans, sans-serif" >Oxidative Phosphorylation</text>
<rect x="197.70000000000002" y="368.1" width="115.0" height="9" fill="#132b47"/>
<text x="194.6" y="373.8" font-size="5.4" fill="#222" text-anchor="end" font-weight="bold" font-family="Liberation Sans, sans-serif" >EIF2 Signaling</text>
<rect x="197.70000000000002" y="378.2" width="72.3" height="9" fill="#132b47"/>
<text x="194.6" y="383.9" font-size="5.4" fill="#222" text-anchor="end" font-weight="bold" font-family="Liberation Sans, sans-serif" >Neutrophil Extracellular Trap Signaling Pathway</text>
<rect x="197.70000000000002" y="388.3" width="38.3" height="9" fill="#2f679c"/>
<text x="194.6" y="394.0" font-size="5.4" fill="#222" text-anchor="end" font-weight="bold" font-family="Liberation Sans, sans-serif" >Cell Cycle: G1/S Checkpoint Regulation</text>
<rect x="197.70000000000002" y="398.4" width="36.3" height="9" fill="#2c6094"/>
<text x="194.6" y="404.1" font-size="5.4" fill="#222" text-anchor="end" font-weight="bold" font-family="Liberation Sans, sans-serif" >p53 Signaling</text>
<rect x="197.70000000000002" y="408.4" width="31.3" height="9" fill="#132b47"/>
<text x="194.6" y="414.1" font-size="5.4" fill="#222" text-anchor="end" font-weight="bold" font-family="Liberation Sans, sans-serif" >Estrogen Receptor Signaling</text>
<rect x="197.70000000000002" y="418.5" width="30.1" height="9" fill="#1f4d7a"/>
<text x="194.6" y="424.2" font-size="5.4" fill="#222" text-anchor="end" font-weight="bold" font-family="Liberation Sans, sans-serif" >D-myo-inositol-5-phosphate Metabolism</text>
<rect x="197.70000000000002" y="428.6" width="24.3" height="9" fill="#132b47"/>
<text x="194.6" y="434.3" font-size="5.4" fill="#222" text-anchor="end" font-weight="bold" font-family="Liberation Sans, sans-serif" >mTOR Signaling</text>
<rect x="197.70000000000002" y="438.7" width="23.9" height="9" fill="#1c4269"/>
<text x="194.6" y="444.4" font-size="5.4" fill="#222" text-anchor="end" font-weight="bold" font-family="Liberation Sans, sans-serif" >Superpathway of Inositol Phosphate Compounds</text>
<rect x="197.70000000000002" y="448.8" width="21.2" height="9" fill="#56a0dc"/>
<text x="194.6" y="454.5" font-size="5.4" fill="#222" text-anchor="end" font-weight="bold" font-family="Liberation Sans, sans-serif" >Complement System</text>
<rect x="197.70000000000002" y="458.9" width="19.2" height="9" fill="#1a395d"/>
<rect x="70.39999999999999" y="459.8" width="125.2" height="7.2" rx="1.5" fill="#e5e37c"/>
<text x="194.6" y="464.6" font-size="5.4" fill="#222" text-anchor="end" font-weight="bold" font-family="Liberation Sans, sans-serif" >IL-12 Signaling and Production in Macrophages</text>
<rect x="197.70000000000002" y="469.0" width="15.3" height="9" fill="#1f4a77"/>
<rect x="30.899999999999995" y="469.9" width="164.7" height="7.2" rx="1.5" fill="#e5e37c"/>
<text x="194.6" y="474.7" font-size="5.4" fill="#222" text-anchor="end" font-weight="bold" font-family="Liberation Sans, sans-serif" >Role Of Osteoclasts In Rheumatoid Arthritis Signaling Pathway</text>
<rect x="197.70000000000002" y="479.1" width="15.0" height="9" fill="#132b47"/>
<text x="194.6" y="484.8" font-size="5.4" fill="#222" text-anchor="end" font-weight="bold" font-family="Liberation Sans, sans-serif" >Regulation of eIF4 and p70S6K Signaling</text>
<rect x="197.70000000000002" y="489.2" width="14.5" height="9" fill="#1d456f"/>
<text x="194.6" y="494.9" font-size="5.4" fill="#222" text-anchor="end" font-weight="bold" font-family="Liberation Sans, sans-serif" >3-phosphoinositide Biosynthesis</text>
<rect x="197.70000000000002" y="499.3" width="3.8" height="9" fill="#1a395d"/>
<text x="194.6" y="505.0" font-size="5.4" fill="#222" text-anchor="end" font-weight="bold" font-family="Liberation Sans, sans-serif" >Semaphorin Neuronal Repulsive Signaling Pathway</text>
<circle cx="225.3" cy="362.5" r="3.5" fill="#d9cca9" stroke="#f4efe0" stroke-width="0.5"/>
<circle cx="228.8" cy="372.6" r="3.7" fill="#d9cca9" stroke="#f4efe0" stroke-width="0.5"/>
<circle cx="212" cy="382.7" r="1.9" fill="#d9cca9" stroke="#f4efe0" stroke-width="0.5"/>
<circle cx="218.9" cy="392.8" r="3.0" fill="#d9cca9" stroke="#f4efe0" stroke-width="0.5"/>
<circle cx="216.7" cy="402.9" r="2.8" fill="#d9cca9" stroke="#f4efe0" stroke-width="0.5"/>
<circle cx="213" cy="412.9" r="2.1" fill="#d9cca9" stroke="#f4efe0" stroke-width="0.5"/>
<circle cx="213.7" cy="423.0" r="2.2" fill="#d9cca9" stroke="#f4efe0" stroke-width="0.5"/>
<circle cx="214.7" cy="433.1" r="2.4" fill="#d9cca9" stroke="#f4efe0" stroke-width="0.5"/>
<circle cx="213.2" cy="443.2" r="2.2" fill="#d9cca9" stroke="#f4efe0" stroke-width="0.5"/>
<circle cx="222.6" cy="453.3" r="3.2" fill="#d9cca9" stroke="#f4efe0" stroke-width="0.5"/>
<circle cx="213.4" cy="463.4" r="2.5" fill="#d9cca9" stroke="#f4efe0" stroke-width="0.5"/>
<circle cx="212" cy="473.5" r="1.8" fill="#d9cca9" stroke="#f4efe0" stroke-width="0.5"/>
<circle cx="219.9" cy="483.6" r="2.7" fill="#d9cca9" stroke="#f4efe0" stroke-width="0.5"/>
<circle cx="214.2" cy="493.7" r="2.0" fill="#d9cca9" stroke="#f4efe0" stroke-width="0.5"/>
<circle cx="215.2" cy="503.8" r="2.1" fill="#d9cca9" stroke="#f4efe0" stroke-width="0.5"/>
<rect x="182.1" y="510.4" width="15.2" height="9" fill="#2f6aa3"/>
<text x="204.1" y="516.0" font-size="5.4" fill="#222" text-anchor="start" font-weight="bold" font-family="Liberation Sans, sans-serif" >Protein Kinase A Signaling</text>
<rect x="177.1" y="520.5" width="20.2" height="9" fill="#132b47"/>
<text x="204.1" y="526.1" font-size="5.4" fill="#222" text-anchor="start" font-weight="bold" font-family="Liberation Sans, sans-serif" >HER-2 Signaling in Breast Cancer</text>
<rect x="174.6" y="530.6" width="22.7" height="9" fill="#2f6aa3"/>
<text x="204.1" y="536.2" font-size="5.4" fill="#222" text-anchor="start" font-weight="bold" font-family="Liberation Sans, sans-serif" >Pancreatic Adenocarcinoma Signaling</text>
<rect x="172.9" y="540.7" width="24.4" height="9" fill="#132b47"/>
<text x="204.1" y="546.3" font-size="5.4" fill="#222" text-anchor="start" font-weight="bold" font-family="Liberation Sans, sans-serif" >Role of BRCA1 in DNA Damage Response</text>
<rect x="167.9" y="550.8" width="29.4" height="9" fill="#295988"/>
<text x="204.1" y="556.4" font-size="5.4" fill="#222" text-anchor="start" font-weight="bold" font-family="Liberation Sans, sans-serif" >Lymphotoxin β Receptor Signaling</text>
<rect x="167.2" y="560.9" width="30.1" height="9" fill="#1a395d"/>
<text x="204.1" y="566.5" font-size="5.4" fill="#222" text-anchor="start" font-weight="bold" font-family="Liberation Sans, sans-serif" >Inhibition of Angiogenesis by TSP1</text>
<rect x="159.3" y="570.9" width="38.0" height="9" fill="#132b47"/>
<text x="204.1" y="576.5" font-size="5.4" fill="#222" text-anchor="start" font-weight="bold" font-family="Liberation Sans, sans-serif" >Coronavirus Pathogenesis Pathway</text>
<rect x="154" y="581.0" width="43.3" height="9" fill="#132b47"/>
<text x="204.1" y="586.6" font-size="5.4" fill="#222" text-anchor="start" font-weight="bold" font-family="Liberation Sans, sans-serif" >Sirtuin Signaling Pathway</text>
<rect x="151.8" y="591.1" width="45.5" height="9" fill="#132b47"/>
<text x="204.1" y="596.7" font-size="5.4" fill="#222" text-anchor="start" font-weight="bold" font-family="Liberation Sans, sans-serif" >Cholesterol Biosynthesis I</text>
<rect x="147.6" y="601.2" width="49.7" height="9" fill="#132b47"/>
<text x="204.1" y="606.8" font-size="5.4" fill="#222" text-anchor="start" font-weight="bold" font-family="Liberation Sans, sans-serif" >Ribonucleotide Reductase Signaling Pathway</text>
<rect x="147.6" y="611.3" width="49.7" height="9" fill="#152846"/>
<text x="204.1" y="616.9" font-size="5.4" fill="#222" text-anchor="start" font-weight="bold" font-family="Liberation Sans, sans-serif" >Mismatch Repair in Eukaryotes</text>
<rect x="143.9" y="621.4" width="53.4" height="9" fill="#132b47"/>
<text x="204.1" y="627.0" font-size="5.4" fill="#222" text-anchor="start" font-weight="bold" font-family="Liberation Sans, sans-serif" >Superpathway of Cholesterol Biosynthesis</text>
<rect x="142.9" y="631.5" width="54.4" height="9" fill="#1d3f63"/>
<text x="204.1" y="637.1" font-size="5.4" fill="#222" text-anchor="start" font-weight="bold" font-family="Liberation Sans, sans-serif" >Estrogen-mediated S-phase Entry</text>
<rect x="108.9" y="641.6" width="88.4" height="9" fill="#132b47"/>
<text x="204.1" y="647.2" font-size="5.4" fill="#222" text-anchor="start" font-weight="bold" font-family="Liberation Sans, sans-serif" >Cell Cycle Control of Chromosomal Replication</text>
<rect x="90" y="651.7" width="107.3" height="9" fill="#132b47"/>
<text x="204.1" y="657.3" font-size="5.4" fill="#222" text-anchor="start" font-weight="bold" font-family="Liberation Sans, sans-serif" >Mitochondrial Dysfunction</text>
<circle cx="184.1" cy="514.9" r="0.9" fill="#d9cca9" stroke="#f4efe0" stroke-width="0.5"/>
<circle cx="180.8" cy="525.0" r="2.2" fill="#d9cca9" stroke="#f4efe0" stroke-width="0.5"/>
<circle cx="179.6" cy="535.1" r="2.6" fill="#d9cca9" stroke="#f4efe0" stroke-width="0.5"/>
<circle cx="168.4" cy="545.2" r="3.4" fill="#d9cca9" stroke="#f4efe0" stroke-width="0.5"/>
<circle cx="173.9" cy="555.3" r="3.1" fill="#d9cca9" stroke="#f4efe0" stroke-width="0.5"/>
<circle cx="167" cy="565.4" r="3.6" fill="#d9cca9" stroke="#f4efe0" stroke-width="0.5"/>
<circle cx="174.9" cy="575.4" r="3.0" fill="#d9cca9" stroke="#f4efe0" stroke-width="0.5"/>
<circle cx="180.3" cy="585.5" r="2.2" fill="#d9cca9" stroke="#f4efe0" stroke-width="0.5"/>
<circle cx="144.9" cy="595.6" r="4.9" fill="#d9cca9" stroke="#f4efe0" stroke-width="0.5"/>
<circle cx="179.4" cy="605.7" r="2.4" fill="#d9cca9" stroke="#f4efe0" stroke-width="0.5"/>
<circle cx="154.3" cy="615.8" r="4.4" fill="#d9cca9" stroke="#f4efe0" stroke-width="0.5"/>
<circle cx="159" cy="625.9" r="4.1" fill="#d9cca9" stroke="#f4efe0" stroke-width="0.5"/>
<circle cx="164.5" cy="636.0" r="3.8" fill="#d9cca9" stroke="#f4efe0" stroke-width="0.5"/>
<circle cx="165.2" cy="646.1" r="3.7" fill="#d9cca9" stroke="#f4efe0" stroke-width="0.5"/>
<circle cx="180.3" cy="656.2" r="2.2" fill="#d9cca9" stroke="#f4efe0" stroke-width="0.5"/>
<text x="372.6" y="423.2" font-size="7.8" fill="#222" text-anchor="start" font-weight="normal" font-family="Liberation Sans, sans-serif" >GeneRatio</text>
<path d="M376.9 433.8h0" stroke="#d3c7a5" stroke-opacity="1.0" stroke-width="3.2" stroke-linecap="round" fill="none"/>
<text x="386.9" y="435.9" font-size="6.1" fill="#222" text-anchor="start" font-weight="normal" font-family="Liberation Sans, sans-serif" >0.2</text>
<path d="M376.9 444.8h0" stroke="#d3c7a5" stroke-opacity="1.0" stroke-width="6.4" stroke-linecap="round" fill="none"/>
<text x="386.9" y="446.9" font-size="6.1" fill="#222" text-anchor="start" font-weight="normal" font-family="Liberation Sans, sans-serif" >0.4</text>
<path d="M376.9 458.1h0" stroke="#d3c7a5" stroke-opacity="1.0" stroke-width="8.8" stroke-linecap="round" fill="none"/>
<text x="386.9" y="460.2" font-size="6.1" fill="#222" text-anchor="start" font-weight="normal" font-family="Liberation Sans, sans-serif" >0.6</text>
<text x="372.6" y="487.2" font-size="7.8" fill="#222" text-anchor="start" font-weight="normal" font-family="Liberation Sans, sans-serif" >P value</text>
<defs><linearGradient id="pg" x1="0" y1="0" x2="0" y2="1"><stop offset="0" stop-color="#56a0dc"/><stop offset="0.5" stop-color="#2f679c"/><stop offset="1" stop-color="#132b43"/></linearGradient></defs>
<rect x="373.8" y="493" width="12.2" height="60.6" fill="url(#pg)"/>
<text x="390.5" y="507.6" font-size="6.1" fill="#222" text-anchor="start" font-weight="normal" font-family="Liberation Sans, sans-serif" >9e-04</text>
<line x1="373.8" y1="505.5" x2="376.2" y2="505.5" stroke="#e8eef5" stroke-width="0.4"/>
<line x1="383.6" y1="505.5" x2="386.0" y2="505.5" stroke="#e8eef5" stroke-width="0.4"/>
<text x="390.5" y="523.9" font-size="6.1" fill="#222" text-anchor="start" font-weight="normal" font-family="Liberation Sans, sans-serif" >6e-04</text>
<line x1="373.8" y1="521.8" x2="376.2" y2="521.8" stroke="#e8eef5" stroke-width="0.4"/>
<line x1="383.6" y1="521.8" x2="386.0" y2="521.8" stroke="#e8eef5" stroke-width="0.4"/>
<text x="390.5" y="540.1" font-size="6.1" fill="#222" text-anchor="start" font-weight="normal" font-family="Liberation Sans, sans-serif" >3e-04</text>
<line x1="373.8" y1="538.0" x2="376.2" y2="538.0" stroke="#e8eef5" stroke-width="0.4"/>
<line x1="383.6" y1="538.0" x2="386.0" y2="538.0" stroke="#e8eef5" stroke-width="0.4"/>
</g>
</svg></body></html>
